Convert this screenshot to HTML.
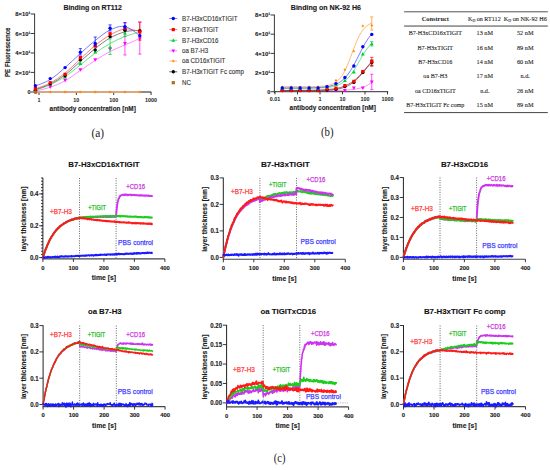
<!DOCTYPE html>
<html><head><meta charset="utf-8"><style>
html,body{margin:0;padding:0;background:#fff;}
body{width:550px;height:470px;overflow:hidden;}
svg{display:block;font-family:"Liberation Sans", sans-serif;}
</style></head><body>
<svg width="550" height="470" viewBox="0 0 550 470">
<rect width="550" height="470" fill="#fff"/>
<line x1="34.60" y1="13.60" x2="34.60" y2="92.60" stroke="#222" stroke-width="0.9"/>
<line x1="34.15" y1="92.00" x2="151.30" y2="92.00" stroke="#666" stroke-width="1.3"/>
<line x1="30.80" y1="14.00" x2="34.60" y2="14.00" stroke="#222" stroke-width="0.9"/>
<text x="30.50" y="16.10" font-size="5.5" fill="#222" stroke="#222" stroke-width="0.1" text-anchor="end" font-weight="bold" textLength="15.20" lengthAdjust="spacingAndGlyphs">8×10¹</text>
<line x1="30.80" y1="33.50" x2="34.60" y2="33.50" stroke="#222" stroke-width="0.9"/>
<text x="30.50" y="35.60" font-size="5.5" fill="#222" stroke="#222" stroke-width="0.1" text-anchor="end" font-weight="bold" textLength="15.20" lengthAdjust="spacingAndGlyphs">6×10¹</text>
<line x1="30.80" y1="53.00" x2="34.60" y2="53.00" stroke="#222" stroke-width="0.9"/>
<text x="30.50" y="55.10" font-size="5.5" fill="#222" stroke="#222" stroke-width="0.1" text-anchor="end" font-weight="bold" textLength="15.20" lengthAdjust="spacingAndGlyphs">4×10¹</text>
<line x1="30.80" y1="72.40" x2="34.60" y2="72.40" stroke="#222" stroke-width="0.9"/>
<text x="30.50" y="74.50" font-size="5.5" fill="#222" stroke="#222" stroke-width="0.1" text-anchor="end" font-weight="bold" textLength="15.20" lengthAdjust="spacingAndGlyphs">2×10¹</text>
<line x1="30.80" y1="92.00" x2="34.60" y2="92.00" stroke="#222" stroke-width="0.9"/>
<text x="30.50" y="94.10" font-size="5.5" fill="#222" stroke="#222" stroke-width="0.1" text-anchor="end" font-weight="bold">0</text>
<line x1="39.00" y1="92.00" x2="39.00" y2="95.00" stroke="#222" stroke-width="0.9"/>
<text x="39.00" y="101.60" font-size="5.4" fill="#222" text-anchor="middle" font-weight="bold">1</text>
<line x1="76.35" y1="92.00" x2="76.35" y2="95.00" stroke="#222" stroke-width="0.9"/>
<text x="76.35" y="101.60" font-size="5.4" fill="#222" text-anchor="middle" font-weight="bold">10</text>
<line x1="113.70" y1="92.00" x2="113.70" y2="95.00" stroke="#222" stroke-width="0.9"/>
<text x="113.70" y="101.60" font-size="5.4" fill="#222" text-anchor="middle" font-weight="bold">100</text>
<line x1="151.05" y1="92.00" x2="151.05" y2="95.00" stroke="#222" stroke-width="0.9"/>
<text x="151.05" y="101.60" font-size="5.4" fill="#222" text-anchor="middle" font-weight="bold">1000</text>
<text x="49.60" y="111.30" font-size="6.5" fill="#1a1a1a" stroke="#1a1a1a" stroke-width="0.12" font-weight="bold" textLength="86.20" lengthAdjust="spacingAndGlyphs">antibody concentration [nM]</text>
<text x="10.40" y="77.00" font-size="6.8" fill="#1a1a1a" stroke="#1a1a1a" stroke-width="0.15" font-weight="bold" textLength="49.50" lengthAdjust="spacingAndGlyphs" transform="rotate(-90 10.40 77.00)">PE Fluorescence</text>
<text x="63.40" y="10.00" font-size="7.4" fill="#1a1a1a" stroke="#1a1a1a" stroke-width="0.15" font-weight="bold" textLength="58.60" lengthAdjust="spacingAndGlyphs">Binding on RT112</text>
<line x1="35.40" y1="92.00" x2="139.80" y2="92.00" stroke="#f2b27a" stroke-width="1.3"/>
<path d="M35.38 91.00C37.86 90.37 45.29 88.90 50.24 87.20C55.20 85.50 60.09 83.58 65.11 80.80C70.12 78.02 75.34 73.88 80.35 70.50C85.37 67.12 90.26 63.67 95.22 60.50C100.17 57.33 105.13 54.08 110.08 51.50C115.03 48.92 119.99 47.17 124.94 45.00C129.90 42.83 137.33 39.58 139.81 38.50" fill="none" stroke="#ff66ff" stroke-width="0.75"/>
<path d="M35.38 90.20C37.86 89.30 45.29 87.08 50.24 84.80C55.20 82.52 60.09 79.80 65.11 76.50C70.12 73.20 75.34 68.92 80.35 65.00C85.37 61.08 90.26 56.58 95.22 53.00C100.17 49.42 105.13 46.25 110.08 43.50C115.03 40.75 119.99 38.42 124.94 36.50C129.90 34.58 137.33 32.75 139.81 32.00" fill="none" stroke="#33dd66" stroke-width="0.75"/>
<path d="M35.38 89.60C37.86 88.67 45.29 86.47 50.24 84.00C55.20 81.53 60.09 78.55 65.11 74.80C70.12 71.05 75.34 65.88 80.35 61.50C85.37 57.12 90.26 52.42 95.22 48.50C100.17 44.58 105.13 40.78 110.08 38.00C115.03 35.22 119.99 33.10 124.94 31.80C129.90 30.50 137.33 30.47 139.81 30.20" fill="none" stroke="#555555" stroke-width="0.75"/>
<path d="M35.38 88.80C37.86 87.83 45.29 85.63 50.24 83.00C55.20 80.37 60.09 77.00 65.11 73.00C70.12 69.00 75.34 63.58 80.35 59.00C85.37 54.42 90.26 49.50 95.22 45.50C100.17 41.50 105.13 37.75 110.08 35.00C115.03 32.25 119.99 29.58 124.94 29.00C129.90 28.42 137.33 31.08 139.81 31.50" fill="none" stroke="#ff5050" stroke-width="0.75"/>
<path d="M35.38 86.00C37.86 84.92 45.29 82.58 50.24 79.50C55.20 76.42 60.09 71.83 65.11 67.50C70.12 63.17 75.34 58.00 80.35 53.50C85.37 49.00 90.26 44.42 95.22 40.50C100.17 36.58 105.13 32.33 110.08 30.00C115.03 27.67 119.99 25.58 124.94 26.50C129.90 27.42 137.33 34.00 139.81 35.50" fill="none" stroke="#4d4dff" stroke-width="0.75"/>
<line x1="124.94" y1="22.70" x2="124.94" y2="55.00" stroke="#ff00ff" stroke-width="0.7"/>
<line x1="123.34" y1="22.70" x2="126.54" y2="22.70" stroke="#ff00ff" stroke-width="0.7"/>
<line x1="123.34" y1="55.00" x2="126.54" y2="55.00" stroke="#ff00ff" stroke-width="0.7"/>
<line x1="139.81" y1="22.10" x2="139.81" y2="54.10" stroke="#ff00ff" stroke-width="0.7"/>
<line x1="138.21" y1="22.10" x2="141.41" y2="22.10" stroke="#ff00ff" stroke-width="0.7"/>
<line x1="138.21" y1="54.10" x2="141.41" y2="54.10" stroke="#ff00ff" stroke-width="0.7"/>
<path d="M35.38 93.20L37.28 89.78L33.48 89.78Z" fill="#ff00ff"/>
<path d="M50.24 88.90L52.14 85.48L48.34 85.48Z" fill="#ff00ff"/>
<path d="M65.11 82.20L67.01 78.78L63.21 78.78Z" fill="#ff00ff"/>
<path d="M80.35 71.70L82.25 68.28L78.45 68.28Z" fill="#ff00ff"/>
<path d="M95.22 61.70L97.12 58.28L93.32 58.28Z" fill="#ff00ff"/>
<path d="M110.08 50.90L111.98 47.48L108.18 47.48Z" fill="#ff00ff"/>
<path d="M124.94 45.50L126.84 42.08L123.04 42.08Z" fill="#ff00ff"/>
<path d="M139.81 40.70L141.71 37.28L137.91 37.28Z" fill="#ff00ff"/>
<line x1="110.08" y1="38.80" x2="110.08" y2="54.50" stroke="#00cc33" stroke-width="0.7"/>
<line x1="108.48" y1="38.80" x2="111.68" y2="38.80" stroke="#00cc33" stroke-width="0.7"/>
<line x1="108.48" y1="54.50" x2="111.68" y2="54.50" stroke="#00cc33" stroke-width="0.7"/>
<line x1="124.94" y1="29.50" x2="124.94" y2="36.50" stroke="#00cc33" stroke-width="0.7"/>
<line x1="123.34" y1="29.50" x2="126.54" y2="29.50" stroke="#00cc33" stroke-width="0.7"/>
<line x1="123.34" y1="36.50" x2="126.54" y2="36.50" stroke="#00cc33" stroke-width="0.7"/>
<path d="M35.38 89.10L37.28 92.52L33.48 92.52Z" fill="#00cc33"/>
<path d="M50.24 82.70L52.14 86.12L48.34 86.12Z" fill="#00cc33"/>
<path d="M65.11 75.20L67.01 78.62L63.21 78.62Z" fill="#00cc33"/>
<path d="M80.35 61.50L82.25 64.92L78.45 64.92Z" fill="#00cc33"/>
<path d="M95.22 50.10L97.12 53.52L93.32 53.52Z" fill="#00cc33"/>
<path d="M110.08 45.40L111.98 48.82L108.18 48.82Z" fill="#00cc33"/>
<path d="M124.94 31.00L126.84 34.42L123.04 34.42Z" fill="#00cc33"/>
<path d="M139.81 28.60L141.71 32.02L137.91 32.02Z" fill="#00cc33"/>
<circle cx="35.38" cy="90.20" r="1.70" fill="#000000"/>
<circle cx="50.24" cy="83.80" r="1.70" fill="#000000"/>
<circle cx="65.11" cy="75.80" r="1.70" fill="#000000"/>
<circle cx="80.35" cy="59.90" r="1.70" fill="#000000"/>
<circle cx="95.22" cy="49.90" r="1.70" fill="#000000"/>
<circle cx="110.08" cy="36.60" r="1.70" fill="#000000"/>
<circle cx="124.94" cy="30.30" r="1.70" fill="#000000"/>
<circle cx="139.81" cy="30.70" r="1.70" fill="#000000"/>
<line x1="139.81" y1="22.10" x2="139.81" y2="40.20" stroke="#ff0000" stroke-width="0.7"/>
<line x1="138.21" y1="22.10" x2="141.41" y2="22.10" stroke="#ff0000" stroke-width="0.7"/>
<line x1="138.21" y1="40.20" x2="141.41" y2="40.20" stroke="#ff0000" stroke-width="0.7"/>
<rect x="33.78" y="87.00" width="3.20" height="3.20" fill="#ff0000"/>
<rect x="48.64" y="81.10" width="3.20" height="3.20" fill="#ff0000"/>
<rect x="63.51" y="72.70" width="3.20" height="3.20" fill="#ff0000"/>
<rect x="78.75" y="55.90" width="3.20" height="3.20" fill="#ff0000"/>
<rect x="93.62" y="44.50" width="3.20" height="3.20" fill="#ff0000"/>
<rect x="108.48" y="32.10" width="3.20" height="3.20" fill="#ff0000"/>
<rect x="123.34" y="27.00" width="3.20" height="3.20" fill="#ff0000"/>
<rect x="138.21" y="30.40" width="3.20" height="3.20" fill="#ff0000"/>
<line x1="80.35" y1="48.60" x2="80.35" y2="55.00" stroke="#0000ff" stroke-width="0.7"/>
<line x1="78.75" y1="48.60" x2="81.95" y2="48.60" stroke="#0000ff" stroke-width="0.7"/>
<line x1="78.75" y1="55.00" x2="81.95" y2="55.00" stroke="#0000ff" stroke-width="0.7"/>
<line x1="95.22" y1="37.00" x2="95.22" y2="46.00" stroke="#0000ff" stroke-width="0.7"/>
<line x1="93.62" y1="37.00" x2="96.82" y2="37.00" stroke="#0000ff" stroke-width="0.7"/>
<line x1="93.62" y1="46.00" x2="96.82" y2="46.00" stroke="#0000ff" stroke-width="0.7"/>
<line x1="110.08" y1="24.90" x2="110.08" y2="31.00" stroke="#0000ff" stroke-width="0.7"/>
<line x1="108.48" y1="24.90" x2="111.68" y2="24.90" stroke="#0000ff" stroke-width="0.7"/>
<line x1="108.48" y1="31.00" x2="111.68" y2="31.00" stroke="#0000ff" stroke-width="0.7"/>
<line x1="124.94" y1="22.70" x2="124.94" y2="29.00" stroke="#0000ff" stroke-width="0.7"/>
<line x1="123.34" y1="22.70" x2="126.54" y2="22.70" stroke="#0000ff" stroke-width="0.7"/>
<line x1="123.34" y1="29.00" x2="126.54" y2="29.00" stroke="#0000ff" stroke-width="0.7"/>
<circle cx="35.38" cy="85.70" r="1.70" fill="#0000ff"/>
<circle cx="50.24" cy="78.60" r="1.70" fill="#0000ff"/>
<circle cx="65.11" cy="67.60" r="1.70" fill="#0000ff"/>
<circle cx="80.35" cy="52.20" r="1.70" fill="#0000ff"/>
<circle cx="95.22" cy="43.50" r="1.70" fill="#0000ff"/>
<circle cx="110.08" cy="28.30" r="1.70" fill="#0000ff"/>
<circle cx="124.94" cy="26.60" r="1.70" fill="#0000ff"/>
<circle cx="139.81" cy="35.80" r="1.70" fill="#0000ff"/>
<circle cx="35.38" cy="92.00" r="1.36" fill="#ff8c1a"/>
<circle cx="50.24" cy="92.00" r="1.36" fill="#ff8c1a"/>
<circle cx="65.11" cy="92.00" r="1.36" fill="#ff8c1a"/>
<circle cx="80.35" cy="92.00" r="1.36" fill="#ff8c1a"/>
<circle cx="95.22" cy="92.00" r="1.36" fill="#ff8c1a"/>
<circle cx="110.08" cy="92.00" r="1.36" fill="#ff8c1a"/>
<circle cx="124.94" cy="92.00" r="1.36" fill="#ff8c1a"/>
<circle cx="139.81" cy="92.00" r="1.36" fill="#ff8c1a"/>
<rect x="34.0" y="90.6" width="3.2" height="3.2" fill="#b06a20"/>
<line x1="169.30" y1="18.50" x2="177.30" y2="18.50" stroke="#6060ff" stroke-width="0.8"/>
<circle cx="173.30" cy="18.50" r="1.70" fill="#0000ff"/>
<text x="182.00" y="20.80" font-size="6.6" fill="#333" stroke="#333" stroke-width="0.12" textLength="55.47" lengthAdjust="spacingAndGlyphs">B7-H3xCD16xTIGIT</text>
<line x1="169.30" y1="29.60" x2="177.30" y2="29.60" stroke="#ff5050" stroke-width="0.8"/>
<rect x="171.70" y="28.00" width="3.20" height="3.20" fill="#ff0000"/>
<text x="182.00" y="31.90" font-size="6.6" fill="#333" stroke="#333" stroke-width="0.12" textLength="36.52" lengthAdjust="spacingAndGlyphs">B7-H3xTIGIT</text>
<line x1="169.30" y1="40.30" x2="177.30" y2="40.30" stroke="#40dd70" stroke-width="0.8"/>
<path d="M173.30 38.40L175.20 41.82L171.40 41.82Z" fill="#00cc33"/>
<text x="182.00" y="42.60" font-size="6.6" fill="#333" stroke="#333" stroke-width="0.12" textLength="36.53" lengthAdjust="spacingAndGlyphs">B7-H3xCD16</text>
<line x1="169.30" y1="50.90" x2="177.30" y2="50.90" stroke="#ff70ff" stroke-width="0.8"/>
<path d="M173.30 52.80L175.20 49.38L171.40 49.38Z" fill="#ff00ff"/>
<text x="182.00" y="53.20" font-size="6.6" fill="#333" stroke="#333" stroke-width="0.12" textLength="26.19" lengthAdjust="spacingAndGlyphs">oa B7-H3</text>
<line x1="169.30" y1="61.10" x2="177.30" y2="61.10" stroke="#ffaa50" stroke-width="0.8"/>
<path d="M173.30 59.70L174.70 61.10L173.30 62.50L171.90 61.10Z" fill="#ff8c00"/>
<text x="182.00" y="63.40" font-size="6.6" fill="#333" stroke="#333" stroke-width="0.12" textLength="43.41" lengthAdjust="spacingAndGlyphs">oa CD16xTIGIT</text>
<line x1="169.30" y1="71.80" x2="177.30" y2="71.80" stroke="#444" stroke-width="0.8"/>
<circle cx="173.30" cy="71.80" r="1.70" fill="#000000"/>
<text x="182.00" y="74.10" font-size="6.6" fill="#333" stroke="#333" stroke-width="0.12" textLength="61.90" lengthAdjust="spacingAndGlyphs">B7-H3xTIGIT Fc comp</text>
<rect x="171.7" y="81.10" width="3.2" height="3.2" fill="#b06a20"/>
<text x="182.00" y="85.00" font-size="6.6" fill="#333" stroke="#333" stroke-width="0.12" textLength="8.96" lengthAdjust="spacingAndGlyphs">NC</text>
<line x1="274.40" y1="14.60" x2="274.40" y2="93.20" stroke="#222" stroke-width="0.9"/>
<line x1="273.95" y1="91.60" x2="388.20" y2="91.60" stroke="#555" stroke-width="1.2"/>
<line x1="270.60" y1="15.00" x2="274.40" y2="15.00" stroke="#222" stroke-width="0.9"/>
<text x="270.30" y="17.10" font-size="5.5" fill="#222" stroke="#222" stroke-width="0.1" text-anchor="end" font-weight="bold" textLength="15.20" lengthAdjust="spacingAndGlyphs">8×10¹</text>
<line x1="270.60" y1="34.20" x2="274.40" y2="34.20" stroke="#222" stroke-width="0.9"/>
<text x="270.30" y="36.30" font-size="5.5" fill="#222" stroke="#222" stroke-width="0.1" text-anchor="end" font-weight="bold" textLength="15.20" lengthAdjust="spacingAndGlyphs">6×10¹</text>
<line x1="270.60" y1="53.40" x2="274.40" y2="53.40" stroke="#222" stroke-width="0.9"/>
<text x="270.30" y="55.50" font-size="5.5" fill="#222" stroke="#222" stroke-width="0.1" text-anchor="end" font-weight="bold" textLength="15.20" lengthAdjust="spacingAndGlyphs">4×10¹</text>
<line x1="270.60" y1="72.50" x2="274.40" y2="72.50" stroke="#222" stroke-width="0.9"/>
<text x="270.30" y="74.60" font-size="5.5" fill="#222" stroke="#222" stroke-width="0.1" text-anchor="end" font-weight="bold" textLength="15.20" lengthAdjust="spacingAndGlyphs">2×10¹</text>
<line x1="270.60" y1="91.70" x2="274.40" y2="91.70" stroke="#222" stroke-width="0.9"/>
<text x="270.30" y="93.80" font-size="5.5" fill="#222" stroke="#222" stroke-width="0.1" text-anchor="end" font-weight="bold">0</text>
<line x1="275.00" y1="91.60" x2="275.00" y2="94.40" stroke="#222" stroke-width="0.9"/>
<text x="275.00" y="100.60" font-size="5.4" fill="#222" text-anchor="middle" font-weight="bold">0.01</text>
<line x1="297.50" y1="91.60" x2="297.50" y2="94.40" stroke="#222" stroke-width="0.9"/>
<text x="297.50" y="100.60" font-size="5.4" fill="#222" text-anchor="middle" font-weight="bold">0.1</text>
<line x1="320.00" y1="91.60" x2="320.00" y2="94.40" stroke="#222" stroke-width="0.9"/>
<text x="320.00" y="100.60" font-size="5.4" fill="#222" text-anchor="middle" font-weight="bold">1</text>
<line x1="342.50" y1="91.60" x2="342.50" y2="94.40" stroke="#222" stroke-width="0.9"/>
<text x="342.50" y="100.60" font-size="5.4" fill="#222" text-anchor="middle" font-weight="bold">10</text>
<line x1="365.00" y1="91.60" x2="365.00" y2="94.40" stroke="#222" stroke-width="0.9"/>
<text x="365.00" y="100.60" font-size="5.4" fill="#222" text-anchor="middle" font-weight="bold">100</text>
<line x1="387.50" y1="91.60" x2="387.50" y2="94.40" stroke="#222" stroke-width="0.9"/>
<text x="387.50" y="100.60" font-size="5.4" fill="#222" text-anchor="middle" font-weight="bold">1000</text>
<text x="289.60" y="110.20" font-size="6.5" fill="#1a1a1a" stroke="#1a1a1a" stroke-width="0.12" font-weight="bold" textLength="86.20" lengthAdjust="spacingAndGlyphs">antibody concentration [nM]</text>
<text x="290.80" y="10.00" font-size="7.4" fill="#1a1a1a" stroke="#1a1a1a" stroke-width="0.15" font-weight="bold" textLength="70.20" lengthAdjust="spacingAndGlyphs">Binding on NK-92 H6</text>
<polyline points="281.77,86.70 283.30,86.70 284.82,86.70 286.35,86.70 287.87,86.70 289.40,86.70 290.93,86.70 292.45,86.70 293.98,86.69 295.50,86.69 297.03,86.69 298.55,86.69 300.08,86.69 301.60,86.68 303.13,86.68 304.65,86.67 306.18,86.66 307.71,86.65 309.23,86.64 310.76,86.62 312.28,86.60 313.81,86.57 315.33,86.53 316.86,86.48 318.38,86.42 319.91,86.35 321.43,86.25 322.96,86.12 324.49,85.96 326.01,85.75 327.54,85.48 329.06,85.15 330.59,84.72 332.11,84.18 333.64,83.50 335.16,82.66 336.69,81.60 338.21,80.30 339.74,78.70 341.26,76.78 342.79,74.49 344.32,71.82 345.84,68.75 347.37,65.31 348.89,61.57 350.42,57.59 351.94,53.49 353.47,49.39 354.99,45.43 356.52,41.70 358.04,38.29 359.57,35.26 361.10,32.61 362.62,30.35 364.15,28.46 365.67,26.89 367.20,25.61 368.72,24.57 370.25,23.74 371.77,23.07" fill="none" stroke="#ffa040" stroke-width="0.75"/>
<polyline points="281.77,90.60 283.30,90.60 284.82,90.60 286.35,90.60 287.87,90.60 289.40,90.60 290.93,90.60 292.45,90.60 293.98,90.60 295.50,90.60 297.03,90.60 298.55,90.60 300.08,90.60 301.60,90.60 303.13,90.60 304.65,90.59 306.18,90.59 307.71,90.59 309.23,90.59 310.76,90.59 312.28,90.59 313.81,90.59 315.33,90.58 316.86,90.58 318.38,90.58 319.91,90.57 321.43,90.57 322.96,90.56 324.49,90.55 326.01,90.54 327.54,90.53 329.06,90.52 330.59,90.51 332.11,90.49 333.64,90.47 335.16,90.45 336.69,90.42 338.21,90.38 339.74,90.34 341.26,90.30 342.79,90.24 344.32,90.17 345.84,90.10 347.37,90.00 348.89,89.89 350.42,89.76 351.94,89.61 353.47,89.43 354.99,89.21 356.52,88.96 358.04,88.66 359.57,88.31 361.10,87.90 362.62,87.41 364.15,86.84 365.67,86.16 367.20,85.37 368.72,84.45 370.25,83.37 371.77,82.11" fill="none" stroke="#ff66ff" stroke-width="0.75"/>
<polyline points="281.77,90.60 283.30,90.60 284.82,90.60 286.35,90.60 287.87,90.60 289.40,90.59 290.93,90.59 292.45,90.59 293.98,90.59 295.50,90.59 297.03,90.59 298.55,90.58 300.08,90.58 301.60,90.58 303.13,90.57 304.65,90.57 306.18,90.56 307.71,90.55 309.23,90.54 310.76,90.53 312.28,90.52 313.81,90.50 315.33,90.48 316.86,90.46 318.38,90.43 319.91,90.40 321.43,90.36 322.96,90.31 324.49,90.25 326.01,90.18 327.54,90.10 329.06,90.01 330.59,89.89 332.11,89.76 333.64,89.60 335.16,89.40 336.69,89.18 338.21,88.91 339.74,88.59 341.26,88.22 342.79,87.79 344.32,87.28 345.84,86.70 347.37,86.02 348.89,85.24 350.42,84.34 351.94,83.34 353.47,82.20 354.99,80.95 356.52,79.56 358.04,78.06 359.57,76.46 361.10,74.76 362.62,72.99 364.15,71.17 365.67,69.34 367.20,67.53 368.72,65.75 370.25,64.04 371.77,62.42" fill="none" stroke="#444" stroke-width="0.75"/>
<polyline points="281.77,90.39 283.30,90.39 284.82,90.39 286.35,90.39 287.87,90.38 289.40,90.38 290.93,90.38 292.45,90.38 293.98,90.37 295.50,90.37 297.03,90.36 298.55,90.35 300.08,90.35 301.60,90.34 303.13,90.33 304.65,90.32 306.18,90.30 307.71,90.28 309.23,90.27 310.76,90.24 312.28,90.22 313.81,90.19 315.33,90.15 316.86,90.11 318.38,90.06 319.91,90.01 321.43,89.94 322.96,89.87 324.49,89.78 326.01,89.68 327.54,89.56 329.06,89.42 330.59,89.27 332.11,89.08 333.64,88.87 335.16,88.62 336.69,88.34 338.21,88.01 339.74,87.64 341.26,87.21 342.79,86.72 344.32,86.16 345.84,85.53 347.37,84.81 348.89,84.01 350.42,83.11 351.94,82.11 353.47,81.00 354.99,79.78 356.52,78.46 358.04,77.03 359.57,75.50 361.10,73.89 362.62,72.19 364.15,70.44 365.67,68.64 367.20,66.82 368.72,64.99 370.25,63.19 371.77,61.43" fill="none" stroke="#cc2020" stroke-width="0.75"/>
<polyline points="281.77,88.30 283.30,88.30 284.82,88.30 286.35,88.30 287.87,88.29 289.40,88.29 290.93,88.29 292.45,88.29 293.98,88.29 295.50,88.29 297.03,88.28 298.55,88.28 300.08,88.28 301.60,88.27 303.13,88.26 304.65,88.26 306.18,88.25 307.71,88.23 309.23,88.22 310.76,88.20 312.28,88.18 313.81,88.15 315.33,88.12 316.86,88.08 318.38,88.04 319.91,87.98 321.43,87.91 322.96,87.82 324.49,87.72 326.01,87.59 327.54,87.44 329.06,87.25 330.59,87.03 332.11,86.76 333.64,86.43 335.16,86.04 336.69,85.57 338.21,85.01 339.74,84.34 341.26,83.55 342.79,82.62 344.32,81.53 345.84,80.26 347.37,78.81 348.89,77.16 350.42,75.30 351.94,73.25 353.47,71.01 354.99,68.61 356.52,66.08 358.04,63.46 359.57,60.80 361.10,58.15 362.62,55.57 364.15,53.09 365.67,50.77 367.20,48.62 368.72,46.66 370.25,44.91 371.77,43.35" fill="none" stroke="#33dd66" stroke-width="0.75"/>
<polyline points="281.77,87.99 283.30,87.99 284.82,87.99 286.35,87.99 287.87,87.99 289.40,87.99 290.93,87.98 292.45,87.98 293.98,87.98 295.50,87.97 297.03,87.97 298.55,87.96 300.08,87.95 301.60,87.94 303.13,87.93 304.65,87.92 306.18,87.90 307.71,87.88 309.23,87.85 310.76,87.82 312.28,87.78 313.81,87.74 315.33,87.69 316.86,87.62 318.38,87.54 319.91,87.45 321.43,87.34 322.96,87.21 324.49,87.04 326.01,86.85 327.54,86.62 329.06,86.34 330.59,86.01 332.11,85.61 333.64,85.14 335.16,84.58 336.69,83.93 338.21,83.15 339.74,82.24 341.26,81.17 342.79,79.94 344.32,78.52 345.84,76.90 347.37,75.07 348.89,73.02 350.42,70.76 351.94,68.29 353.47,65.63 354.99,62.81 356.52,59.87 358.04,56.86 359.57,53.83 361.10,50.83 362.62,47.92 364.15,45.13 365.67,42.51 367.20,40.07 368.72,37.85 370.25,35.85 371.77,34.06" fill="none" stroke="#4d4dff" stroke-width="0.75"/>
<line x1="371.77" y1="16.90" x2="371.77" y2="30.00" stroke="#ff8c00" stroke-width="0.7"/>
<line x1="370.17" y1="16.90" x2="373.37" y2="16.90" stroke="#ff8c00" stroke-width="0.7"/>
<line x1="370.17" y1="30.00" x2="373.37" y2="30.00" stroke="#ff8c00" stroke-width="0.7"/>
<path d="M282.24 85.40L283.64 86.80L282.24 88.20L280.84 86.80Z" fill="#ff8c00"/>
<path d="M291.19 85.40L292.59 86.80L291.19 88.20L289.79 86.80Z" fill="#ff8c00"/>
<path d="M300.14 85.40L301.54 86.80L300.14 88.20L298.74 86.80Z" fill="#ff8c00"/>
<path d="M309.10 85.40L310.50 86.80L309.10 88.20L307.70 86.80Z" fill="#ff8c00"/>
<path d="M318.05 85.40L319.45 86.80L318.05 88.20L316.65 86.80Z" fill="#ff8c00"/>
<path d="M327.00 84.80L328.40 86.20L327.00 87.60L325.60 86.20Z" fill="#ff8c00"/>
<path d="M335.96 79.10L337.36 80.50L335.96 81.90L334.56 80.50Z" fill="#ff8c00"/>
<path d="M344.91 68.30L346.31 69.70L344.91 71.10L343.51 69.70Z" fill="#ff8c00"/>
<path d="M353.87 49.80L355.27 51.20L353.87 52.60L352.47 51.20Z" fill="#ff8c00"/>
<path d="M362.82 24.50L364.22 25.90L362.82 27.30L361.42 25.90Z" fill="#ff8c00"/>
<path d="M371.77 24.00L373.17 25.40L371.77 26.80L370.37 25.40Z" fill="#ff8c00"/>
<line x1="371.77" y1="74.20" x2="371.77" y2="89.60" stroke="#ff00ff" stroke-width="0.7"/>
<line x1="370.17" y1="74.20" x2="373.37" y2="74.20" stroke="#ff00ff" stroke-width="0.7"/>
<line x1="370.17" y1="89.60" x2="373.37" y2="89.60" stroke="#ff00ff" stroke-width="0.7"/>
<path d="M282.24 92.50L284.14 89.08L280.34 89.08Z" fill="#ff00ff"/>
<path d="M291.19 92.50L293.09 89.08L289.29 89.08Z" fill="#ff00ff"/>
<path d="M300.14 92.50L302.04 89.08L298.24 89.08Z" fill="#ff00ff"/>
<path d="M309.10 92.50L311.00 89.08L307.20 89.08Z" fill="#ff00ff"/>
<path d="M318.05 92.50L319.95 89.08L316.15 89.08Z" fill="#ff00ff"/>
<path d="M327.00 92.50L328.90 89.08L325.10 89.08Z" fill="#ff00ff"/>
<path d="M335.96 92.50L337.86 89.08L334.06 89.08Z" fill="#ff00ff"/>
<path d="M344.91 92.50L346.81 89.08L343.01 89.08Z" fill="#ff00ff"/>
<path d="M353.87 90.00L355.77 86.58L351.97 86.58Z" fill="#ff00ff"/>
<path d="M362.82 90.00L364.72 86.58L360.92 86.58Z" fill="#ff00ff"/>
<path d="M371.77 83.90L373.67 80.48L369.87 80.48Z" fill="#ff00ff"/>
<line x1="371.77" y1="60.00" x2="371.77" y2="66.00" stroke="#000000" stroke-width="0.7"/>
<line x1="370.17" y1="60.00" x2="373.37" y2="60.00" stroke="#000000" stroke-width="0.7"/>
<line x1="370.17" y1="66.00" x2="373.37" y2="66.00" stroke="#000000" stroke-width="0.7"/>
<circle cx="282.24" cy="90.60" r="1.70" fill="#000000"/>
<circle cx="291.19" cy="90.60" r="1.70" fill="#000000"/>
<circle cx="300.14" cy="90.60" r="1.70" fill="#000000"/>
<circle cx="309.10" cy="90.60" r="1.70" fill="#000000"/>
<circle cx="318.05" cy="90.60" r="1.70" fill="#000000"/>
<circle cx="327.00" cy="90.00" r="1.70" fill="#000000"/>
<circle cx="335.96" cy="89.30" r="1.70" fill="#000000"/>
<circle cx="344.91" cy="86.60" r="1.70" fill="#000000"/>
<circle cx="353.87" cy="82.40" r="1.70" fill="#000000"/>
<circle cx="362.82" cy="72.50" r="1.70" fill="#000000"/>
<circle cx="371.77" cy="62.50" r="1.70" fill="#000000"/>
<line x1="371.77" y1="57.40" x2="371.77" y2="65.70" stroke="#ff0000" stroke-width="0.7"/>
<line x1="370.17" y1="57.40" x2="373.37" y2="57.40" stroke="#ff0000" stroke-width="0.7"/>
<line x1="370.17" y1="65.70" x2="373.37" y2="65.70" stroke="#ff0000" stroke-width="0.7"/>
<rect x="280.64" y="88.80" width="3.20" height="3.20" fill="#ff0000"/>
<rect x="289.59" y="88.80" width="3.20" height="3.20" fill="#ff0000"/>
<rect x="298.54" y="88.80" width="3.20" height="3.20" fill="#ff0000"/>
<rect x="307.50" y="88.80" width="3.20" height="3.20" fill="#ff0000"/>
<rect x="316.45" y="88.80" width="3.20" height="3.20" fill="#ff0000"/>
<rect x="325.40" y="87.40" width="3.20" height="3.20" fill="#ff0000"/>
<rect x="334.36" y="86.70" width="3.20" height="3.20" fill="#ff0000"/>
<rect x="343.31" y="84.00" width="3.20" height="3.20" fill="#ff0000"/>
<rect x="352.27" y="79.80" width="3.20" height="3.20" fill="#ff0000"/>
<rect x="361.22" y="69.90" width="3.20" height="3.20" fill="#ff0000"/>
<rect x="370.17" y="59.90" width="3.20" height="3.20" fill="#ff0000"/>
<line x1="371.77" y1="41.60" x2="371.77" y2="46.00" stroke="#00cc33" stroke-width="0.7"/>
<line x1="370.17" y1="41.60" x2="373.37" y2="41.60" stroke="#00cc33" stroke-width="0.7"/>
<line x1="370.17" y1="46.00" x2="373.37" y2="46.00" stroke="#00cc33" stroke-width="0.7"/>
<path d="M282.24 86.60L284.14 90.02L280.34 90.02Z" fill="#00cc33"/>
<path d="M291.19 86.60L293.09 90.02L289.29 90.02Z" fill="#00cc33"/>
<path d="M300.14 86.60L302.04 90.02L298.24 90.02Z" fill="#00cc33"/>
<path d="M309.10 86.60L311.00 90.02L307.20 90.02Z" fill="#00cc33"/>
<path d="M318.05 86.60L319.95 90.02L316.15 90.02Z" fill="#00cc33"/>
<path d="M327.00 85.00L328.90 88.42L325.10 88.42Z" fill="#00cc33"/>
<path d="M335.96 82.80L337.86 86.22L334.06 86.22Z" fill="#00cc33"/>
<path d="M344.91 78.60L346.81 82.02L343.01 82.02Z" fill="#00cc33"/>
<path d="M353.87 70.10L355.77 73.52L351.97 73.52Z" fill="#00cc33"/>
<path d="M362.82 52.10L364.72 55.52L360.92 55.52Z" fill="#00cc33"/>
<path d="M371.77 41.90L373.67 45.32L369.87 45.32Z" fill="#00cc33"/>
<circle cx="282.24" cy="88.00" r="1.70" fill="#0000ff"/>
<circle cx="291.19" cy="88.00" r="1.70" fill="#0000ff"/>
<circle cx="300.14" cy="88.00" r="1.70" fill="#0000ff"/>
<circle cx="309.10" cy="88.00" r="1.70" fill="#0000ff"/>
<circle cx="318.05" cy="88.00" r="1.70" fill="#0000ff"/>
<circle cx="327.00" cy="86.60" r="1.70" fill="#0000ff"/>
<circle cx="335.96" cy="83.60" r="1.70" fill="#0000ff"/>
<circle cx="344.91" cy="77.50" r="1.70" fill="#0000ff"/>
<circle cx="353.87" cy="66.00" r="1.70" fill="#0000ff"/>
<circle cx="362.82" cy="46.70" r="1.70" fill="#0000ff"/>
<circle cx="371.77" cy="34.40" r="1.70" fill="#0000ff"/>
<rect x="404.1" y="11.3" width="143.7" height="1.0" fill="#555"/>
<rect x="404.1" y="25.5" width="143.7" height="1.1" fill="#555"/>
<rect x="404.1" y="112.0" width="143.7" height="1.1" fill="#555"/>
<text x="435.30" y="20.70" font-size="6.9" fill="#222" text-anchor="middle" font-weight="bold" font-family='"Liberation Serif", serif' textLength="27.20" lengthAdjust="spacingAndGlyphs">Construct</text>
<text x="468.0" y="20.9" font-size="6.7" fill="#222" stroke="#222" stroke-width="0.1" textLength="32.7" lengthAdjust="spacingAndGlyphs" font-family='"Liberation Serif", serif'>K<tspan font-size="4.3" dy="1.2">D</tspan><tspan dy="-1.2"> on RT112</tspan></text>
<text x="503.7" y="20.9" font-size="6.7" fill="#222" stroke="#222" stroke-width="0.1" textLength="43.1" lengthAdjust="spacingAndGlyphs" font-family='"Liberation Serif", serif'>K<tspan font-size="4.3" dy="1.2">D</tspan><tspan dy="-1.2"> on NK-92 H6</tspan></text>
<text x="435.30" y="35.40" font-size="7.0" fill="#222" stroke="#222" stroke-width="0.1" text-anchor="middle" font-family='"Liberation Serif", serif' textLength="53.20" lengthAdjust="spacingAndGlyphs">B7-H3xCD16xTIGIT</text>
<text x="484.80" y="35.40" font-size="7.0" fill="#222" stroke="#222" stroke-width="0.1" text-anchor="middle" font-family='"Liberation Serif", serif' textLength="16.36" lengthAdjust="spacingAndGlyphs">13 nM</text>
<text x="525.20" y="35.40" font-size="7.0" fill="#222" stroke="#222" stroke-width="0.1" text-anchor="middle" font-family='"Liberation Serif", serif' textLength="16.63" lengthAdjust="spacingAndGlyphs">52 nM</text>
<text x="435.30" y="49.70" font-size="7.0" fill="#222" stroke="#222" stroke-width="0.1" text-anchor="middle" font-family='"Liberation Serif", serif' textLength="35.58" lengthAdjust="spacingAndGlyphs">B7-H3xTIGIT</text>
<text x="484.80" y="49.70" font-size="7.0" fill="#222" stroke="#222" stroke-width="0.1" text-anchor="middle" font-family='"Liberation Serif", serif' textLength="16.36" lengthAdjust="spacingAndGlyphs">16 nM</text>
<text x="525.20" y="49.70" font-size="7.0" fill="#222" stroke="#222" stroke-width="0.1" text-anchor="middle" font-family='"Liberation Serif", serif' textLength="16.63" lengthAdjust="spacingAndGlyphs">89 nM</text>
<text x="435.30" y="64.00" font-size="7.0" fill="#222" stroke="#222" stroke-width="0.1" text-anchor="middle" font-family='"Liberation Serif", serif' textLength="34.23" lengthAdjust="spacingAndGlyphs">B7-H3xCD16</text>
<text x="484.80" y="64.00" font-size="7.0" fill="#222" stroke="#222" stroke-width="0.1" text-anchor="middle" font-family='"Liberation Serif", serif' textLength="16.36" lengthAdjust="spacingAndGlyphs">14 nM</text>
<text x="525.20" y="64.00" font-size="7.0" fill="#222" stroke="#222" stroke-width="0.1" text-anchor="middle" font-family='"Liberation Serif", serif' textLength="16.63" lengthAdjust="spacingAndGlyphs">60 nM</text>
<text x="435.30" y="78.30" font-size="7.0" fill="#222" stroke="#222" stroke-width="0.1" text-anchor="middle" font-family='"Liberation Serif", serif' textLength="23.89" lengthAdjust="spacingAndGlyphs">oa B7-H3</text>
<text x="484.80" y="78.30" font-size="7.0" fill="#222" stroke="#222" stroke-width="0.1" text-anchor="middle" font-family='"Liberation Serif", serif' textLength="16.36" lengthAdjust="spacingAndGlyphs">17 nM</text>
<text x="525.20" y="78.30" font-size="7.0" fill="#222" stroke="#222" stroke-width="0.1" text-anchor="middle" font-family='"Liberation Serif", serif' textLength="9.45" lengthAdjust="spacingAndGlyphs">n.d.</text>
<text x="435.30" y="92.60" font-size="7.0" fill="#222" stroke="#222" stroke-width="0.1" text-anchor="middle" font-family='"Liberation Serif", serif' textLength="40.83" lengthAdjust="spacingAndGlyphs">oa CD16xTIGIT</text>
<text x="484.80" y="92.60" font-size="7.0" fill="#222" stroke="#222" stroke-width="0.1" text-anchor="middle" font-family='"Liberation Serif", serif' textLength="9.30" lengthAdjust="spacingAndGlyphs">n.d.</text>
<text x="525.20" y="92.60" font-size="7.0" fill="#222" stroke="#222" stroke-width="0.1" text-anchor="middle" font-family='"Liberation Serif", serif' textLength="16.63" lengthAdjust="spacingAndGlyphs">26 nM</text>
<text x="435.30" y="106.90" font-size="7.0" fill="#222" stroke="#222" stroke-width="0.1" text-anchor="middle" font-family='"Liberation Serif", serif' textLength="58.17" lengthAdjust="spacingAndGlyphs">B7-H3xTIGIT Fc comp</text>
<text x="484.80" y="106.90" font-size="7.0" fill="#222" stroke="#222" stroke-width="0.1" text-anchor="middle" font-family='"Liberation Serif", serif' textLength="16.36" lengthAdjust="spacingAndGlyphs">15 nM</text>
<text x="525.20" y="106.90" font-size="7.0" fill="#222" stroke="#222" stroke-width="0.1" text-anchor="middle" font-family='"Liberation Serif", serif' textLength="16.63" lengthAdjust="spacingAndGlyphs">89 nM</text>
<path d="M41.00 257.60H42.90M41.00 254.42H42.90M41.00 251.23H42.90M41.00 248.05H42.90M41.00 244.86H42.90M41.00 241.68H42.90M41.00 238.50H42.90M41.00 235.31H42.90M41.00 232.13H42.90M41.00 228.94H42.90M41.00 225.76H42.90M41.00 222.58H42.90M41.00 219.39H42.90M41.00 216.21H42.90M41.00 213.02H42.90M41.00 209.84H42.90M41.00 206.66H42.90M41.00 203.47H42.90M41.00 200.29H42.90M41.00 197.10H42.90M41.00 193.92H42.90M41.00 190.74H42.90M41.00 187.55H42.90M41.00 184.37H42.90M41.00 181.18H42.90M41.00 178.00H42.90" stroke="#222" stroke-width="0.9"/>
<line x1="42.90" y1="177.70" x2="42.90" y2="258.90" stroke="#222" stroke-width="1.0"/>
<line x1="42.40" y1="258.90" x2="164.90" y2="258.90" stroke="#444" stroke-width="1.1"/>
<line x1="39.20" y1="257.60" x2="42.90" y2="257.60" stroke="#222" stroke-width="0.9"/>
<text x="38.40" y="259.90" font-size="6.4" fill="#222" stroke="#222" stroke-width="0.12" text-anchor="end" font-weight="bold" textLength="8.40" lengthAdjust="spacingAndGlyphs">0.0</text>
<line x1="39.20" y1="225.76" x2="42.90" y2="225.76" stroke="#222" stroke-width="0.9"/>
<text x="38.40" y="228.06" font-size="6.4" fill="#222" stroke="#222" stroke-width="0.12" text-anchor="end" font-weight="bold" textLength="8.40" lengthAdjust="spacingAndGlyphs">0.2</text>
<line x1="39.20" y1="193.92" x2="42.90" y2="193.92" stroke="#222" stroke-width="0.9"/>
<text x="38.40" y="196.22" font-size="6.4" fill="#222" stroke="#222" stroke-width="0.12" text-anchor="end" font-weight="bold" textLength="8.40" lengthAdjust="spacingAndGlyphs">0.4</text>
<line x1="42.90" y1="258.90" x2="42.90" y2="261.90" stroke="#222" stroke-width="0.9"/>
<text x="42.90" y="269.50" font-size="6.2" fill="#222" stroke="#222" stroke-width="0.12" text-anchor="middle" font-weight="bold" textLength="3.30" lengthAdjust="spacingAndGlyphs">0</text>
<line x1="73.40" y1="258.90" x2="73.40" y2="261.90" stroke="#222" stroke-width="0.9"/>
<text x="73.40" y="269.50" font-size="6.2" fill="#222" stroke="#222" stroke-width="0.12" text-anchor="middle" font-weight="bold" textLength="9.90" lengthAdjust="spacingAndGlyphs">100</text>
<line x1="103.90" y1="258.90" x2="103.90" y2="261.90" stroke="#222" stroke-width="0.9"/>
<text x="103.90" y="269.50" font-size="6.2" fill="#222" stroke="#222" stroke-width="0.12" text-anchor="middle" font-weight="bold" textLength="9.90" lengthAdjust="spacingAndGlyphs">200</text>
<line x1="134.40" y1="258.90" x2="134.40" y2="261.90" stroke="#222" stroke-width="0.9"/>
<text x="134.40" y="269.50" font-size="6.2" fill="#222" stroke="#222" stroke-width="0.12" text-anchor="middle" font-weight="bold" textLength="9.90" lengthAdjust="spacingAndGlyphs">300</text>
<line x1="164.90" y1="258.90" x2="164.90" y2="261.90" stroke="#222" stroke-width="0.9"/>
<text x="164.90" y="269.50" font-size="6.2" fill="#222" stroke="#222" stroke-width="0.12" text-anchor="middle" font-weight="bold" textLength="9.90" lengthAdjust="spacingAndGlyphs">400</text>
<line x1="79.50" y1="178.00" x2="79.50" y2="258.90" stroke="#555" stroke-width="0.9" stroke-dasharray="1 1.4"/>
<line x1="116.10" y1="178.00" x2="116.10" y2="258.90" stroke="#555" stroke-width="0.9" stroke-dasharray="1 1.4"/>
<text x="91.80" y="280.20" font-size="6.9" fill="#1a1a1a" stroke="#1a1a1a" stroke-width="0.12" font-weight="bold" textLength="24.30" lengthAdjust="spacingAndGlyphs">time [s]</text>
<text x="26.20" y="251.40" font-size="6.8" fill="#1a1a1a" stroke="#1a1a1a" stroke-width="0.12" font-weight="bold" textLength="65.00" lengthAdjust="spacingAndGlyphs" transform="rotate(-90 26.20 251.40)">layer thickness [nm]</text>
<text x="68.30" y="166.80" font-size="8.1" fill="#111" stroke="#111" stroke-width="0.1" font-weight="bold" textLength="71.30" lengthAdjust="spacingAndGlyphs">B7-H3xCD16xTIGIT</text>
<text x="49.90" y="213.60" font-size="7.3" fill="#ff3b3b" stroke="#ff3b3b" stroke-width="0.25" textLength="22.00" lengthAdjust="spacingAndGlyphs">+B7-H3</text>
<text x="88.30" y="210.00" font-size="7.3" fill="#22bb22" stroke="#22bb22" stroke-width="0.25" textLength="17.60" lengthAdjust="spacingAndGlyphs">+TIGIT</text>
<text x="126.30" y="188.60" font-size="7.3" fill="#cc33dd" stroke="#cc33dd" stroke-width="0.25" textLength="18.80" lengthAdjust="spacingAndGlyphs">+CD16</text>
<text x="118.00" y="244.90" font-size="7.3" fill="#3d3dff" stroke="#3d3dff" stroke-width="0.25" textLength="35.10" lengthAdjust="spacingAndGlyphs">PBS control</text>
<polyline points="42.9,257.6 43.2,256.5 43.5,255.7 43.8,254.8 44.1,253.8 44.4,253.0 44.7,251.9 45.0,250.8 45.3,250.3 45.6,249.5 45.9,248.5 46.3,247.7 46.6,247.0 46.9,246.5 47.2,245.6 47.5,244.7 47.8,244.4 48.1,243.6 48.4,243.2 48.7,242.4 49.0,241.9 49.3,240.9 49.6,240.5 49.9,239.7 50.2,239.1 50.5,238.6 50.8,238.5 51.1,237.6 51.4,237.0 51.7,236.4 52.0,236.2 52.4,235.6 52.7,235.2 53.0,234.7 53.3,233.9 53.6,233.8 53.9,233.2 54.2,232.6 54.5,232.5 54.8,232.0 55.1,231.5 55.4,231.2 55.7,231.0 56.0,230.4 56.3,229.8 56.6,230.0 56.9,229.2 57.2,229.0 57.5,228.9 57.8,228.0 58.1,228.0 58.5,228.0 58.8,227.5 59.1,227.1 59.4,227.0 59.7,226.6 60.0,226.4 60.3,226.0 60.6,225.6 60.9,225.8 61.2,225.4 61.5,225.3 61.8,224.9 62.1,224.9 62.4,224.6 62.7,224.3 63.0,223.9 63.3,223.6 63.6,223.9 63.9,223.6 64.2,223.2 64.6,223.5 64.9,223.0 65.2,222.7 65.5,222.3 65.8,222.3 66.1,222.3 66.4,222.1 66.7,221.9 67.0,221.5 67.3,221.7 67.6,221.5 67.9,221.2 68.2,221.2 68.5,221.1 68.8,221.1 69.1,220.8 69.4,220.7 69.7,220.3 70.0,220.3 70.3,220.3 70.7,220.0 71.0,220.1 71.3,219.7 71.6,219.8 71.9,219.6 72.2,219.9 72.5,219.5 72.8,219.7 73.1,219.7 73.4,219.3 73.7,219.3 74.0,219.0 74.3,218.5 74.6,219.0 74.9,218.9 75.2,218.7 75.5,218.6 75.8,218.6 76.1,218.5 76.4,218.3 76.8,218.3 77.1,218.5 77.4,218.2 77.7,218.1 78.0,218.3 78.3,218.0 78.6,218.1 78.9,217.7 79.2,217.8 79.5,217.8 79.8,217.9 80.1,217.8 80.4,218.1 80.7,217.9 81.0,217.6 81.3,218.0 81.6,217.5 81.9,217.9 82.2,217.4 82.5,217.7 82.9,217.4 83.2,217.5 83.5,217.8 83.8,217.2 84.1,217.2 84.4,217.4 84.7,217.5 85.0,217.4 85.3,217.6 85.6,217.2 85.9,217.5 86.2,217.3 86.5,217.5 86.8,217.4 87.1,217.5 87.4,217.0 87.7,217.3 88.0,217.1 88.3,217.2 88.7,217.3 89.0,217.3 89.3,217.3 89.6,217.2 89.9,217.2 90.2,217.2 90.5,217.4 90.8,217.3 91.1,216.8 91.4,217.2 91.7,217.3 92.0,217.0 92.3,216.8 92.6,217.3 92.9,217.1 93.2,217.2 93.5,217.4 93.8,216.9 94.1,217.0 94.4,217.0 94.8,217.1 95.1,216.9 95.4,217.1 95.7,217.0 96.0,217.2 96.3,217.2 96.6,216.7 96.9,217.0 97.2,216.9 97.5,216.9 97.8,217.0 98.1,217.0 98.4,216.8 98.7,216.9 99.0,216.9 99.3,216.9 99.6,216.6 99.9,216.7 100.2,216.8 100.5,216.9 100.8,217.1 101.2,216.6 101.5,216.6 101.8,216.8 102.1,216.7 102.4,216.7 102.7,216.6 103.0,216.6 103.3,216.9 103.6,216.5 103.9,217.0 104.2,216.6 104.5,216.7 104.8,216.6 105.1,216.4 105.4,216.5 105.7,217.0 106.0,217.1 106.3,216.6 106.6,216.9 106.9,216.7 107.3,216.6 107.6,217.0 107.9,217.1 108.2,216.7 108.5,216.7 108.8,216.8 109.1,216.7 109.4,216.9 109.7,217.0 110.0,216.7 110.3,216.9 110.6,217.0 110.9,216.6 111.2,216.7 111.5,216.6 111.8,216.9 112.1,216.8 112.4,216.9 112.7,216.8 113.0,216.6 113.4,216.8 113.7,216.6 114.0,216.6 114.3,216.3 114.6,216.9 114.9,216.5 115.2,216.7 115.5,216.6 115.8,216.9 116.1,216.6 116.4,212.4 116.7,209.2 117.0,206.5 117.3,204.4 117.6,202.3 117.9,201.0 118.2,200.3 118.5,199.0 118.8,198.4 119.2,198.0 119.5,197.0 119.8,196.2 120.1,196.1 120.4,196.0 120.7,195.7 121.0,195.2 121.3,195.2 121.6,195.1 121.9,195.0 122.2,194.9 122.5,194.7 122.8,194.7 123.1,194.8 123.4,195.0 123.7,194.7 124.0,194.9 124.3,194.5 124.6,195.0 124.9,194.8 125.2,194.7 125.6,195.0 125.9,194.4 126.2,194.5 126.5,194.8 126.8,194.6 127.1,194.7 127.4,195.3 127.7,194.8 128.0,194.8 128.3,194.8 128.6,195.0 128.9,194.9 129.2,194.9 129.5,194.7 129.8,194.8 130.1,194.9 130.4,194.6 130.7,195.0 131.0,195.0 131.3,195.3 131.7,194.7 132.0,194.8 132.3,194.8 132.6,194.9 132.9,195.0 133.2,195.0 133.5,195.1 133.8,195.1 134.1,195.1 134.4,194.8 134.7,195.0 135.0,195.2 135.3,195.3 135.6,195.3 135.9,194.9 136.2,195.1 136.5,195.2 136.8,195.3 137.1,195.5 137.4,195.3 137.8,195.1 138.1,195.4 138.4,195.3 138.7,195.4 139.0,195.3 139.3,195.7 139.6,195.4 139.9,195.5 140.2,195.2 140.5,195.6 140.8,195.3 141.1,195.1 141.4,195.5 141.7,195.6 142.0,195.4 142.3,195.5 142.6,195.7 142.9,195.4 143.2,195.2 143.5,195.6 143.9,195.6 144.2,195.8 144.5,195.5 144.8,195.8 145.1,195.8 145.4,195.4 145.7,195.8 146.0,195.5 146.3,195.4 146.6,195.6 146.9,195.6 147.2,195.4 147.5,195.8 147.8,195.9 148.1,196.0 148.4,195.8 148.7,195.5 149.0,195.6 149.3,196.0 149.7,196.0 150.0,196.0 150.3,195.8 150.6,195.9 150.9,195.9 151.2,195.9 151.5,196.0 151.8,196.0 152.1,195.9 152.4,196.0 152.7,195.9" fill="none" stroke="#cc33ee" stroke-width="1.9" stroke-linejoin="round"/>
<polyline points="42.9,257.2 43.2,256.5 43.5,255.6 43.8,255.0 44.1,253.7 44.4,253.2 44.7,252.2 45.0,250.9 45.3,250.1 45.6,249.4 45.9,248.9 46.3,247.9 46.6,247.2 46.9,246.2 47.2,245.1 47.5,244.8 47.8,244.3 48.1,243.7 48.4,242.8 48.7,242.2 49.0,241.7 49.3,240.9 49.6,240.5 49.9,239.5 50.2,238.9 50.5,238.4 50.8,238.1 51.1,237.4 51.4,237.0 51.7,236.5 52.0,236.0 52.4,235.7 52.7,235.3 53.0,234.4 53.3,234.1 53.6,233.6 53.9,233.0 54.2,233.1 54.5,232.5 54.8,231.9 55.1,231.5 55.4,231.3 55.7,230.6 56.0,230.4 56.3,230.3 56.6,229.9 56.9,229.2 57.2,229.0 57.5,229.1 57.8,228.2 58.1,228.0 58.5,227.6 58.8,227.6 59.1,227.3 59.4,227.2 59.7,226.2 60.0,226.4 60.3,225.9 60.6,226.0 60.9,225.6 61.2,225.7 61.5,225.2 61.8,224.8 62.1,225.0 62.4,224.3 62.7,224.2 63.0,224.3 63.3,224.0 63.6,223.7 63.9,223.5 64.2,223.4 64.6,223.2 64.9,223.0 65.2,222.9 65.5,222.8 65.8,222.4 66.1,222.1 66.4,222.4 66.7,221.9 67.0,221.9 67.3,221.8 67.6,221.3 67.9,221.4 68.2,220.9 68.5,221.2 68.8,220.8 69.1,220.8 69.4,220.8 69.7,220.4 70.0,220.4 70.3,220.2 70.7,220.2 71.0,220.3 71.3,220.0 71.6,219.8 71.9,219.5 72.2,219.8 72.5,219.5 72.8,219.8 73.1,219.2 73.4,219.4 73.7,219.5 74.0,219.1 74.3,218.8 74.6,219.2 74.9,219.0 75.2,218.9 75.5,218.9 75.8,218.5 76.1,218.6 76.4,218.6 76.8,218.2 77.1,218.4 77.4,218.1 77.7,218.3 78.0,218.3 78.3,218.4 78.6,217.6 78.9,218.0 79.2,217.8 79.5,217.8 79.8,217.7 80.1,217.7 80.4,217.3 80.7,217.8 81.0,217.9 81.3,217.8 81.6,217.8 81.9,217.4 82.2,217.3 82.5,217.6 82.9,217.7 83.2,217.4 83.5,217.1 83.8,217.9 84.1,217.2 84.4,217.5 84.7,217.0 85.0,217.4 85.3,217.2 85.6,217.4 85.9,217.3 86.2,216.8 86.5,216.9 86.8,217.1 87.1,217.2 87.4,217.4 87.7,217.1 88.0,217.0 88.3,217.0 88.7,216.9 89.0,217.1 89.3,216.9 89.6,216.9 89.9,216.6 90.2,216.5 90.5,216.8 90.8,216.9 91.1,216.8 91.4,216.9 91.7,216.9 92.0,216.7 92.3,216.9 92.6,216.6 92.9,216.7 93.2,216.6 93.5,216.7 93.8,216.8 94.1,216.8 94.4,216.6 94.8,216.7 95.1,216.5 95.4,216.6 95.7,216.8 96.0,216.5 96.3,216.8 96.6,216.6 96.9,216.6 97.2,216.9 97.5,216.5 97.8,216.4 98.1,216.5 98.4,216.5 98.7,216.5 99.0,216.6 99.3,216.5 99.6,216.5 99.9,216.4 100.2,216.6 100.5,216.3 100.8,216.3 101.2,216.4 101.5,216.4 101.8,216.2 102.1,216.6 102.4,216.2 102.7,216.3 103.0,216.2 103.3,216.2 103.6,216.4 103.9,216.3 104.2,216.1 104.5,216.2 104.8,216.2 105.1,216.5 105.4,216.1 105.7,216.0 106.0,216.0 106.3,216.2 106.6,216.5 106.9,216.0 107.3,216.2 107.6,216.7 107.9,216.1 108.2,216.5 108.5,216.4 108.8,216.3 109.1,215.9 109.4,216.2 109.7,216.1 110.0,215.8 110.3,215.8 110.6,216.2 110.9,216.2 111.2,216.4 111.5,216.3 111.8,216.0 112.1,216.0 112.4,216.1 112.7,215.9 113.0,216.2 113.4,216.1 113.7,216.0 114.0,216.0 114.3,215.9 114.6,216.0 114.9,216.1 115.2,216.0 115.5,216.3 115.8,216.4 116.1,215.8 116.4,215.9 116.7,215.9 117.0,216.3 117.3,216.0 117.6,216.1 117.9,216.2 118.2,216.4 118.5,216.1 118.8,215.9 119.2,216.0 119.5,216.2 119.8,216.1 120.1,216.0 120.4,216.7 120.7,216.2 121.0,216.1 121.3,216.0 121.6,215.9 121.9,216.0 122.2,216.2 122.5,216.2 122.8,216.1 123.1,216.4 123.4,216.3 123.7,216.1 124.0,215.9 124.3,216.4 124.6,216.4 124.9,216.3 125.2,216.1 125.6,216.4 125.9,216.1 126.2,216.6 126.5,216.5 126.8,216.5 127.1,216.3 127.4,216.3 127.7,216.8 128.0,216.7 128.3,216.5 128.6,216.7 128.9,216.8 129.2,216.4 129.5,216.5 129.8,216.5 130.1,216.7 130.4,216.4 130.7,216.7 131.0,216.4 131.3,216.8 131.7,216.8 132.0,216.7 132.3,216.8 132.6,216.6 132.9,216.7 133.2,216.9 133.5,216.8 133.8,216.8 134.1,216.6 134.4,216.9 134.7,216.9 135.0,216.6 135.3,216.4 135.6,216.5 135.9,216.9 136.2,216.8 136.5,216.6 136.8,216.9 137.1,217.1 137.4,216.9 137.8,216.9 138.1,217.1 138.4,217.3 138.7,217.3 139.0,216.9 139.3,217.2 139.6,217.1 139.9,217.0 140.2,216.9 140.5,217.1 140.8,217.0 141.1,217.3 141.4,217.2 141.7,217.3 142.0,216.9 142.3,217.1 142.6,217.3 142.9,217.2 143.2,217.2 143.5,217.1 143.9,217.5 144.2,217.4 144.5,217.3 144.8,216.8 145.1,217.1 145.4,217.3 145.7,217.1 146.0,216.9 146.3,217.3 146.6,217.4 146.9,217.1 147.2,217.2 147.5,217.2 147.8,217.4 148.1,217.0 148.4,217.0 148.7,217.3 149.0,217.3 149.3,217.8 149.7,217.3 150.0,217.5 150.3,217.4 150.6,217.3 150.9,217.5 151.2,217.8 151.5,217.4 151.8,217.6 152.1,217.6 152.4,217.6 152.7,217.6" fill="none" stroke="#1ccc1c" stroke-width="1.9" stroke-linejoin="round"/>
<polyline points="42.9,258.0 43.2,256.4 43.5,255.6 43.8,254.5 44.1,253.4 44.4,252.8 44.7,252.3 45.0,251.2 45.3,250.5 45.6,249.5 45.9,248.6 46.3,248.2 46.6,247.0 46.9,246.6 47.2,245.5 47.5,244.9 47.8,244.2 48.1,243.5 48.4,242.9 48.7,242.3 49.0,241.8 49.3,240.9 49.6,239.9 49.9,239.3 50.2,238.9 50.5,238.4 50.8,238.1 51.1,237.2 51.4,237.0 51.7,236.5 52.0,236.0 52.4,235.4 52.7,235.1 53.0,234.5 53.3,234.3 53.6,233.7 53.9,232.8 54.2,232.8 54.5,232.4 54.8,231.9 55.1,231.4 55.4,231.4 55.7,230.8 56.0,230.3 56.3,230.0 56.6,229.7 56.9,229.1 57.2,229.2 57.5,228.7 57.8,228.5 58.1,227.8 58.5,228.2 58.8,227.7 59.1,227.3 59.4,226.8 59.7,226.6 60.0,226.1 60.3,226.5 60.6,225.8 60.9,225.7 61.2,225.5 61.5,225.1 61.8,225.1 62.1,225.1 62.4,224.6 62.7,224.6 63.0,224.2 63.3,223.8 63.6,223.6 63.9,223.2 64.2,223.3 64.6,223.4 64.9,223.1 65.2,222.9 65.5,222.8 65.8,222.3 66.1,222.3 66.4,222.4 66.7,221.8 67.0,221.8 67.3,221.5 67.6,221.4 67.9,221.2 68.2,221.2 68.5,220.8 68.8,220.8 69.1,220.7 69.4,220.6 69.7,220.8 70.0,220.4 70.3,220.3 70.7,220.1 71.0,220.3 71.3,219.6 71.6,219.8 71.9,220.0 72.2,220.0 72.5,219.6 72.8,219.4 73.1,219.5 73.4,219.2 73.7,219.3 74.0,219.0 74.3,219.1 74.6,218.9 74.9,218.6 75.2,218.2 75.5,218.8 75.8,218.7 76.1,218.7 76.4,218.3 76.8,218.6 77.1,218.4 77.4,218.2 77.7,218.3 78.0,218.3 78.3,218.1 78.6,218.4 78.9,218.2 79.2,217.9 79.5,217.8 79.8,217.9 80.1,218.2 80.4,218.0 80.7,217.8 81.0,217.9 81.3,218.1 81.6,218.3 81.9,218.0 82.2,218.3 82.5,218.5 82.9,218.4 83.2,218.1 83.5,218.3 83.8,218.2 84.1,218.6 84.4,218.3 84.7,218.7 85.0,218.6 85.3,218.2 85.6,218.5 85.9,218.8 86.2,218.8 86.5,218.7 86.8,218.6 87.1,219.0 87.4,219.3 87.7,219.0 88.0,219.0 88.3,219.0 88.7,218.8 89.0,219.1 89.3,219.0 89.6,219.4 89.9,219.1 90.2,218.9 90.5,219.2 90.8,219.3 91.1,219.4 91.4,219.1 91.7,219.7 92.0,219.5 92.3,219.5 92.6,219.5 92.9,219.7 93.2,219.6 93.5,219.8 93.8,219.7 94.1,219.8 94.4,220.0 94.8,219.9 95.1,219.7 95.4,220.1 95.7,220.0 96.0,219.9 96.3,220.2 96.6,220.0 96.9,220.3 97.2,219.9 97.5,219.7 97.8,219.8 98.1,220.3 98.4,220.1 98.7,220.3 99.0,220.3 99.3,220.1 99.6,220.6 99.9,220.2 100.2,220.5 100.5,220.2 100.8,220.5 101.2,220.7 101.5,220.5 101.8,220.5 102.1,220.6 102.4,220.6 102.7,220.8 103.0,221.1 103.3,220.6 103.6,220.7 103.9,220.8 104.2,220.8 104.5,220.7 104.8,221.0 105.1,221.1 105.4,221.0 105.7,220.8 106.0,221.3 106.3,220.8 106.6,221.2 106.9,221.3 107.3,220.9 107.6,221.2 107.9,221.4 108.2,221.3 108.5,221.1 108.8,221.0 109.1,221.4 109.4,221.3 109.7,221.2 110.0,221.5 110.3,221.3 110.6,221.4 110.9,221.6 111.2,221.6 111.5,221.5 111.8,221.5 112.1,221.7 112.4,221.7 112.7,221.4 113.0,221.6 113.4,221.5 113.7,221.5 114.0,221.6 114.3,221.3 114.6,221.9 114.9,221.6 115.2,221.9 115.5,221.5 115.8,221.5 116.1,222.2 116.4,222.1 116.7,221.8 117.0,221.8 117.3,221.8 117.6,222.0 117.9,221.9 118.2,221.9 118.5,222.1 118.8,221.9 119.2,222.5 119.5,222.0 119.8,222.3 120.1,222.0 120.4,222.2 120.7,222.4 121.0,222.2 121.3,222.4 121.6,222.4 121.9,222.6 122.2,222.3 122.5,222.2 122.8,222.2 123.1,222.4 123.4,222.2 123.7,222.4 124.0,222.5 124.3,222.3 124.6,222.3 124.9,222.6 125.2,222.6 125.6,222.6 125.9,222.5 126.2,222.7 126.5,222.4 126.8,222.7 127.1,222.5 127.4,222.8 127.7,222.6 128.0,222.6 128.3,222.8 128.6,222.3 128.9,222.7 129.2,222.4 129.5,222.6 129.8,222.9 130.1,222.9 130.4,222.7 130.7,222.8 131.0,222.9 131.3,222.9 131.7,223.2 132.0,223.0 132.3,223.4 132.6,222.9 132.9,223.1 133.2,223.1 133.5,223.0 133.8,223.0 134.1,223.3 134.4,223.4 134.7,223.3 135.0,223.5 135.3,223.3 135.6,222.8 135.9,223.3 136.2,223.0 136.5,223.4 136.8,223.1 137.1,223.3 137.4,223.2 137.8,223.1 138.1,222.9 138.4,223.2 138.7,223.2 139.0,223.5 139.3,223.2 139.6,223.4 139.9,223.2 140.2,223.4 140.5,223.0 140.8,223.7 141.1,223.4 141.4,223.2 141.7,223.5 142.0,223.6 142.3,223.5 142.6,223.7 142.9,223.4 143.2,223.0 143.5,223.3 143.9,223.7 144.2,223.7 144.5,223.6 144.8,223.4 145.1,223.7 145.4,223.7 145.7,223.4 146.0,223.4 146.3,223.7 146.6,223.8 146.9,223.9 147.2,223.8 147.5,224.1 147.8,223.5 148.1,223.8 148.4,223.6 148.7,223.4 149.0,223.5 149.3,224.0 149.7,223.6 150.0,223.5 150.3,223.9 150.6,224.0 150.9,223.8 151.2,224.1 151.5,223.5 151.8,224.3 152.1,224.1 152.4,223.9 152.7,223.9" fill="none" stroke="#ff1a1a" stroke-width="1.9" stroke-linejoin="round"/>
<polyline points="42.9,257.4 43.2,257.4 43.5,257.5 43.8,257.2 44.1,257.8 44.4,257.4 44.7,257.5 45.0,257.3 45.3,257.3 45.6,257.5 45.9,257.4 46.3,257.1 46.6,257.2 46.9,257.4 47.2,256.9 47.5,256.8 47.8,257.5 48.1,257.2 48.4,256.7 48.7,257.0 49.0,257.1 49.3,257.2 49.6,257.3 49.9,257.2 50.2,257.2 50.5,257.0 50.8,257.2 51.1,257.2 51.4,257.3 51.7,257.1 52.0,257.2 52.4,257.1 52.7,256.8 53.0,256.9 53.3,256.9 53.6,256.9 53.9,257.0 54.2,257.0 54.5,257.0 54.8,256.8 55.1,257.1 55.4,256.6 55.7,256.9 56.0,257.0 56.3,257.0 56.6,257.0 56.9,256.8 57.2,257.0 57.5,256.6 57.8,256.9 58.1,257.2 58.5,256.9 58.8,257.1 59.1,256.7 59.4,256.5 59.7,256.6 60.0,257.0 60.3,256.8 60.6,256.3 60.9,256.6 61.2,256.6 61.5,256.4 61.8,256.1 62.1,256.4 62.4,256.6 62.7,256.5 63.0,256.4 63.3,256.7 63.6,256.7 63.9,256.5 64.2,256.7 64.6,256.5 64.9,256.5 65.2,256.0 65.5,256.6 65.8,256.5 66.1,256.5 66.4,256.3 66.7,256.2 67.0,256.5 67.3,256.5 67.6,256.7 67.9,256.5 68.2,256.2 68.5,256.3 68.8,256.5 69.1,256.4 69.4,256.3 69.7,256.2 70.0,256.4 70.3,256.3 70.7,256.6 71.0,256.4 71.3,255.9 71.6,256.6 71.9,256.2 72.2,256.1 72.5,256.2 72.8,256.3 73.1,256.1 73.4,256.1 73.7,256.1 74.0,256.4 74.3,256.1 74.6,256.2 74.9,256.2 75.2,256.0 75.5,255.9 75.8,255.8 76.1,256.1 76.4,255.8 76.8,255.7 77.1,255.7 77.4,255.7 77.7,256.0 78.0,255.9 78.3,255.7 78.6,256.1 78.9,255.8 79.2,256.0 79.5,255.9 79.8,256.2 80.1,256.0 80.4,255.8 80.7,255.6 81.0,255.6 81.3,255.8 81.6,255.8 81.9,255.9 82.2,255.7 82.5,255.8 82.9,255.6 83.2,255.4 83.5,255.7 83.8,255.9 84.1,255.8 84.4,255.9 84.7,255.9 85.0,255.4 85.3,255.6 85.6,255.9 85.9,255.4 86.2,255.3 86.5,255.6 86.8,255.7 87.1,255.6 87.4,255.4 87.7,255.4 88.0,255.3 88.3,255.2 88.7,255.2 89.0,255.2 89.3,255.3 89.6,255.7 89.9,255.4 90.2,255.3 90.5,255.4 90.8,255.2 91.1,255.4 91.4,255.5 91.7,255.0 92.0,255.2 92.3,255.2 92.6,255.1 92.9,255.1 93.2,255.2 93.5,255.7 93.8,255.4 94.1,255.3 94.4,255.4 94.8,255.1 95.1,254.9 95.4,255.3 95.7,255.4 96.0,254.7 96.3,255.2 96.6,255.3 96.9,255.0 97.2,255.0 97.5,255.2 97.8,254.9 98.1,255.1 98.4,255.2 98.7,255.0 99.0,254.9 99.3,255.1 99.6,254.9 99.9,255.0 100.2,254.4 100.5,255.1 100.8,254.7 101.2,254.9 101.5,254.9 101.8,254.7 102.1,254.7 102.4,254.6 102.7,254.8 103.0,254.9 103.3,254.9 103.6,254.7 103.9,254.7 104.2,254.5 104.5,254.7 104.8,254.5 105.1,254.4 105.4,254.7 105.7,255.0 106.0,254.9 106.3,255.0 106.6,254.4 106.9,254.8 107.3,254.4 107.6,254.5 107.9,254.3 108.2,254.4 108.5,254.6 108.8,254.6 109.1,254.5 109.4,254.5 109.7,254.6 110.0,254.5 110.3,254.2 110.6,254.8 110.9,254.4 111.2,254.6 111.5,254.4 111.8,254.3 112.1,254.4 112.4,254.3 112.7,254.7 113.0,254.2 113.4,254.5 113.7,254.2 114.0,254.3 114.3,254.8 114.6,254.5 114.9,254.3 115.2,254.0 115.5,254.2 115.8,254.2 116.1,254.5 116.4,254.0 116.7,253.9 117.0,254.2 117.3,254.2 117.6,254.5 117.9,254.0 118.2,253.6 118.5,254.0 118.8,253.9 119.2,254.0 119.5,254.3 119.8,253.8 120.1,254.3 120.4,254.1 120.7,254.0 121.0,253.9 121.3,254.0 121.6,253.9 121.9,254.2 122.2,254.2 122.5,254.0 122.8,254.1 123.1,254.2 123.4,254.2 123.7,254.0 124.0,254.3 124.3,254.2 124.6,254.2 124.9,253.8 125.2,253.8 125.6,253.5 125.9,254.1 126.2,253.9 126.5,253.6 126.8,253.8 127.1,253.8 127.4,253.4 127.7,253.8 128.0,254.0 128.3,254.0 128.6,253.6 128.9,253.6 129.2,253.9 129.5,253.9 129.8,253.6 130.1,253.5 130.4,253.8 130.7,253.5 131.0,253.5 131.3,253.9 131.7,253.6 132.0,253.5 132.3,253.7 132.6,253.9 132.9,253.6 133.2,253.4 133.5,253.2 133.8,253.9 134.1,253.0 134.4,253.7 134.7,253.3 135.0,253.2 135.3,253.2 135.6,253.4 135.9,253.6 136.2,253.3 136.5,253.5 136.8,253.8 137.1,252.8 137.4,253.2 137.8,253.0 138.1,253.5 138.4,253.0 138.7,253.0 139.0,253.0 139.3,253.3 139.6,253.5 139.9,253.3 140.2,253.6 140.5,253.5 140.8,253.2 141.1,253.4 141.4,253.2 141.7,253.2 142.0,252.8 142.3,252.9 142.6,253.1 142.9,252.9 143.2,253.2 143.5,253.1 143.9,252.9 144.2,253.3 144.5,253.1 144.8,253.3 145.1,253.0 145.4,252.7 145.7,253.1 146.0,252.9 146.3,253.1 146.6,253.1 146.9,253.2 147.2,252.6 147.5,252.4 147.8,252.8 148.1,253.0 148.4,252.7 148.7,252.9 149.0,252.7 149.3,252.8 149.7,252.7 150.0,252.7 150.3,252.9 150.6,252.8 150.9,253.1 151.2,252.8 151.5,253.0 151.8,252.7 152.1,252.9 152.4,252.7 152.7,252.6" fill="none" stroke="#1a1aff" stroke-width="1.9" stroke-linejoin="round"/>
<line x1="223.30" y1="177.60" x2="223.30" y2="259.30" stroke="#222" stroke-width="1.0"/>
<line x1="222.80" y1="259.30" x2="345.30" y2="259.30" stroke="#444" stroke-width="1.1"/>
<line x1="219.60" y1="257.40" x2="223.30" y2="257.40" stroke="#222" stroke-width="0.9"/>
<text x="218.80" y="259.70" font-size="6.4" fill="#222" stroke="#222" stroke-width="0.12" text-anchor="end" font-weight="bold" textLength="8.40" lengthAdjust="spacingAndGlyphs">0.0</text>
<line x1="219.60" y1="230.90" x2="223.30" y2="230.90" stroke="#222" stroke-width="0.9"/>
<text x="218.80" y="233.20" font-size="6.4" fill="#222" stroke="#222" stroke-width="0.12" text-anchor="end" font-weight="bold" textLength="8.40" lengthAdjust="spacingAndGlyphs">0.1</text>
<line x1="219.60" y1="204.40" x2="223.30" y2="204.40" stroke="#222" stroke-width="0.9"/>
<text x="218.80" y="206.70" font-size="6.4" fill="#222" stroke="#222" stroke-width="0.12" text-anchor="end" font-weight="bold" textLength="8.40" lengthAdjust="spacingAndGlyphs">0.2</text>
<line x1="219.60" y1="177.90" x2="223.30" y2="177.90" stroke="#222" stroke-width="0.9"/>
<text x="218.80" y="180.20" font-size="6.4" fill="#222" stroke="#222" stroke-width="0.12" text-anchor="end" font-weight="bold" textLength="8.40" lengthAdjust="spacingAndGlyphs">0.3</text>
<line x1="223.30" y1="259.30" x2="223.30" y2="262.30" stroke="#222" stroke-width="0.9"/>
<text x="223.30" y="269.90" font-size="6.2" fill="#222" stroke="#222" stroke-width="0.12" text-anchor="middle" font-weight="bold" textLength="3.30" lengthAdjust="spacingAndGlyphs">0</text>
<line x1="253.80" y1="259.30" x2="253.80" y2="262.30" stroke="#222" stroke-width="0.9"/>
<text x="253.80" y="269.90" font-size="6.2" fill="#222" stroke="#222" stroke-width="0.12" text-anchor="middle" font-weight="bold" textLength="9.90" lengthAdjust="spacingAndGlyphs">100</text>
<line x1="284.30" y1="259.30" x2="284.30" y2="262.30" stroke="#222" stroke-width="0.9"/>
<text x="284.30" y="269.90" font-size="6.2" fill="#222" stroke="#222" stroke-width="0.12" text-anchor="middle" font-weight="bold" textLength="9.90" lengthAdjust="spacingAndGlyphs">200</text>
<line x1="314.80" y1="259.30" x2="314.80" y2="262.30" stroke="#222" stroke-width="0.9"/>
<text x="314.80" y="269.90" font-size="6.2" fill="#222" stroke="#222" stroke-width="0.12" text-anchor="middle" font-weight="bold" textLength="9.90" lengthAdjust="spacingAndGlyphs">300</text>
<line x1="345.30" y1="259.30" x2="345.30" y2="262.30" stroke="#222" stroke-width="0.9"/>
<text x="345.30" y="269.90" font-size="6.2" fill="#222" stroke="#222" stroke-width="0.12" text-anchor="middle" font-weight="bold" textLength="9.90" lengthAdjust="spacingAndGlyphs">400</text>
<line x1="259.90" y1="177.90" x2="259.90" y2="259.30" stroke="#555" stroke-width="0.9" stroke-dasharray="1 1.4"/>
<line x1="296.50" y1="177.90" x2="296.50" y2="259.30" stroke="#555" stroke-width="0.9" stroke-dasharray="1 1.4"/>
<text x="272.20" y="280.60" font-size="6.9" fill="#1a1a1a" stroke="#1a1a1a" stroke-width="0.12" font-weight="bold" textLength="24.30" lengthAdjust="spacingAndGlyphs">time [s]</text>
<text x="206.60" y="251.80" font-size="6.8" fill="#1a1a1a" stroke="#1a1a1a" stroke-width="0.12" font-weight="bold" textLength="65.00" lengthAdjust="spacingAndGlyphs" transform="rotate(-90 206.60 251.80)">layer thickness [nm]</text>
<text x="260.90" y="166.80" font-size="8.1" fill="#111" stroke="#111" stroke-width="0.1" font-weight="bold" textLength="48.80" lengthAdjust="spacingAndGlyphs">B7-H3xTIGIT</text>
<text x="230.90" y="194.00" font-size="7.3" fill="#ff3b3b" stroke="#ff3b3b" stroke-width="0.25" textLength="22.00" lengthAdjust="spacingAndGlyphs">+B7-H3</text>
<text x="268.90" y="187.20" font-size="7.3" fill="#22bb22" stroke="#22bb22" stroke-width="0.25" textLength="17.60" lengthAdjust="spacingAndGlyphs">+TIGIT</text>
<text x="306.50" y="182.10" font-size="7.3" fill="#cc33dd" stroke="#cc33dd" stroke-width="0.25" textLength="18.80" lengthAdjust="spacingAndGlyphs">+CD16</text>
<text x="300.60" y="244.40" font-size="7.3" fill="#3d3dff" stroke="#3d3dff" stroke-width="0.25" textLength="35.10" lengthAdjust="spacingAndGlyphs">PBS control</text>
<polyline points="223.3,257.9 223.6,256.1 223.9,254.6 224.2,252.6 224.5,250.9 224.8,249.8 225.1,248.8 225.4,246.9 225.7,246.5 226.0,244.3 226.4,243.8 226.7,243.2 227.0,240.3 227.3,239.5 227.6,239.2 227.9,237.8 228.2,236.8 228.5,235.7 228.8,235.2 229.1,233.9 229.4,232.6 229.7,231.7 230.0,230.5 230.3,230.0 230.6,228.4 230.9,228.5 231.2,227.4 231.5,227.3 231.8,226.3 232.1,224.7 232.5,224.6 232.8,223.4 233.1,222.9 233.4,222.5 233.7,221.6 234.0,221.0 234.3,220.4 234.6,219.4 234.9,218.8 235.2,218.6 235.5,218.1 235.8,217.1 236.1,216.7 236.4,215.8 236.7,214.8 237.0,214.8 237.3,214.6 237.6,214.2 237.9,213.9 238.2,213.4 238.6,213.0 238.9,212.4 239.2,212.0 239.5,211.2 239.8,211.1 240.1,210.7 240.4,210.6 240.7,209.3 241.0,209.3 241.3,208.5 241.6,208.5 241.9,207.9 242.2,208.1 242.5,207.5 242.8,206.5 243.1,207.5 243.4,206.4 243.7,205.9 244.0,206.1 244.3,205.7 244.7,205.2 245.0,205.6 245.3,205.0 245.6,205.1 245.9,204.8 246.2,204.6 246.5,204.2 246.8,203.8 247.1,203.5 247.4,203.9 247.7,202.6 248.0,202.6 248.3,202.6 248.6,202.7 248.9,202.5 249.2,202.1 249.5,201.9 249.8,202.4 250.1,201.5 250.4,200.6 250.8,202.0 251.1,200.9 251.4,200.9 251.7,200.9 252.0,200.3 252.3,201.0 252.6,200.4 252.9,199.8 253.2,200.2 253.5,200.2 253.8,199.9 254.1,199.9 254.4,199.1 254.7,199.8 255.0,199.1 255.3,199.7 255.6,199.0 255.9,199.1 256.2,199.8 256.5,198.9 256.9,199.1 257.2,198.8 257.5,198.1 257.8,198.8 258.1,198.7 258.4,197.8 258.7,198.2 259.0,197.6 259.3,197.9 259.6,198.2 259.9,200.7 260.2,200.1 260.5,199.9 260.8,200.0 261.1,199.8 261.4,199.7 261.7,199.6 262.0,198.6 262.3,199.1 262.6,199.2 262.9,198.9 263.3,198.3 263.6,198.1 263.9,198.2 264.2,198.2 264.5,197.9 264.8,198.3 265.1,198.0 265.4,197.2 265.7,197.4 266.0,197.0 266.3,196.6 266.6,196.7 266.9,196.7 267.2,195.9 267.5,196.3 267.8,196.5 268.1,196.0 268.4,196.0 268.7,196.3 269.1,195.9 269.4,195.9 269.7,196.4 270.0,195.7 270.3,195.6 270.6,195.6 270.9,195.9 271.2,195.4 271.5,195.2 271.8,195.0 272.1,195.4 272.4,194.7 272.7,195.2 273.0,194.8 273.3,194.3 273.6,194.8 273.9,194.7 274.2,194.1 274.5,194.5 274.8,194.4 275.2,194.2 275.5,193.9 275.8,194.9 276.1,194.3 276.4,194.3 276.7,194.3 277.0,194.2 277.3,194.1 277.6,193.7 277.9,194.0 278.2,193.7 278.5,193.5 278.8,193.8 279.1,193.5 279.4,193.0 279.7,193.3 280.0,193.6 280.3,193.4 280.6,193.6 280.9,193.2 281.2,193.0 281.6,193.5 281.9,193.2 282.2,192.8 282.5,193.3 282.8,193.0 283.1,193.4 283.4,193.3 283.7,193.1 284.0,192.2 284.3,193.0 284.6,193.0 284.9,193.0 285.2,192.9 285.5,192.6 285.8,192.7 286.1,192.1 286.4,192.6 286.7,192.2 287.0,192.6 287.4,192.4 287.7,193.1 288.0,192.6 288.3,192.6 288.6,192.6 288.9,193.2 289.2,192.2 289.5,192.6 289.8,192.6 290.1,192.5 290.4,192.5 290.7,192.3 291.0,192.8 291.3,192.7 291.6,192.3 291.9,192.3 292.2,192.4 292.5,192.5 292.8,192.6 293.1,192.3 293.4,191.9 293.8,192.6 294.1,191.7 294.4,191.9 294.7,192.3 295.0,191.9 295.3,192.6 295.6,192.7 295.9,192.6 296.2,192.3 296.5,190.7 296.8,190.8 297.1,190.7 297.4,191.5 297.7,190.7 298.0,191.4 298.3,191.2 298.6,191.2 298.9,191.4 299.2,191.6 299.6,191.5 299.9,191.3 300.2,191.1 300.5,191.2 300.8,191.7 301.1,191.7 301.4,191.8 301.7,191.4 302.0,192.3 302.3,191.3 302.6,191.9 302.9,192.0 303.2,191.7 303.5,191.6 303.8,191.8 304.1,191.7 304.4,192.0 304.7,191.7 305.0,191.7 305.3,192.2 305.6,191.8 306.0,192.2 306.3,192.3 306.6,192.7 306.9,192.5 307.2,192.2 307.5,192.9 307.8,192.4 308.1,192.5 308.4,192.6 308.7,193.4 309.0,192.8 309.3,192.6 309.6,193.1 309.9,192.9 310.2,193.7 310.5,192.8 310.8,193.2 311.1,192.8 311.4,193.7 311.8,192.9 312.1,193.3 312.4,193.0 312.7,193.6 313.0,193.5 313.3,192.7 313.6,193.7 313.9,193.7 314.2,193.6 314.5,193.9 314.8,193.2 315.1,193.1 315.4,193.9 315.7,194.3 316.0,193.4 316.3,193.4 316.6,193.6 316.9,193.5 317.2,194.2 317.5,194.0 317.9,194.4 318.2,194.5 318.5,193.7 318.8,194.3 319.1,193.4 319.4,194.1 319.7,194.4 320.0,194.0 320.3,193.7 320.6,194.2 320.9,194.7 321.2,194.3 321.5,194.0 321.8,194.6 322.1,194.7 322.4,194.2 322.7,194.5 323.0,195.0 323.3,194.8 323.6,194.9 323.9,194.6 324.3,194.7 324.6,194.4 324.9,194.6 325.2,195.3 325.5,194.8 325.8,194.6 326.1,194.8 326.4,194.7 326.7,195.2 327.0,195.3 327.3,194.8 327.6,195.4 327.9,195.8 328.2,194.8 328.5,195.4 328.8,195.3 329.1,195.7 329.4,195.7 329.7,195.7 330.1,195.5 330.4,195.3 330.7,196.1 331.0,195.2 331.3,195.9 331.6,195.8 331.9,195.3 332.2,195.6 332.5,196.1 332.8,195.0 333.1,195.9" fill="none" stroke="#1ccc1c" stroke-width="1.9" stroke-linejoin="round"/>
<polyline points="223.3,257.3 223.6,255.8 223.9,253.9 224.2,253.1 224.5,251.2 224.8,250.4 225.1,248.4 225.4,247.7 225.7,246.3 226.0,244.4 226.4,243.7 226.7,242.5 227.0,240.7 227.3,240.2 227.6,239.4 227.9,237.9 228.2,237.4 228.5,235.7 228.8,234.7 229.1,234.3 229.4,233.3 229.7,232.1 230.0,231.3 230.3,230.7 230.6,229.4 230.9,229.4 231.2,228.1 231.5,227.2 231.8,226.4 232.1,225.5 232.5,225.2 232.8,223.9 233.1,223.5 233.4,223.0 233.7,222.5 234.0,221.8 234.3,220.7 234.6,220.5 234.9,219.5 235.2,218.6 235.5,218.1 235.8,217.3 236.1,217.4 236.4,217.1 236.7,215.9 237.0,215.6 237.3,214.9 237.6,214.8 237.9,213.9 238.2,213.6 238.6,213.2 238.9,212.8 239.2,212.4 239.5,212.0 239.8,211.6 240.1,211.0 240.4,211.1 240.7,210.0 241.0,210.2 241.3,209.5 241.6,209.5 241.9,209.2 242.2,208.2 242.5,208.6 242.8,208.6 243.1,208.1 243.4,207.7 243.7,206.6 244.0,206.9 244.3,206.4 244.7,206.7 245.0,206.1 245.3,205.7 245.6,205.1 245.9,205.6 246.2,205.0 246.5,204.8 246.8,205.0 247.1,204.5 247.4,204.4 247.7,204.8 248.0,203.7 248.3,203.5 248.6,203.6 248.9,203.7 249.2,202.6 249.5,202.8 249.8,202.4 250.1,202.1 250.4,202.5 250.8,202.0 251.1,202.1 251.4,201.9 251.7,201.8 252.0,201.6 252.3,201.1 252.6,201.3 252.9,201.2 253.2,201.1 253.5,200.8 253.8,201.1 254.1,200.8 254.4,200.5 254.7,200.6 255.0,200.3 255.3,200.4 255.6,199.4 255.9,199.5 256.2,199.7 256.5,199.8 256.9,199.0 257.2,199.5 257.5,199.5 257.8,199.3 258.1,199.2 258.4,198.7 258.7,199.1 259.0,198.4 259.3,199.2 259.6,198.6 259.9,202.1 260.2,201.0 260.5,201.5 260.8,201.3 261.1,200.8 261.4,200.5 261.7,201.1 262.0,200.8 262.3,200.9 262.6,200.3 262.9,200.2 263.3,200.2 263.6,200.2 263.9,199.9 264.2,199.9 264.5,199.4 264.8,198.9 265.1,199.9 265.4,199.2 265.7,199.2 266.0,198.8 266.3,199.1 266.6,198.8 266.9,199.0 267.2,198.3 267.5,198.4 267.8,198.4 268.1,198.1 268.4,198.2 268.7,198.5 269.1,197.7 269.4,197.7 269.7,197.8 270.0,197.3 270.3,197.2 270.6,197.8 270.9,197.6 271.2,196.8 271.5,196.8 271.8,197.4 272.1,197.5 272.4,197.2 272.7,197.1 273.0,197.4 273.3,196.8 273.6,197.1 273.9,197.0 274.2,196.3 274.5,196.7 274.8,196.5 275.2,196.2 275.5,196.1 275.8,196.4 276.1,196.2 276.4,196.4 276.7,195.5 277.0,195.8 277.3,196.3 277.6,195.9 277.9,195.6 278.2,195.7 278.5,195.2 278.8,195.3 279.1,195.8 279.4,195.7 279.7,196.0 280.0,195.5 280.3,195.4 280.6,194.6 280.9,195.4 281.2,196.0 281.6,195.5 281.9,195.2 282.2,195.6 282.5,195.5 282.8,195.3 283.1,195.0 283.4,195.1 283.7,195.3 284.0,194.8 284.3,195.2 284.6,195.1 284.9,195.4 285.2,195.1 285.5,194.6 285.8,195.3 286.1,194.8 286.4,194.5 286.7,194.8 287.0,194.6 287.4,195.0 287.7,194.2 288.0,194.3 288.3,194.5 288.6,195.1 288.9,194.9 289.2,194.2 289.5,193.9 289.8,194.4 290.1,194.0 290.4,194.6 290.7,194.5 291.0,194.4 291.3,194.2 291.6,194.8 291.9,194.0 292.2,193.9 292.5,194.6 292.8,194.7 293.1,194.1 293.4,194.4 293.8,194.9 294.1,193.9 294.4,194.1 294.7,194.3 295.0,193.4 295.3,194.1 295.6,194.3 295.9,194.0 296.2,194.4 296.5,188.2 296.8,187.9 297.1,188.3 297.4,188.3 297.7,187.7 298.0,188.1 298.3,188.2 298.6,188.3 298.9,188.4 299.2,188.2 299.6,188.7 299.9,188.2 300.2,189.1 300.5,189.0 300.8,189.4 301.1,189.2 301.4,188.9 301.7,188.7 302.0,189.5 302.3,189.3 302.6,189.5 302.9,189.7 303.2,189.9 303.5,189.6 303.8,190.2 304.1,189.7 304.4,189.8 304.7,190.0 305.0,190.2 305.3,190.4 305.6,189.4 306.0,190.5 306.3,189.7 306.6,190.0 306.9,190.4 307.2,190.7 307.5,190.1 307.8,189.9 308.1,190.8 308.4,190.7 308.7,190.3 309.0,190.6 309.3,190.1 309.6,191.0 309.9,190.7 310.2,191.3 310.5,190.3 310.8,191.3 311.1,191.8 311.4,191.2 311.8,191.2 312.1,190.6 312.4,191.4 312.7,191.4 313.0,191.2 313.3,191.0 313.6,191.5 313.9,191.2 314.2,191.5 314.5,191.8 314.8,191.7 315.1,191.8 315.4,192.1 315.7,191.5 316.0,192.4 316.3,191.6 316.6,191.7 316.9,192.1 317.2,192.4 317.5,192.3 317.9,192.1 318.2,192.1 318.5,192.2 318.8,192.1 319.1,192.6 319.4,192.4 319.7,193.0 320.0,192.3 320.3,192.6 320.6,192.8 320.9,192.3 321.2,192.5 321.5,193.7 321.8,192.8 322.1,193.4 322.4,192.6 322.7,192.2 323.0,193.2 323.3,193.1 323.6,193.2 323.9,193.1 324.3,193.0 324.6,192.8 324.9,193.6 325.2,192.8 325.5,193.7 325.8,193.3 326.1,193.1 326.4,193.3 326.7,193.8 327.0,193.8 327.3,193.8 327.6,193.7 327.9,193.3 328.2,194.2 328.5,193.6 328.8,193.6 329.1,193.7 329.4,193.8 329.7,193.5 330.1,193.8 330.4,193.8 330.7,193.9 331.0,193.5 331.3,194.7 331.6,193.8 331.9,194.3 332.2,194.3 332.5,194.6 332.8,194.9 333.1,194.5" fill="none" stroke="#cc33ee" stroke-width="1.9" stroke-linejoin="round"/>
<polyline points="223.3,257.6 223.6,255.7 223.9,254.8 224.2,252.3 224.5,251.3 224.8,250.0 225.1,248.8 225.4,247.4 225.7,246.2 226.0,244.8 226.4,243.3 226.7,242.2 227.0,241.4 227.3,239.8 227.6,238.9 227.9,237.5 228.2,235.8 228.5,235.2 228.8,234.5 229.1,233.9 229.4,232.8 229.7,232.0 230.0,230.3 230.3,229.8 230.6,228.7 230.9,228.0 231.2,227.0 231.5,225.7 231.8,225.6 232.1,224.7 232.5,224.1 232.8,222.8 233.1,222.7 233.4,222.0 233.7,221.4 234.0,220.8 234.3,219.5 234.6,218.2 234.9,218.7 235.2,217.5 235.5,217.1 235.8,217.0 236.1,216.1 236.4,215.6 236.7,215.2 237.0,213.8 237.3,214.5 237.6,213.3 237.9,212.9 238.2,212.7 238.6,212.0 238.9,211.3 239.2,211.1 239.5,210.6 239.8,210.1 240.1,210.5 240.4,209.0 240.7,208.4 241.0,208.4 241.3,208.0 241.6,208.4 241.9,207.7 242.2,207.6 242.5,207.2 242.8,206.3 243.1,206.6 243.4,206.1 243.7,206.3 244.0,205.5 244.3,205.1 244.7,205.1 245.0,204.8 245.3,203.7 245.6,204.4 245.9,204.1 246.2,203.8 246.5,202.9 246.8,202.4 247.1,202.7 247.4,202.9 247.7,202.5 248.0,201.9 248.3,202.3 248.6,201.3 248.9,201.1 249.2,201.4 249.5,201.0 249.8,200.8 250.1,200.4 250.4,201.0 250.8,200.1 251.1,200.5 251.4,200.4 251.7,200.0 252.0,199.9 252.3,200.0 252.6,200.1 252.9,199.7 253.2,198.8 253.5,198.5 253.8,198.8 254.1,198.5 254.4,198.9 254.7,198.7 255.0,198.4 255.3,198.8 255.6,198.6 255.9,198.2 256.2,198.2 256.5,198.3 256.9,197.7 257.2,197.8 257.5,197.3 257.8,197.6 258.1,197.6 258.4,197.3 258.7,197.4 259.0,197.4 259.3,197.3 259.6,196.8 259.9,196.8 260.2,196.6 260.5,197.7 260.8,197.3 261.1,197.4 261.4,197.3 261.7,197.6 262.0,197.7 262.3,197.3 262.6,197.6 262.9,198.1 263.3,197.4 263.6,197.6 263.9,198.1 264.2,197.8 264.5,198.3 264.8,197.8 265.1,198.3 265.4,198.6 265.7,198.5 266.0,198.7 266.3,198.5 266.6,198.5 266.9,198.6 267.2,198.9 267.5,200.0 267.8,198.8 268.1,199.5 268.4,198.9 268.7,198.7 269.1,199.0 269.4,199.3 269.7,199.3 270.0,199.3 270.3,199.5 270.6,199.6 270.9,199.8 271.2,199.2 271.5,199.6 271.8,199.4 272.1,199.8 272.4,199.8 272.7,199.9 273.0,199.8 273.3,199.7 273.6,199.9 273.9,200.3 274.2,200.4 274.5,199.7 274.8,200.3 275.2,200.4 275.5,199.9 275.8,200.1 276.1,200.3 276.4,200.6 276.7,199.8 277.0,200.5 277.3,200.5 277.6,200.8 277.9,201.2 278.2,201.2 278.5,200.7 278.8,200.8 279.1,201.0 279.4,201.4 279.7,201.5 280.0,201.2 280.3,201.6 280.6,200.9 280.9,200.9 281.2,200.4 281.6,201.1 281.9,201.6 282.2,201.7 282.5,202.6 282.8,201.7 283.1,201.6 283.4,201.3 283.7,201.5 284.0,201.5 284.3,201.7 284.6,201.6 284.9,201.4 285.2,202.2 285.5,202.0 285.8,202.4 286.1,201.5 286.4,201.6 286.7,201.8 287.0,202.5 287.4,202.1 287.7,202.3 288.0,202.2 288.3,202.3 288.6,202.1 288.9,202.5 289.2,202.1 289.5,202.3 289.8,202.5 290.1,202.5 290.4,202.7 290.7,202.3 291.0,202.7 291.3,202.5 291.6,202.8 291.9,203.2 292.2,202.4 292.5,203.1 292.8,202.6 293.1,202.7 293.4,203.4 293.8,203.2 294.1,203.1 294.4,203.2 294.7,203.4 295.0,202.8 295.3,203.1 295.6,203.0 295.9,203.3 296.2,203.1 296.5,203.4 296.8,203.2 297.1,203.1 297.4,203.3 297.7,203.5 298.0,203.7 298.3,203.3 298.6,203.3 298.9,203.5 299.2,203.7 299.6,203.3 299.9,202.7 300.2,203.6 300.5,203.5 300.8,203.5 301.1,204.4 301.4,203.6 301.7,203.9 302.0,203.3 302.3,203.8 302.6,204.0 302.9,203.9 303.2,203.8 303.5,204.0 303.8,203.9 304.1,204.3 304.4,204.0 304.7,203.7 305.0,203.3 305.3,203.8 305.6,203.9 306.0,203.7 306.3,203.7 306.6,203.6 306.9,203.8 307.2,204.2 307.5,204.1 307.8,204.1 308.1,204.1 308.4,204.2 308.7,204.5 309.0,204.9 309.3,204.5 309.6,205.0 309.9,204.3 310.2,204.4 310.5,204.9 310.8,204.2 311.1,204.1 311.4,204.4 311.8,203.9 312.1,203.9 312.4,204.9 312.7,204.2 313.0,204.4 313.3,204.4 313.6,204.3 313.9,204.8 314.2,204.8 314.5,204.9 314.8,204.9 315.1,204.7 315.4,205.2 315.7,205.1 316.0,204.6 316.3,204.8 316.6,204.7 316.9,205.4 317.2,205.1 317.5,205.0 317.9,204.8 318.2,205.0 318.5,204.6 318.8,204.9 319.1,204.9 319.4,204.9 319.7,204.7 320.0,205.1 320.3,204.6 320.6,204.9 320.9,205.0 321.2,205.0 321.5,204.9 321.8,204.7 322.1,204.8 322.4,205.0 322.7,204.8 323.0,205.1 323.3,204.7 323.6,205.2 323.9,205.8 324.3,204.8 324.6,205.2 324.9,205.6 325.2,205.3 325.5,205.5 325.8,204.6 326.1,205.1 326.4,205.8 326.7,205.1 327.0,205.4 327.3,204.7 327.6,205.7 327.9,206.1 328.2,205.3 328.5,205.5 328.8,205.5 329.1,206.1 329.4,205.3 329.7,204.9 330.1,206.1 330.4,205.1 330.7,205.7 331.0,204.7 331.3,205.4 331.6,205.6 331.9,205.2 332.2,205.4 332.5,205.7 332.8,205.3 333.1,205.7" fill="none" stroke="#ff1a1a" stroke-width="1.9" stroke-linejoin="round"/>
<polyline points="223.3,255.6 223.6,254.4 223.9,255.1 224.2,255.2 224.5,254.9 224.8,255.5 225.1,255.4 225.4,255.1 225.7,255.1 226.0,254.9 226.4,254.6 226.7,255.1 227.0,254.8 227.3,254.7 227.6,255.3 227.9,254.9 228.2,255.2 228.5,254.6 228.8,254.8 229.1,254.9 229.4,255.3 229.7,254.9 230.0,255.1 230.3,254.7 230.6,254.9 230.9,255.1 231.2,254.6 231.5,254.6 231.8,255.0 232.1,254.5 232.5,254.9 232.8,254.9 233.1,254.8 233.4,255.1 233.7,255.0 234.0,254.9 234.3,254.3 234.6,254.3 234.9,254.9 235.2,254.3 235.5,254.8 235.8,254.7 236.1,254.5 236.4,254.7 236.7,254.0 237.0,254.7 237.3,255.1 237.6,254.3 237.9,254.9 238.2,254.8 238.6,255.7 238.9,254.4 239.2,254.4 239.5,254.4 239.8,254.4 240.1,254.2 240.4,254.7 240.7,254.4 241.0,254.9 241.3,254.8 241.6,254.3 241.9,254.5 242.2,255.1 242.5,254.5 242.8,254.7 243.1,254.9 243.4,254.5 243.7,254.7 244.0,255.1 244.3,255.0 244.7,254.0 245.0,255.1 245.3,254.5 245.6,254.4 245.9,254.4 246.2,255.0 246.5,254.7 246.8,254.5 247.1,254.3 247.4,254.8 247.7,254.9 248.0,254.2 248.3,254.2 248.6,254.4 248.9,254.7 249.2,254.4 249.5,254.5 249.8,254.2 250.1,254.9 250.4,254.5 250.8,254.5 251.1,254.8 251.4,254.4 251.7,254.5 252.0,254.6 252.3,254.3 252.6,254.9 252.9,254.5 253.2,254.3 253.5,254.3 253.8,254.1 254.1,254.8 254.4,254.9 254.7,254.3 255.0,254.3 255.3,253.7 255.6,254.2 255.9,254.7 256.2,254.1 256.5,254.6 256.9,254.8 257.2,253.5 257.5,254.3 257.8,254.1 258.1,254.2 258.4,253.8 258.7,254.2 259.0,253.9 259.3,254.6 259.6,254.8 259.9,253.9 260.2,253.8 260.5,254.1 260.8,254.2 261.1,254.2 261.4,254.5 261.7,253.8 262.0,254.1 262.3,254.1 262.6,254.1 262.9,253.9 263.3,254.1 263.6,254.0 263.9,254.6 264.2,254.1 264.5,253.5 264.8,254.4 265.1,254.2 265.4,253.9 265.7,253.9 266.0,254.0 266.3,254.7 266.6,254.0 266.9,254.5 267.2,254.4 267.5,254.0 267.8,254.2 268.1,253.9 268.4,253.1 268.7,253.9 269.1,253.9 269.4,254.4 269.7,254.3 270.0,254.5 270.3,254.3 270.6,254.4 270.9,254.3 271.2,254.2 271.5,254.4 271.8,254.5 272.1,254.5 272.4,253.9 272.7,254.0 273.0,253.7 273.3,253.7 273.6,254.2 273.9,253.8 274.2,254.5 274.5,253.3 274.8,253.6 275.2,254.1 275.5,254.4 275.8,253.9 276.1,254.6 276.4,254.2 276.7,253.7 277.0,254.0 277.3,254.1 277.6,253.7 277.9,254.3 278.2,253.9 278.5,254.1 278.8,254.2 279.1,253.8 279.4,254.2 279.7,253.3 280.0,254.1 280.3,253.3 280.6,254.3 280.9,253.7 281.2,254.3 281.6,254.3 281.9,253.8 282.2,253.7 282.5,254.3 282.8,253.5 283.1,254.1 283.4,253.8 283.7,253.7 284.0,253.7 284.3,254.4 284.6,253.3 284.9,253.6 285.2,254.0 285.5,254.1 285.8,254.3 286.1,254.2 286.4,253.6 286.7,253.9 287.0,254.1 287.4,253.9 287.7,253.3 288.0,253.9 288.3,253.9 288.6,253.3 288.9,253.6 289.2,253.7 289.5,253.9 289.8,254.2 290.1,254.1 290.4,253.9 290.7,253.8 291.0,253.6 291.3,253.5 291.6,253.6 291.9,253.6 292.2,254.0 292.5,254.4 292.8,253.8 293.1,254.0 293.4,253.9 293.8,253.7 294.1,254.0 294.4,254.0 294.7,253.7 295.0,253.6 295.3,253.8 295.6,253.5 295.9,253.7 296.2,253.9 296.5,253.6 296.8,253.0 297.1,253.8 297.4,253.2 297.7,253.1 298.0,253.1 298.3,253.8 298.6,252.9 298.9,253.5 299.2,253.6 299.6,253.6 299.9,253.3 300.2,253.5 300.5,253.6 300.8,253.1 301.1,253.7 301.4,253.8 301.7,253.2 302.0,253.3 302.3,253.1 302.6,253.8 302.9,253.1 303.2,253.3 303.5,252.9 303.8,253.9 304.1,253.4 304.4,253.5 304.7,253.9 305.0,253.7 305.3,253.1 305.6,253.6 306.0,253.6 306.3,253.1 306.6,253.1 306.9,253.1 307.2,253.6 307.5,253.4 307.8,253.1 308.1,253.6 308.4,253.6 308.7,253.1 309.0,252.9 309.3,253.7 309.6,254.2 309.9,253.8 310.2,253.7 310.5,253.4 310.8,253.1 311.1,253.4 311.4,253.5 311.8,253.3 312.1,253.6 312.4,253.3 312.7,253.5 313.0,252.4 313.3,253.0 313.6,253.5 313.9,253.6 314.2,253.4 314.5,253.8 314.8,253.5 315.1,253.5 315.4,253.0 315.7,253.4 316.0,253.5 316.3,253.6 316.6,253.6 316.9,253.2 317.2,253.3 317.5,252.8 317.9,253.4 318.2,252.8 318.5,253.1 318.8,253.2 319.1,253.8 319.4,253.6 319.7,252.9 320.0,252.7 320.3,253.1 320.6,252.9 320.9,253.3 321.2,253.2 321.5,253.3 321.8,252.8 322.1,253.0 322.4,253.2 322.7,253.2 323.0,252.9 323.3,253.0 323.6,253.3 323.9,252.5 324.3,253.0 324.6,253.1 324.9,252.6 325.2,252.7 325.5,253.1 325.8,252.9 326.1,253.4 326.4,253.2 326.7,253.7 327.0,252.6 327.3,253.6 327.6,252.8 327.9,253.3 328.2,253.3 328.5,253.0 328.8,252.9 329.1,252.8 329.4,252.4 329.7,252.8 330.1,252.7 330.4,253.1 330.7,252.7 331.0,252.9 331.3,253.1 331.6,253.0 331.9,252.9 332.2,252.9 332.5,252.8 332.8,253.1 333.1,253.1" fill="none" stroke="#1a1aff" stroke-width="1.9" stroke-linejoin="round"/>
<line x1="403.40" y1="177.22" x2="403.40" y2="259.20" stroke="#222" stroke-width="1.0"/>
<line x1="402.90" y1="259.20" x2="525.40" y2="259.20" stroke="#444" stroke-width="1.1"/>
<line x1="399.70" y1="257.40" x2="403.40" y2="257.40" stroke="#222" stroke-width="0.9"/>
<text x="398.90" y="259.70" font-size="6.4" fill="#222" stroke="#222" stroke-width="0.12" text-anchor="end" font-weight="bold" textLength="8.40" lengthAdjust="spacingAndGlyphs">0.0</text>
<line x1="399.70" y1="237.43" x2="403.40" y2="237.43" stroke="#222" stroke-width="0.9"/>
<text x="398.90" y="239.73" font-size="6.4" fill="#222" stroke="#222" stroke-width="0.12" text-anchor="end" font-weight="bold" textLength="8.40" lengthAdjust="spacingAndGlyphs">0.1</text>
<line x1="399.70" y1="217.46" x2="403.40" y2="217.46" stroke="#222" stroke-width="0.9"/>
<text x="398.90" y="219.76" font-size="6.4" fill="#222" stroke="#222" stroke-width="0.12" text-anchor="end" font-weight="bold" textLength="8.40" lengthAdjust="spacingAndGlyphs">0.2</text>
<line x1="399.70" y1="197.49" x2="403.40" y2="197.49" stroke="#222" stroke-width="0.9"/>
<text x="398.90" y="199.79" font-size="6.4" fill="#222" stroke="#222" stroke-width="0.12" text-anchor="end" font-weight="bold" textLength="8.40" lengthAdjust="spacingAndGlyphs">0.3</text>
<line x1="399.70" y1="177.52" x2="403.40" y2="177.52" stroke="#222" stroke-width="0.9"/>
<text x="398.90" y="179.82" font-size="6.4" fill="#222" stroke="#222" stroke-width="0.12" text-anchor="end" font-weight="bold" textLength="8.40" lengthAdjust="spacingAndGlyphs">0.4</text>
<line x1="403.40" y1="259.20" x2="403.40" y2="262.20" stroke="#222" stroke-width="0.9"/>
<text x="403.40" y="269.80" font-size="6.2" fill="#222" stroke="#222" stroke-width="0.12" text-anchor="middle" font-weight="bold" textLength="3.30" lengthAdjust="spacingAndGlyphs">0</text>
<line x1="433.90" y1="259.20" x2="433.90" y2="262.20" stroke="#222" stroke-width="0.9"/>
<text x="433.90" y="269.80" font-size="6.2" fill="#222" stroke="#222" stroke-width="0.12" text-anchor="middle" font-weight="bold" textLength="9.90" lengthAdjust="spacingAndGlyphs">100</text>
<line x1="464.40" y1="259.20" x2="464.40" y2="262.20" stroke="#222" stroke-width="0.9"/>
<text x="464.40" y="269.80" font-size="6.2" fill="#222" stroke="#222" stroke-width="0.12" text-anchor="middle" font-weight="bold" textLength="9.90" lengthAdjust="spacingAndGlyphs">200</text>
<line x1="494.90" y1="259.20" x2="494.90" y2="262.20" stroke="#222" stroke-width="0.9"/>
<text x="494.90" y="269.80" font-size="6.2" fill="#222" stroke="#222" stroke-width="0.12" text-anchor="middle" font-weight="bold" textLength="9.90" lengthAdjust="spacingAndGlyphs">300</text>
<line x1="525.40" y1="259.20" x2="525.40" y2="262.20" stroke="#222" stroke-width="0.9"/>
<text x="525.40" y="269.80" font-size="6.2" fill="#222" stroke="#222" stroke-width="0.12" text-anchor="middle" font-weight="bold" textLength="9.90" lengthAdjust="spacingAndGlyphs">400</text>
<line x1="440.00" y1="177.52" x2="440.00" y2="259.20" stroke="#555" stroke-width="0.9" stroke-dasharray="1 1.4"/>
<line x1="476.60" y1="177.52" x2="476.60" y2="259.20" stroke="#555" stroke-width="0.9" stroke-dasharray="1 1.4"/>
<text x="452.30" y="280.50" font-size="6.9" fill="#1a1a1a" stroke="#1a1a1a" stroke-width="0.12" font-weight="bold" textLength="24.30" lengthAdjust="spacingAndGlyphs">time [s]</text>
<text x="386.60" y="251.70" font-size="6.8" fill="#1a1a1a" stroke="#1a1a1a" stroke-width="0.12" font-weight="bold" textLength="65.00" lengthAdjust="spacingAndGlyphs" transform="rotate(-90 386.60 251.70)">layer thickness [nm]</text>
<text x="440.90" y="166.80" font-size="8.1" fill="#111" stroke="#111" stroke-width="0.1" font-weight="bold" textLength="47.30" lengthAdjust="spacingAndGlyphs">B7-H3xCD16</text>
<text x="410.90" y="210.60" font-size="7.3" fill="#ff3b3b" stroke="#ff3b3b" stroke-width="0.25" textLength="22.00" lengthAdjust="spacingAndGlyphs">+B7-H3</text>
<text x="448.90" y="210.60" font-size="7.3" fill="#22bb22" stroke="#22bb22" stroke-width="0.25" textLength="17.60" lengthAdjust="spacingAndGlyphs">+TIGIT</text>
<text x="486.70" y="180.60" font-size="7.3" fill="#cc33dd" stroke="#cc33dd" stroke-width="0.25" textLength="18.80" lengthAdjust="spacingAndGlyphs">+CD16</text>
<text x="482.30" y="247.60" font-size="7.3" fill="#3d3dff" stroke="#3d3dff" stroke-width="0.25" textLength="35.10" lengthAdjust="spacingAndGlyphs">PBS control</text>
<polyline points="403.4,257.2 403.7,256.8 404.0,255.5 404.3,253.9 404.6,254.1 404.9,252.5 405.2,251.2 405.5,251.0 405.8,248.9 406.1,249.5 406.4,247.5 406.8,246.6 407.1,246.0 407.4,245.5 407.7,244.6 408.0,244.2 408.3,243.0 408.6,242.8 408.9,241.9 409.2,240.9 409.5,240.8 409.8,240.0 410.1,239.2 410.4,239.0 410.7,237.7 411.0,237.4 411.3,237.3 411.6,236.3 411.9,236.0 412.2,235.4 412.5,234.7 412.9,234.4 413.2,233.5 413.5,233.5 413.8,232.5 414.1,232.4 414.4,231.7 414.7,231.6 415.0,231.2 415.3,231.0 415.6,230.1 415.9,229.6 416.2,228.9 416.5,228.8 416.8,228.7 417.1,228.5 417.4,228.0 417.7,227.7 418.0,227.0 418.3,226.8 418.6,227.0 419.0,226.7 419.3,225.8 419.6,225.8 419.9,225.7 420.2,225.0 420.5,225.2 420.8,224.9 421.1,224.7 421.4,224.8 421.7,223.8 422.0,224.1 422.3,223.7 422.6,223.6 422.9,222.9 423.2,222.9 423.5,222.7 423.8,223.0 424.1,222.3 424.4,222.5 424.8,221.8 425.1,221.6 425.4,221.6 425.7,220.8 426.0,221.1 426.3,220.9 426.6,220.8 426.9,220.8 427.2,220.3 427.5,220.1 427.8,220.6 428.1,219.8 428.4,219.8 428.7,219.6 429.0,219.6 429.3,219.9 429.6,219.8 429.9,218.8 430.2,219.2 430.5,219.5 430.8,218.9 431.2,219.0 431.5,219.3 431.8,219.3 432.1,219.0 432.4,218.4 432.7,218.4 433.0,218.3 433.3,218.1 433.6,217.9 433.9,218.6 434.2,218.0 434.5,218.0 434.8,218.1 435.1,217.8 435.4,217.6 435.7,217.6 436.0,217.8 436.3,217.5 436.6,216.7 436.9,217.5 437.3,217.6 437.6,217.0 437.9,216.8 438.2,216.8 438.5,217.2 438.8,216.5 439.1,217.0 439.4,217.0 439.7,216.8 440.0,218.7 440.3,218.5 440.6,218.5 440.9,218.7 441.2,218.5 441.5,218.8 441.8,218.6 442.1,219.2 442.4,219.3 442.7,218.7 443.0,219.3 443.4,219.0 443.7,219.0 444.0,219.2 444.3,219.2 444.6,218.7 444.9,219.8 445.2,218.9 445.5,218.5 445.8,219.2 446.1,219.2 446.4,219.0 446.7,218.7 447.0,219.6 447.3,219.3 447.6,219.4 447.9,219.2 448.2,219.3 448.5,219.2 448.8,219.5 449.1,219.4 449.5,219.7 449.8,219.7 450.1,219.6 450.4,219.6 450.7,219.9 451.0,219.2 451.3,219.7 451.6,220.0 451.9,219.4 452.2,219.9 452.5,219.6 452.8,219.7 453.1,219.7 453.4,219.7 453.7,220.0 454.0,219.8 454.3,219.3 454.6,220.5 454.9,219.9 455.2,219.8 455.6,220.2 455.9,220.3 456.2,219.4 456.5,220.1 456.8,219.4 457.1,219.9 457.4,220.0 457.7,219.9 458.0,219.9 458.3,219.8 458.6,220.0 458.9,220.1 459.2,220.1 459.5,219.8 459.8,220.0 460.1,220.5 460.4,220.4 460.7,220.2 461.0,220.5 461.3,220.4 461.7,220.6 462.0,220.4 462.3,220.2 462.6,220.1 462.9,220.4 463.2,219.8 463.5,220.5 463.8,219.6 464.1,220.2 464.4,220.3 464.7,220.6 465.0,221.3 465.3,220.6 465.6,220.5 465.9,220.0 466.2,221.0 466.5,220.1 466.8,220.7 467.1,220.4 467.4,221.4 467.8,220.6 468.1,220.8 468.4,220.5 468.7,220.7 469.0,221.1 469.3,220.5 469.6,220.6 469.9,220.6 470.2,220.5 470.5,220.5 470.8,220.8 471.1,221.2 471.4,221.3 471.7,220.5 472.0,220.7 472.3,220.9 472.6,221.1 472.9,220.9 473.2,221.0 473.5,221.1 473.9,221.2 474.2,220.4 474.5,221.0 474.8,221.2 475.1,221.4 475.4,221.3 475.7,220.9 476.0,220.9 476.3,221.2 476.6,220.2 476.9,215.1 477.2,210.9 477.5,206.4 477.8,203.4 478.1,200.0 478.4,198.6 478.7,196.4 479.0,194.4 479.3,193.3 479.6,192.4 480.0,191.2 480.3,190.0 480.6,189.2 480.9,188.7 481.2,187.8 481.5,187.4 481.8,187.2 482.1,186.9 482.4,186.7 482.7,186.2 483.0,185.9 483.3,186.0 483.6,185.7 483.9,185.8 484.2,186.0 484.5,185.8 484.8,185.3 485.1,185.3 485.4,184.9 485.8,185.3 486.1,185.1 486.4,184.9 486.7,185.0 487.0,185.4 487.3,185.3 487.6,185.2 487.9,185.5 488.2,185.1 488.5,184.9 488.8,185.4 489.1,184.7 489.4,185.3 489.7,185.3 490.0,185.3 490.3,185.5 490.6,185.2 490.9,185.3 491.2,184.8 491.5,185.1 491.8,185.2 492.2,185.4 492.5,185.7 492.8,185.4 493.1,185.6 493.4,185.1 493.7,185.4 494.0,184.9 494.3,185.2 494.6,185.2 494.9,185.3 495.2,185.4 495.5,185.3 495.8,185.2 496.1,185.7 496.4,185.3 496.7,184.7 497.0,185.5 497.3,185.6 497.6,185.7 497.9,185.9 498.3,185.2 498.6,185.5 498.9,185.5 499.2,185.1 499.5,184.9 499.8,185.8 500.1,185.3 500.4,185.4 500.7,185.5 501.0,185.5 501.3,185.7 501.6,185.2 501.9,185.5 502.2,185.6 502.5,185.4 502.8,185.5 503.1,185.6 503.4,185.6 503.7,185.3 504.0,185.6 504.4,185.8 504.7,186.0 505.0,185.9 505.3,186.1 505.6,185.8 505.9,185.8 506.2,186.4 506.5,185.8 506.8,185.7 507.1,185.8 507.4,186.2 507.7,185.5 508.0,186.1 508.3,186.3 508.6,186.2 508.9,185.9 509.2,185.7 509.5,185.6 509.8,185.9 510.1,186.3 510.5,186.2 510.8,186.3 511.1,186.1 511.4,186.5 511.7,186.0 512.0,185.9 512.3,186.1 512.6,186.0 512.9,186.4 513.2,186.5" fill="none" stroke="#cc33ee" stroke-width="1.9" stroke-linejoin="round"/>
<polyline points="403.4,257.6 403.7,256.0 404.0,255.0 404.3,254.4 404.6,253.0 404.9,252.4 405.2,251.0 405.5,250.4 405.8,249.7 406.1,248.5 406.4,248.1 406.8,247.3 407.1,246.7 407.4,245.4 407.7,244.7 408.0,244.0 408.3,243.4 408.6,242.1 408.9,242.0 409.2,241.4 409.5,240.2 409.8,239.5 410.1,239.1 410.4,239.1 410.7,238.2 411.0,237.3 411.3,236.9 411.6,235.9 411.9,236.2 412.2,235.1 412.5,234.9 412.9,233.9 413.2,233.8 413.5,233.0 413.8,233.0 414.1,232.8 414.4,232.2 414.7,231.7 415.0,231.4 415.3,230.3 415.6,229.9 415.9,229.8 416.2,229.8 416.5,229.2 416.8,228.9 417.1,228.0 417.4,228.0 417.7,227.6 418.0,227.5 418.3,227.6 418.6,227.0 419.0,226.8 419.3,226.1 419.6,225.8 419.9,225.8 420.2,225.4 420.5,224.6 420.8,225.1 421.1,224.8 421.4,224.4 421.7,224.2 422.0,223.9 422.3,223.4 422.6,222.9 422.9,223.6 423.2,222.9 423.5,222.7 423.8,222.5 424.1,222.4 424.4,222.2 424.8,221.6 425.1,221.9 425.4,221.6 425.7,221.4 426.0,221.2 426.3,221.1 426.6,220.6 426.9,220.7 427.2,220.5 427.5,220.4 427.8,220.6 428.1,220.4 428.4,220.3 428.7,219.8 429.0,219.9 429.3,219.9 429.6,219.4 429.9,219.2 430.2,219.7 430.5,218.6 430.8,219.0 431.2,218.9 431.5,218.5 431.8,218.6 432.1,218.7 432.4,217.8 432.7,218.7 433.0,218.3 433.3,217.9 433.6,218.4 433.9,218.0 434.2,217.8 434.5,217.1 434.8,218.0 435.1,217.7 435.4,217.4 435.7,217.5 436.0,217.8 436.3,217.2 436.6,217.2 436.9,217.1 437.3,216.8 437.6,216.8 437.9,216.9 438.2,216.9 438.5,217.2 438.8,216.9 439.1,216.7 439.4,216.8 439.7,216.6 440.0,218.9 440.3,218.3 440.6,218.1 440.9,218.9 441.2,218.7 441.5,218.9 441.8,218.5 442.1,218.7 442.4,218.9 442.7,219.0 443.0,218.9 443.4,219.2 443.7,218.8 444.0,219.2 444.3,218.9 444.6,219.0 444.9,218.8 445.2,219.1 445.5,218.9 445.8,219.4 446.1,219.0 446.4,219.3 446.7,219.2 447.0,219.3 447.3,219.0 447.6,219.9 447.9,219.3 448.2,219.8 448.5,219.1 448.8,220.0 449.1,219.7 449.5,219.9 449.8,219.0 450.1,219.9 450.4,219.5 450.7,219.7 451.0,220.1 451.3,219.7 451.6,219.5 451.9,219.7 452.2,219.4 452.5,219.8 452.8,219.7 453.1,219.9 453.4,219.7 453.7,219.3 454.0,219.7 454.3,219.8 454.6,220.0 454.9,220.1 455.2,219.5 455.6,220.2 455.9,220.2 456.2,220.0 456.5,220.1 456.8,219.5 457.1,220.7 457.4,219.9 457.7,219.9 458.0,220.4 458.3,220.3 458.6,220.0 458.9,219.7 459.2,220.4 459.5,220.6 459.8,219.9 460.1,219.8 460.4,220.3 460.7,220.9 461.0,219.9 461.3,220.4 461.7,220.0 462.0,220.4 462.3,220.5 462.6,220.5 462.9,220.0 463.2,220.0 463.5,221.0 463.8,220.7 464.1,220.0 464.4,220.6 464.7,220.9 465.0,220.5 465.3,220.6 465.6,220.6 465.9,220.7 466.2,220.7 466.5,220.7 466.8,220.5 467.1,220.9 467.4,220.7 467.8,220.7 468.1,220.3 468.4,220.6 468.7,220.8 469.0,220.6 469.3,220.6 469.6,220.5 469.9,220.6 470.2,220.3 470.5,220.4 470.8,220.8 471.1,221.0 471.4,220.6 471.7,220.7 472.0,220.9 472.3,221.3 472.6,221.4 472.9,220.8 473.2,220.7 473.5,220.7 473.9,221.3 474.2,220.7 474.5,221.2 474.8,220.9 475.1,220.9 475.4,221.3 475.7,221.2 476.0,221.7 476.3,221.4 476.6,219.6 476.9,219.0 477.2,219.1 477.5,218.9 477.8,219.0 478.1,219.3 478.4,219.1 478.7,219.3 479.0,219.0 479.3,219.1 479.6,219.5 480.0,219.3 480.3,219.3 480.6,219.4 480.9,219.1 481.2,218.9 481.5,219.5 481.8,219.5 482.1,220.0 482.4,219.5 482.7,219.6 483.0,220.1 483.3,219.4 483.6,219.3 483.9,219.7 484.2,219.6 484.5,219.8 484.8,219.4 485.1,220.0 485.4,219.7 485.8,219.1 486.1,219.6 486.4,219.5 486.7,219.7 487.0,220.0 487.3,219.7 487.6,219.6 487.9,220.0 488.2,219.7 488.5,219.4 488.8,219.5 489.1,220.2 489.4,220.1 489.7,220.3 490.0,219.5 490.3,219.7 490.6,219.7 490.9,220.1 491.2,220.2 491.5,219.9 491.8,219.9 492.2,220.2 492.5,219.9 492.8,219.8 493.1,219.9 493.4,220.3 493.7,220.6 494.0,220.1 494.3,220.0 494.6,220.1 494.9,220.2 495.2,220.3 495.5,219.9 495.8,220.1 496.1,220.1 496.4,220.4 496.7,220.3 497.0,220.1 497.3,220.5 497.6,220.6 497.9,220.3 498.3,219.9 498.6,220.2 498.9,219.9 499.2,220.3 499.5,220.4 499.8,220.7 500.1,220.5 500.4,219.9 500.7,220.2 501.0,220.1 501.3,220.2 501.6,220.4 501.9,220.4 502.2,220.4 502.5,220.2 502.8,220.3 503.1,220.3 503.4,220.4 503.7,220.7 504.0,220.5 504.4,220.7 504.7,220.2 505.0,221.1 505.3,220.6 505.6,219.9 505.9,220.6 506.2,220.9 506.5,220.6 506.8,220.2 507.1,220.6 507.4,220.4 507.7,220.6 508.0,220.7 508.3,219.8 508.6,220.6 508.9,220.8 509.2,220.8 509.5,220.6 509.8,220.6 510.1,220.5 510.5,220.7 510.8,221.1 511.1,220.6 511.4,220.8 511.7,220.8 512.0,221.2 512.3,220.9 512.6,221.0 512.9,220.8 513.2,221.2" fill="none" stroke="#1ccc1c" stroke-width="1.9" stroke-linejoin="round"/>
<polyline points="403.4,257.4 403.7,256.3 404.0,255.6 404.3,254.5 404.6,253.6 404.9,252.1 405.2,252.1 405.5,250.6 405.8,250.1 406.1,248.9 406.4,247.7 406.8,247.3 407.1,246.2 407.4,245.7 407.7,244.2 408.0,243.7 408.3,242.9 408.6,242.9 408.9,242.1 409.2,240.9 409.5,240.6 409.8,239.9 410.1,239.1 410.4,239.0 410.7,237.8 411.0,237.4 411.3,236.7 411.6,236.5 411.9,235.6 412.2,235.5 412.5,234.5 412.9,233.9 413.2,233.5 413.5,233.1 413.8,232.6 414.1,233.1 414.4,231.7 414.7,231.6 415.0,231.0 415.3,230.7 415.6,230.6 415.9,230.0 416.2,229.3 416.5,228.7 416.8,228.9 417.1,228.7 417.4,227.7 417.7,228.0 418.0,226.8 418.3,227.1 418.6,227.0 419.0,226.2 419.3,225.7 419.6,226.3 419.9,225.2 420.2,225.4 420.5,224.6 420.8,224.9 421.1,225.0 421.4,224.1 421.7,223.8 422.0,223.2 422.3,223.1 422.6,223.2 422.9,223.2 423.2,223.1 423.5,222.8 423.8,222.7 424.1,222.4 424.4,222.8 424.8,221.9 425.1,221.7 425.4,220.8 425.7,221.2 426.0,221.3 426.3,220.9 426.6,221.2 426.9,220.9 427.2,221.1 427.5,220.0 427.8,220.1 428.1,220.5 428.4,220.0 428.7,219.6 429.0,219.6 429.3,219.5 429.6,219.7 429.9,219.5 430.2,219.2 430.5,218.8 430.8,219.2 431.2,219.2 431.5,218.4 431.8,218.9 432.1,218.3 432.4,218.4 432.7,218.1 433.0,217.8 433.3,218.0 433.6,217.9 433.9,218.2 434.2,218.1 434.5,217.6 434.8,217.3 435.1,217.3 435.4,216.9 435.7,217.4 436.0,217.4 436.3,217.1 436.6,217.3 436.9,217.2 437.3,217.4 437.6,216.8 437.9,217.3 438.2,216.8 438.5,217.3 438.8,216.5 439.1,217.1 439.4,216.5 439.7,217.1 440.0,216.7 440.3,216.3 440.6,216.9 440.9,216.7 441.2,216.9 441.5,217.4 441.8,216.7 442.1,216.7 442.4,217.2 442.7,216.8 443.0,217.2 443.4,217.3 443.7,217.0 444.0,217.3 444.3,216.5 444.6,217.6 444.9,217.0 445.2,217.0 445.5,217.8 445.8,217.8 446.1,217.2 446.4,217.5 446.7,217.3 447.0,217.1 447.3,217.6 447.6,217.8 447.9,218.3 448.2,217.5 448.5,217.9 448.8,217.6 449.1,217.6 449.5,218.1 449.8,217.3 450.1,217.5 450.4,217.6 450.7,218.2 451.0,218.0 451.3,218.1 451.6,218.1 451.9,218.3 452.2,217.9 452.5,218.0 452.8,218.0 453.1,218.3 453.4,217.8 453.7,218.1 454.0,219.0 454.3,218.4 454.6,218.3 454.9,218.0 455.2,218.4 455.6,218.4 455.9,218.6 456.2,218.3 456.5,218.6 456.8,218.7 457.1,218.7 457.4,218.4 457.7,218.7 458.0,219.1 458.3,218.5 458.6,218.9 458.9,218.6 459.2,218.6 459.5,218.4 459.8,218.5 460.1,219.0 460.4,218.9 460.7,219.3 461.0,218.5 461.3,218.8 461.7,218.6 462.0,219.1 462.3,219.6 462.6,218.6 462.9,219.1 463.2,219.1 463.5,219.1 463.8,219.0 464.1,219.1 464.4,219.7 464.7,219.0 465.0,219.5 465.3,219.5 465.6,218.9 465.9,219.1 466.2,219.5 466.5,220.0 466.8,219.4 467.1,219.4 467.4,219.6 467.8,219.9 468.1,219.8 468.4,220.0 468.7,219.6 469.0,219.4 469.3,219.4 469.6,219.9 469.9,219.7 470.2,219.6 470.5,219.9 470.8,219.9 471.1,219.3 471.4,219.8 471.7,219.7 472.0,220.1 472.3,220.0 472.6,220.5 472.9,220.0 473.2,219.7 473.5,219.5 473.9,219.8 474.2,219.9 474.5,220.1 474.8,220.3 475.1,220.2 475.4,220.0 475.7,220.5 476.0,220.0 476.3,220.6 476.6,220.8 476.9,220.6 477.2,220.8 477.5,220.8 477.8,220.1 478.1,220.5 478.4,220.4 478.7,220.2 479.0,220.2 479.3,220.7 479.6,220.2 480.0,220.5 480.3,220.6 480.6,220.5 480.9,221.1 481.2,220.9 481.5,220.7 481.8,220.6 482.1,220.9 482.4,220.8 482.7,220.5 483.0,220.4 483.3,220.6 483.6,220.5 483.9,221.0 484.2,221.0 484.5,220.9 484.8,221.0 485.1,221.1 485.4,220.5 485.8,221.1 486.1,221.3 486.4,220.9 486.7,220.6 487.0,221.1 487.3,220.8 487.6,221.3 487.9,221.3 488.2,221.4 488.5,221.3 488.8,220.7 489.1,221.6 489.4,220.8 489.7,221.6 490.0,221.4 490.3,221.1 490.6,221.2 490.9,221.3 491.2,221.9 491.5,221.3 491.8,221.8 492.2,220.8 492.5,221.6 492.8,221.5 493.1,221.9 493.4,221.7 493.7,221.9 494.0,221.3 494.3,221.7 494.6,221.5 494.9,221.9 495.2,221.8 495.5,221.4 495.8,222.0 496.1,222.3 496.4,221.7 496.7,222.1 497.0,221.9 497.3,221.6 497.6,222.1 497.9,221.6 498.3,222.1 498.6,221.5 498.9,221.6 499.2,222.1 499.5,222.0 499.8,222.2 500.1,221.9 500.4,221.7 500.7,222.4 501.0,221.8 501.3,222.4 501.6,222.3 501.9,222.6 502.2,221.5 502.5,222.1 502.8,222.1 503.1,222.4 503.4,221.9 503.7,222.8 504.0,222.2 504.4,221.6 504.7,222.4 505.0,222.3 505.3,222.1 505.6,222.6 505.9,222.3 506.2,222.1 506.5,222.3 506.8,222.3 507.1,222.5 507.4,222.4 507.7,222.4 508.0,222.1 508.3,222.3 508.6,222.6 508.9,223.2 509.2,222.3 509.5,222.4 509.8,222.8 510.1,223.2 510.5,222.9 510.8,222.4 511.1,222.9 511.4,222.8 511.7,222.6 512.0,222.4 512.3,222.7 512.6,222.8 512.9,222.9 513.2,222.3" fill="none" stroke="#ff1a1a" stroke-width="1.9" stroke-linejoin="round"/>
<polyline points="403.4,257.1 403.7,257.4 404.0,257.8 404.3,257.6 404.6,257.2 404.9,257.6 405.2,257.1 405.5,257.3 405.8,257.3 406.1,257.2 406.4,257.2 406.8,257.6 407.1,257.5 407.4,256.7 407.7,257.7 408.0,257.5 408.3,257.0 408.6,257.4 408.9,257.6 409.2,257.7 409.5,257.2 409.8,257.0 410.1,256.9 410.4,257.3 410.7,257.0 411.0,257.6 411.3,257.3 411.6,257.5 411.9,257.3 412.2,257.1 412.5,257.0 412.9,257.6 413.2,256.9 413.5,257.4 413.8,257.6 414.1,257.3 414.4,257.7 414.7,257.3 415.0,257.2 415.3,257.3 415.6,257.1 415.9,257.4 416.2,257.3 416.5,257.7 416.8,257.2 417.1,257.5 417.4,257.4 417.7,257.3 418.0,257.2 418.3,257.7 418.6,257.7 419.0,257.3 419.3,257.1 419.6,257.1 419.9,257.0 420.2,256.9 420.5,257.1 420.8,257.2 421.1,257.5 421.4,257.5 421.7,257.3 422.0,257.1 422.3,257.1 422.6,257.2 422.9,257.2 423.2,257.0 423.5,257.1 423.8,257.1 424.1,257.1 424.4,257.3 424.8,257.5 425.1,257.0 425.4,257.0 425.7,257.2 426.0,257.3 426.3,256.5 426.6,257.4 426.9,257.2 427.2,257.1 427.5,257.5 427.8,257.1 428.1,256.6 428.4,256.9 428.7,256.9 429.0,257.0 429.3,257.1 429.6,256.8 429.9,257.2 430.2,257.2 430.5,257.1 430.8,256.8 431.2,257.0 431.5,256.9 431.8,257.7 432.1,256.8 432.4,256.4 432.7,256.7 433.0,257.2 433.3,257.3 433.6,257.0 433.9,257.3 434.2,256.9 434.5,257.2 434.8,256.8 435.1,256.7 435.4,257.6 435.7,257.0 436.0,257.2 436.3,257.4 436.6,257.2 436.9,257.1 437.3,256.7 437.6,257.5 437.9,256.7 438.2,256.5 438.5,256.9 438.8,256.9 439.1,257.0 439.4,257.3 439.7,256.9 440.0,256.9 440.3,256.8 440.6,256.3 440.9,256.8 441.2,256.9 441.5,256.5 441.8,257.4 442.1,257.3 442.4,257.1 442.7,257.2 443.0,256.8 443.4,257.1 443.7,256.5 444.0,256.5 444.3,256.7 444.6,257.1 444.9,256.8 445.2,256.7 445.5,257.2 445.8,256.8 446.1,256.7 446.4,256.9 446.7,256.5 447.0,256.6 447.3,257.2 447.6,256.9 447.9,257.1 448.2,256.7 448.5,257.1 448.8,256.6 449.1,256.8 449.5,256.6 449.8,256.9 450.1,257.3 450.4,256.4 450.7,256.9 451.0,256.5 451.3,256.8 451.6,256.7 451.9,256.4 452.2,256.8 452.5,256.5 452.8,257.3 453.1,256.6 453.4,256.9 453.7,256.9 454.0,256.8 454.3,256.7 454.6,256.4 454.9,257.4 455.2,256.8 455.6,257.0 455.9,256.5 456.2,256.9 456.5,256.7 456.8,256.9 457.1,256.6 457.4,256.5 457.7,256.9 458.0,256.8 458.3,257.2 458.6,256.7 458.9,256.6 459.2,256.9 459.5,256.5 459.8,257.4 460.1,257.3 460.4,257.2 460.7,256.9 461.0,256.8 461.3,256.8 461.7,256.8 462.0,256.6 462.3,256.9 462.6,257.1 462.9,257.1 463.2,256.2 463.5,257.4 463.8,256.8 464.1,256.3 464.4,256.6 464.7,257.0 465.0,256.7 465.3,256.5 465.6,256.4 465.9,257.0 466.2,256.5 466.5,256.6 466.8,256.4 467.1,256.3 467.4,256.8 467.8,257.1 468.1,256.6 468.4,256.2 468.7,256.5 469.0,256.6 469.3,256.0 469.6,257.0 469.9,256.4 470.2,256.8 470.5,256.7 470.8,256.6 471.1,256.2 471.4,256.9 471.7,256.8 472.0,257.1 472.3,256.5 472.6,256.8 472.9,256.5 473.2,256.9 473.5,256.7 473.9,256.3 474.2,256.7 474.5,256.4 474.8,256.5 475.1,256.7 475.4,257.1 475.7,256.3 476.0,256.6 476.3,256.3 476.6,257.2 476.9,257.1 477.2,257.2 477.5,256.8 477.8,256.3 478.1,256.4 478.4,256.6 478.7,256.5 479.0,256.4 479.3,256.7 479.6,256.5 480.0,256.5 480.3,257.2 480.6,256.7 480.9,256.2 481.2,256.7 481.5,256.6 481.8,256.7 482.1,256.7 482.4,256.2 482.7,256.6 483.0,256.8 483.3,257.4 483.6,256.7 483.9,257.1 484.2,257.0 484.5,256.3 484.8,256.3 485.1,257.0 485.4,256.3 485.8,256.4 486.1,256.7 486.4,256.3 486.7,256.9 487.0,256.8 487.3,256.9 487.6,256.8 487.9,256.2 488.2,256.8 488.5,256.8 488.8,256.7 489.1,256.4 489.4,256.6 489.7,256.2 490.0,256.7 490.3,256.8 490.6,256.6 490.9,256.4 491.2,256.7 491.5,256.4 491.8,255.9 492.2,256.6 492.5,256.4 492.8,256.0 493.1,256.6 493.4,256.7 493.7,256.7 494.0,256.3 494.3,256.3 494.6,256.5 494.9,256.4 495.2,256.0 495.5,256.2 495.8,256.8 496.1,256.4 496.4,256.4 496.7,256.2 497.0,256.4 497.3,256.6 497.6,256.5 497.9,256.9 498.3,256.4 498.6,256.5 498.9,256.2 499.2,256.6 499.5,256.5 499.8,256.6 500.1,256.7 500.4,256.2 500.7,256.5 501.0,256.2 501.3,256.7 501.6,256.3 501.9,256.8 502.2,256.5 502.5,256.5 502.8,256.2 503.1,256.3 503.4,256.4 503.7,256.1 504.0,256.3 504.4,256.2 504.7,256.1 505.0,256.3 505.3,256.4 505.6,256.2 505.9,256.4 506.2,256.2 506.5,256.0 506.8,256.0 507.1,256.4 507.4,256.6 507.7,256.3 508.0,256.3 508.3,256.0 508.6,256.4 508.9,256.3 509.2,256.1 509.5,256.4 509.8,256.3 510.1,255.8 510.5,255.8 510.8,256.1 511.1,256.2 511.4,256.5 511.7,256.1 512.0,256.2 512.3,256.2 512.6,256.4 512.9,256.2 513.2,256.3" fill="none" stroke="#1a1aff" stroke-width="1.9" stroke-linejoin="round"/>
<line x1="43.10" y1="325.30" x2="43.10" y2="406.60" stroke="#222" stroke-width="1.0"/>
<line x1="42.60" y1="406.60" x2="165.10" y2="406.60" stroke="#444" stroke-width="1.1"/>
<line x1="39.40" y1="404.50" x2="43.10" y2="404.50" stroke="#222" stroke-width="0.9"/>
<text x="38.60" y="406.80" font-size="6.4" fill="#222" stroke="#222" stroke-width="0.12" text-anchor="end" font-weight="bold" textLength="8.40" lengthAdjust="spacingAndGlyphs">0.0</text>
<line x1="39.40" y1="378.20" x2="43.10" y2="378.20" stroke="#222" stroke-width="0.9"/>
<text x="38.60" y="380.50" font-size="6.4" fill="#222" stroke="#222" stroke-width="0.12" text-anchor="end" font-weight="bold" textLength="8.40" lengthAdjust="spacingAndGlyphs">0.1</text>
<line x1="39.40" y1="351.90" x2="43.10" y2="351.90" stroke="#222" stroke-width="0.9"/>
<text x="38.60" y="354.20" font-size="6.4" fill="#222" stroke="#222" stroke-width="0.12" text-anchor="end" font-weight="bold" textLength="8.40" lengthAdjust="spacingAndGlyphs">0.2</text>
<line x1="39.40" y1="325.60" x2="43.10" y2="325.60" stroke="#222" stroke-width="0.9"/>
<text x="38.60" y="327.90" font-size="6.4" fill="#222" stroke="#222" stroke-width="0.12" text-anchor="end" font-weight="bold" textLength="8.40" lengthAdjust="spacingAndGlyphs">0.3</text>
<line x1="43.10" y1="406.60" x2="43.10" y2="409.60" stroke="#222" stroke-width="0.9"/>
<text x="43.10" y="417.20" font-size="6.2" fill="#222" stroke="#222" stroke-width="0.12" text-anchor="middle" font-weight="bold" textLength="3.30" lengthAdjust="spacingAndGlyphs">0</text>
<line x1="73.60" y1="406.60" x2="73.60" y2="409.60" stroke="#222" stroke-width="0.9"/>
<text x="73.60" y="417.20" font-size="6.2" fill="#222" stroke="#222" stroke-width="0.12" text-anchor="middle" font-weight="bold" textLength="9.90" lengthAdjust="spacingAndGlyphs">100</text>
<line x1="104.10" y1="406.60" x2="104.10" y2="409.60" stroke="#222" stroke-width="0.9"/>
<text x="104.10" y="417.20" font-size="6.2" fill="#222" stroke="#222" stroke-width="0.12" text-anchor="middle" font-weight="bold" textLength="9.90" lengthAdjust="spacingAndGlyphs">200</text>
<line x1="134.60" y1="406.60" x2="134.60" y2="409.60" stroke="#222" stroke-width="0.9"/>
<text x="134.60" y="417.20" font-size="6.2" fill="#222" stroke="#222" stroke-width="0.12" text-anchor="middle" font-weight="bold" textLength="9.90" lengthAdjust="spacingAndGlyphs">300</text>
<line x1="165.10" y1="406.60" x2="165.10" y2="409.60" stroke="#222" stroke-width="0.9"/>
<text x="165.10" y="417.20" font-size="6.2" fill="#222" stroke="#222" stroke-width="0.12" text-anchor="middle" font-weight="bold" textLength="9.90" lengthAdjust="spacingAndGlyphs">400</text>
<line x1="79.70" y1="325.60" x2="79.70" y2="406.60" stroke="#555" stroke-width="0.9" stroke-dasharray="1 1.4"/>
<line x1="116.30" y1="325.60" x2="116.30" y2="406.60" stroke="#555" stroke-width="0.9" stroke-dasharray="1 1.4"/>
<text x="92.00" y="427.90" font-size="6.9" fill="#1a1a1a" stroke="#1a1a1a" stroke-width="0.12" font-weight="bold" textLength="24.30" lengthAdjust="spacingAndGlyphs">time [s]</text>
<text x="26.40" y="399.10" font-size="6.8" fill="#1a1a1a" stroke="#1a1a1a" stroke-width="0.12" font-weight="bold" textLength="65.00" lengthAdjust="spacingAndGlyphs" transform="rotate(-90 26.40 399.10)">layer thickness [nm]</text>
<text x="87.90" y="314.00" font-size="8.1" fill="#111" stroke="#111" stroke-width="0.1" font-weight="bold" textLength="33.70" lengthAdjust="spacingAndGlyphs">oa B7-H3</text>
<text x="49.90" y="336.60" font-size="7.3" fill="#ff3b3b" stroke="#ff3b3b" stroke-width="0.25" textLength="22.00" lengthAdjust="spacingAndGlyphs">+B7-H3</text>
<text x="87.70" y="336.60" font-size="7.3" fill="#22bb22" stroke="#22bb22" stroke-width="0.25" textLength="17.60" lengthAdjust="spacingAndGlyphs">+TIGIT</text>
<text x="126.30" y="336.60" font-size="7.3" fill="#cc33dd" stroke="#cc33dd" stroke-width="0.25" textLength="18.80" lengthAdjust="spacingAndGlyphs">+CD16</text>
<text x="117.70" y="393.60" font-size="7.3" fill="#3d3dff" stroke="#3d3dff" stroke-width="0.25" textLength="35.10" lengthAdjust="spacingAndGlyphs">PBS control</text>
<polyline points="43.1,404.4 43.4,402.2 43.7,400.9 44.0,399.9 44.3,398.0 44.6,396.6 44.9,394.8 45.2,392.9 45.5,391.4 45.8,390.4 46.1,388.7 46.5,387.7 46.8,386.6 47.1,385.3 47.4,383.9 47.7,381.9 48.0,381.7 48.3,379.7 48.6,378.6 48.9,378.0 49.2,376.9 49.5,376.1 49.8,374.9 50.1,373.7 50.4,373.0 50.7,371.7 51.0,370.8 51.3,370.2 51.6,369.4 51.9,368.7 52.2,367.8 52.6,367.5 52.9,366.2 53.2,365.6 53.5,365.2 53.8,363.5 54.1,363.9 54.4,363.2 54.7,362.2 55.0,362.4 55.3,361.4 55.6,361.0 55.9,360.3 56.2,359.5 56.5,358.8 56.8,358.0 57.1,357.6 57.4,357.0 57.7,356.7 58.0,356.6 58.4,355.6 58.7,355.7 59.0,355.3 59.3,354.2 59.6,354.0 59.9,353.8 60.2,353.3 60.5,352.8 60.8,353.2 61.1,352.5 61.4,352.5 61.7,351.7 62.0,351.7 62.3,350.7 62.6,350.6 62.9,350.8 63.2,350.2 63.5,350.4 63.8,349.7 64.1,349.2 64.5,349.1 64.8,349.6 65.1,348.8 65.4,348.3 65.7,348.1 66.0,347.6 66.3,348.2 66.6,347.4 66.9,347.6 67.2,347.1 67.5,346.8 67.8,346.5 68.1,346.8 68.4,346.3 68.7,346.6 69.0,346.5 69.3,345.7 69.6,345.7 69.9,346.1 70.2,345.7 70.5,345.3 70.9,344.6 71.2,344.6 71.5,344.6 71.8,345.3 72.1,344.6 72.4,344.3 72.7,344.2 73.0,344.1 73.3,344.2 73.6,343.4 73.9,343.4 74.2,343.8 74.5,344.0 74.8,342.9 75.1,343.7 75.4,343.0 75.7,342.7 76.0,343.5 76.3,343.0 76.7,343.2 77.0,342.8 77.3,342.8 77.6,342.1 77.9,342.5 78.2,342.7 78.5,342.2 78.8,342.6 79.1,342.6 79.4,341.6 79.7,346.4 80.0,346.4 80.3,346.2 80.6,346.7 80.9,347.1 81.2,346.0 81.5,346.7 81.8,346.7 82.1,346.7 82.4,347.0 82.8,347.0 83.1,346.7 83.4,346.0 83.7,346.6 84.0,346.6 84.3,347.4 84.6,347.0 84.9,347.4 85.2,346.8 85.5,347.2 85.8,347.2 86.1,347.3 86.4,347.5 86.7,347.9 87.0,347.2 87.3,347.9 87.6,347.9 87.9,347.6 88.2,347.8 88.5,347.5 88.8,347.3 89.2,347.6 89.5,347.7 89.8,347.8 90.1,347.6 90.4,348.6 90.7,347.8 91.0,348.3 91.3,348.5 91.6,348.1 91.9,348.3 92.2,348.0 92.5,347.9 92.8,349.1 93.1,348.4 93.4,347.7 93.7,348.1 94.0,348.0 94.3,348.5 94.6,349.1 95.0,349.0 95.3,348.4 95.6,348.4 95.9,349.0 96.2,348.9 96.5,348.7 96.8,349.5 97.1,349.0 97.4,348.4 97.7,348.3 98.0,349.1 98.3,348.5 98.6,349.3 98.9,349.5 99.2,350.0 99.5,348.9 99.8,349.4 100.1,348.5 100.4,349.3 100.7,349.4 101.0,350.1 101.4,349.0 101.7,349.7 102.0,349.7 102.3,350.4 102.6,349.4 102.9,349.4 103.2,350.0 103.5,349.8 103.8,349.7 104.1,349.5 104.4,349.9 104.7,349.4 105.0,350.1 105.3,350.2 105.6,350.2 105.9,351.0 106.2,350.4 106.5,349.8 106.8,350.1 107.2,350.5 107.5,350.2 107.8,351.0 108.1,350.5 108.4,350.2 108.7,350.2 109.0,350.8 109.3,350.2 109.6,349.9 109.9,350.8 110.2,350.4 110.5,351.2 110.8,351.4 111.1,350.5 111.4,350.8 111.7,350.8 112.0,351.1 112.3,351.0 112.6,350.7 112.9,350.4 113.2,351.1 113.6,351.6 113.9,350.6 114.2,350.9 114.5,350.9 114.8,351.1 115.1,350.4 115.4,351.2 115.7,351.1 116.0,351.9 116.3,350.8 116.6,349.2 116.9,347.6 117.2,346.5 117.5,346.1 117.8,344.6 118.1,345.1 118.4,344.6 118.7,344.0 119.0,344.3 119.3,343.6 119.7,343.4 120.0,343.6 120.3,342.8 120.6,343.4 120.9,343.3 121.2,343.7 121.5,343.9 121.8,343.6 122.1,343.4 122.4,343.5 122.7,343.1 123.0,344.2 123.3,343.7 123.6,344.0 123.9,342.9 124.2,343.6 124.5,343.6 124.8,343.8 125.1,343.1 125.4,343.6 125.8,343.4 126.1,344.2 126.4,343.1 126.7,343.4 127.0,343.3 127.3,343.1 127.6,343.6 127.9,343.6 128.2,343.3 128.5,343.4 128.8,343.7 129.1,343.6 129.4,343.8 129.7,343.4 130.0,343.3 130.3,343.7 130.6,343.1 130.9,344.2 131.2,343.8 131.6,343.2 131.9,343.9 132.2,344.3 132.5,343.3 132.8,343.6 133.1,344.2 133.4,343.6 133.7,344.2 134.0,344.3 134.3,343.9 134.6,344.1 134.9,344.3 135.2,344.1 135.5,344.3 135.8,343.9 136.1,344.0 136.4,343.7 136.7,344.2 137.0,344.5 137.3,344.5 137.7,344.1 138.0,343.5 138.3,343.8 138.6,344.3 138.9,343.8 139.2,344.5 139.5,343.8 139.8,344.3 140.1,343.9 140.4,344.0 140.7,344.3 141.0,344.1 141.3,344.6 141.6,344.3 141.9,343.9 142.2,342.9 142.5,344.1 142.8,344.3 143.1,344.7 143.4,344.0 143.8,344.9 144.1,344.6 144.4,344.3 144.7,344.8 145.0,343.9 145.3,344.1 145.6,344.6 145.9,344.7 146.2,344.9 146.5,345.0 146.8,344.4 147.1,344.3 147.4,344.4 147.7,344.5 148.0,344.8 148.3,344.5 148.6,345.1 148.9,344.6 149.2,344.1 149.5,344.2 149.8,344.8 150.2,344.8 150.5,344.2 150.8,344.1 151.1,345.2 151.4,344.9 151.7,344.7 152.0,344.4 152.3,345.1 152.6,344.6 152.9,344.9" fill="none" stroke="#cc33ee" stroke-width="1.45" stroke-linejoin="round"/>
<polyline points="43.1,403.7 43.4,402.6 43.7,401.1 44.0,399.4 44.3,397.3 44.6,395.9 44.9,394.9 45.2,393.0 45.5,392.0 45.8,390.4 46.1,389.2 46.5,387.9 46.8,386.4 47.1,385.2 47.4,383.4 47.7,382.1 48.0,381.3 48.3,380.5 48.6,378.7 48.9,378.6 49.2,377.5 49.5,375.6 49.8,374.7 50.1,373.6 50.4,373.1 50.7,372.5 51.0,371.4 51.3,370.1 51.6,369.8 51.9,368.9 52.2,368.4 52.6,367.5 52.9,366.1 53.2,365.5 53.5,365.3 53.8,364.6 54.1,363.8 54.4,362.8 54.7,362.7 55.0,361.8 55.3,361.8 55.6,361.0 55.9,359.8 56.2,359.1 56.5,359.3 56.8,358.6 57.1,357.6 57.4,357.5 57.7,357.1 58.0,356.2 58.4,355.9 58.7,355.1 59.0,354.8 59.3,354.9 59.6,354.3 59.9,353.9 60.2,354.0 60.5,353.5 60.8,352.4 61.1,353.0 61.4,351.7 61.7,351.7 62.0,351.5 62.3,350.9 62.6,350.7 62.9,350.1 63.2,350.4 63.5,350.0 63.8,349.8 64.1,348.8 64.5,348.8 64.8,349.2 65.1,348.8 65.4,348.7 65.7,348.2 66.0,347.9 66.3,347.0 66.6,348.2 66.9,347.0 67.2,347.0 67.5,347.2 67.8,346.8 68.1,346.7 68.4,346.4 68.7,345.9 69.0,346.6 69.3,345.4 69.6,345.8 69.9,345.0 70.2,345.3 70.5,344.8 70.9,344.9 71.2,344.6 71.5,344.8 71.8,345.0 72.1,344.4 72.4,344.2 72.7,343.6 73.0,344.9 73.3,344.2 73.6,343.6 73.9,344.3 74.2,343.9 74.5,343.0 74.8,343.1 75.1,343.8 75.4,342.9 75.7,342.9 76.0,342.9 76.3,343.0 76.7,343.0 77.0,343.3 77.3,343.1 77.6,342.5 77.9,342.7 78.2,342.0 78.5,342.7 78.8,343.3 79.1,342.6 79.4,342.3 79.7,343.9 80.0,344.1 80.3,344.4 80.6,343.7 80.9,344.5 81.2,344.1 81.5,344.5 81.8,344.9 82.1,344.0 82.4,345.4 82.8,344.9 83.1,344.6 83.4,344.9 83.7,344.6 84.0,344.9 84.3,345.1 84.6,344.3 84.9,345.1 85.2,345.2 85.5,345.5 85.8,345.5 86.1,345.1 86.4,345.2 86.7,345.4 87.0,345.7 87.3,345.3 87.6,346.2 87.9,345.7 88.2,345.8 88.5,346.0 88.8,345.7 89.2,346.1 89.5,346.2 89.8,345.4 90.1,345.8 90.4,345.7 90.7,346.1 91.0,345.9 91.3,346.0 91.6,345.9 91.9,345.5 92.2,346.5 92.5,346.4 92.8,346.5 93.1,347.8 93.4,347.1 93.7,346.7 94.0,346.5 94.3,347.0 94.6,346.4 95.0,346.4 95.3,347.1 95.6,346.5 95.9,346.4 96.2,346.9 96.5,347.5 96.8,346.7 97.1,347.3 97.4,347.4 97.7,347.3 98.0,347.6 98.3,347.1 98.6,347.2 98.9,347.1 99.2,347.4 99.5,347.9 99.8,347.7 100.1,347.4 100.4,347.9 100.7,346.8 101.0,347.9 101.4,348.1 101.7,347.6 102.0,347.8 102.3,348.1 102.6,348.2 102.9,348.0 103.2,347.9 103.5,348.0 103.8,348.4 104.1,348.2 104.4,348.1 104.7,348.2 105.0,349.5 105.3,348.8 105.6,348.8 105.9,348.7 106.2,348.6 106.5,348.4 106.8,348.5 107.2,348.8 107.5,348.8 107.8,348.3 108.1,349.1 108.4,348.9 108.7,348.5 109.0,348.9 109.3,349.8 109.6,349.0 109.9,349.3 110.2,349.3 110.5,348.9 110.8,349.1 111.1,349.4 111.4,349.1 111.7,349.3 112.0,349.4 112.3,349.4 112.6,349.5 112.9,349.7 113.2,349.8 113.6,349.7 113.9,350.0 114.2,350.2 114.5,349.3 114.8,349.9 115.1,349.9 115.4,350.0 115.7,349.9 116.0,350.0 116.3,347.4 116.6,347.7 116.9,347.2 117.2,347.8 117.5,347.2 117.8,348.3 118.1,348.0 118.4,347.4 118.7,347.8 119.0,348.0 119.3,347.7 119.7,348.2 120.0,347.9 120.3,348.7 120.6,348.1 120.9,348.2 121.2,347.8 121.5,347.8 121.8,348.4 122.1,347.6 122.4,348.4 122.7,348.9 123.0,349.1 123.3,347.8 123.6,348.3 123.9,348.6 124.2,348.6 124.5,348.8 124.8,348.0 125.1,348.5 125.4,347.9 125.8,348.6 126.1,349.4 126.4,348.3 126.7,348.8 127.0,348.8 127.3,348.2 127.6,348.9 127.9,348.4 128.2,348.8 128.5,349.1 128.8,348.7 129.1,349.1 129.4,348.5 129.7,348.7 130.0,349.0 130.3,348.9 130.6,348.9 130.9,349.2 131.2,348.9 131.6,349.3 131.9,349.0 132.2,349.6 132.5,349.3 132.8,349.2 133.1,349.6 133.4,349.5 133.7,349.6 134.0,349.2 134.3,349.7 134.6,349.4 134.9,349.0 135.2,349.4 135.5,350.1 135.8,349.6 136.1,349.3 136.4,349.8 136.7,349.3 137.0,349.5 137.3,349.6 137.7,349.9 138.0,350.0 138.3,349.9 138.6,349.9 138.9,349.7 139.2,349.8 139.5,350.1 139.8,350.0 140.1,349.9 140.4,350.6 140.7,350.4 141.0,350.4 141.3,350.2 141.6,350.3 141.9,350.3 142.2,350.5 142.5,350.0 142.8,350.2 143.1,350.9 143.4,350.3 143.8,350.8 144.1,349.8 144.4,350.6 144.7,350.6 145.0,350.4 145.3,350.6 145.6,350.5 145.9,350.0 146.2,350.5 146.5,350.3 146.8,350.2 147.1,351.0 147.4,350.1 147.7,350.5 148.0,350.4 148.3,351.1 148.6,350.5 148.9,350.7 149.2,351.0 149.5,350.1 149.8,350.7 150.2,351.0 150.5,350.9 150.8,350.7 151.1,350.6 151.4,350.8 151.7,350.6 152.0,350.6 152.3,351.5 152.6,351.3 152.9,351.5" fill="none" stroke="#1ccc1c" stroke-width="1.45" stroke-linejoin="round"/>
<polyline points="43.1,404.5 43.4,402.2 43.7,400.8 44.0,399.7 44.3,397.8 44.6,395.7 44.9,394.7 45.2,393.1 45.5,391.5 45.8,390.8 46.1,388.5 46.5,387.3 46.8,385.9 47.1,385.2 47.4,383.9 47.7,382.6 48.0,381.1 48.3,380.1 48.6,378.9 48.9,377.3 49.2,376.4 49.5,376.1 49.8,375.1 50.1,373.3 50.4,373.1 50.7,371.6 51.0,370.6 51.3,370.5 51.6,369.6 51.9,368.6 52.2,368.2 52.6,367.4 52.9,366.5 53.2,365.3 53.5,365.1 53.8,364.3 54.1,363.7 54.4,363.4 54.7,361.8 55.0,362.5 55.3,361.3 55.6,360.3 55.9,360.4 56.2,359.2 56.5,358.4 56.8,358.6 57.1,357.8 57.4,357.7 57.7,356.7 58.0,356.4 58.4,355.9 58.7,355.0 59.0,354.9 59.3,354.2 59.6,354.0 59.9,354.3 60.2,353.4 60.5,353.0 60.8,353.3 61.1,352.0 61.4,352.0 61.7,351.6 62.0,351.7 62.3,351.1 62.6,350.7 62.9,350.6 63.2,350.2 63.5,350.7 63.8,349.2 64.1,349.8 64.5,349.9 64.8,349.2 65.1,348.9 65.4,348.2 65.7,348.5 66.0,347.9 66.3,348.1 66.6,346.8 66.9,347.1 67.2,346.4 67.5,347.3 67.8,346.5 68.1,346.9 68.4,346.2 68.7,346.0 69.0,346.6 69.3,346.2 69.6,346.1 69.9,346.1 70.2,345.6 70.5,345.6 70.9,345.6 71.2,344.9 71.5,344.6 71.8,345.1 72.1,344.8 72.4,344.4 72.7,344.4 73.0,344.4 73.3,343.8 73.6,343.7 73.9,343.6 74.2,343.8 74.5,343.0 74.8,343.0 75.1,343.6 75.4,343.4 75.7,342.9 76.0,343.5 76.3,343.0 76.7,343.0 77.0,343.2 77.3,342.9 77.6,343.3 77.9,342.9 78.2,343.3 78.5,341.8 78.8,342.0 79.1,342.0 79.4,342.3 79.7,342.0 80.0,341.9 80.3,342.1 80.6,342.2 80.9,342.9 81.2,342.6 81.5,343.0 81.8,343.3 82.1,343.3 82.4,342.9 82.8,342.7 83.1,343.6 83.4,342.6 83.7,342.8 84.0,343.5 84.3,343.6 84.6,343.6 84.9,343.3 85.2,343.8 85.5,344.2 85.8,343.7 86.1,344.6 86.4,343.9 86.7,343.7 87.0,344.0 87.3,344.0 87.6,344.1 87.9,344.1 88.2,344.4 88.5,344.8 88.8,344.7 89.2,344.7 89.5,344.3 89.8,344.2 90.1,344.7 90.4,345.2 90.7,345.3 91.0,345.1 91.3,344.7 91.6,345.1 91.9,345.3 92.2,345.6 92.5,345.1 92.8,345.4 93.1,345.6 93.4,345.6 93.7,345.1 94.0,345.8 94.3,345.2 94.6,345.5 95.0,345.9 95.3,345.7 95.6,346.1 95.9,346.4 96.2,346.3 96.5,346.6 96.8,346.2 97.1,346.4 97.4,346.3 97.7,346.2 98.0,347.7 98.3,346.6 98.6,347.3 98.9,346.7 99.2,347.1 99.5,346.9 99.8,346.5 100.1,347.6 100.4,347.0 100.7,347.2 101.0,347.9 101.4,347.1 101.7,347.3 102.0,347.6 102.3,347.7 102.6,346.4 102.9,347.7 103.2,348.3 103.5,348.0 103.8,347.9 104.1,347.9 104.4,347.9 104.7,348.3 105.0,347.8 105.3,348.2 105.6,348.6 105.9,348.4 106.2,348.3 106.5,348.0 106.8,348.2 107.2,348.5 107.5,348.4 107.8,348.4 108.1,347.9 108.4,348.8 108.7,348.5 109.0,348.5 109.3,349.1 109.6,348.8 109.9,348.8 110.2,349.1 110.5,348.8 110.8,348.7 111.1,348.7 111.4,349.2 111.7,349.1 112.0,348.5 112.3,349.7 112.6,349.3 112.9,349.1 113.2,349.4 113.6,349.3 113.9,349.5 114.2,349.4 114.5,349.2 114.8,349.8 115.1,349.7 115.4,349.8 115.7,350.0 116.0,349.9 116.3,350.4 116.6,349.8 116.9,349.5 117.2,349.5 117.5,349.7 117.8,350.5 118.1,349.7 118.4,350.6 118.7,350.4 119.0,349.8 119.3,350.8 119.7,350.2 120.0,350.5 120.3,350.7 120.6,350.9 120.9,350.6 121.2,350.9 121.5,350.4 121.8,350.4 122.1,351.4 122.4,351.1 122.7,351.1 123.0,351.4 123.3,351.4 123.6,351.1 123.9,351.2 124.2,351.8 124.5,351.4 124.8,351.1 125.1,351.7 125.4,351.7 125.8,350.9 126.1,351.0 126.4,352.1 126.7,352.0 127.0,351.5 127.3,352.0 127.6,351.8 127.9,351.9 128.2,351.6 128.5,352.7 128.8,352.6 129.1,352.3 129.4,351.6 129.7,352.0 130.0,352.6 130.3,351.9 130.6,351.9 130.9,352.2 131.2,352.3 131.6,352.1 131.9,351.9 132.2,352.3 132.5,352.2 132.8,352.4 133.1,352.6 133.4,352.8 133.7,352.4 134.0,352.7 134.3,352.7 134.6,352.3 134.9,352.5 135.2,352.4 135.5,353.3 135.8,352.6 136.1,353.0 136.4,353.1 136.7,353.2 137.0,352.5 137.3,352.7 137.7,353.3 138.0,353.4 138.3,353.1 138.6,353.3 138.9,352.6 139.2,353.7 139.5,353.9 139.8,353.4 140.1,353.3 140.4,353.3 140.7,353.1 141.0,352.7 141.3,353.6 141.6,353.7 141.9,354.1 142.2,353.5 142.5,353.3 142.8,353.7 143.1,353.3 143.4,353.7 143.8,353.2 144.1,353.7 144.4,354.2 144.7,354.1 145.0,354.4 145.3,354.5 145.6,353.9 145.9,353.7 146.2,353.3 146.5,354.1 146.8,354.2 147.1,354.5 147.4,353.8 147.7,354.0 148.0,354.4 148.3,354.0 148.6,354.1 148.9,354.9 149.2,354.1 149.5,354.3 149.8,354.5 150.2,354.6 150.5,353.9 150.8,354.0 151.1,353.9 151.4,355.0 151.7,354.8 152.0,354.3 152.3,355.1 152.6,354.9 152.9,355.3" fill="none" stroke="#ff1a1a" stroke-width="1.45" stroke-linejoin="round"/>
<polyline points="43.1,403.1 43.4,403.7 43.7,404.2 44.0,404.4 44.3,405.0 44.6,405.0 44.9,404.1 45.2,405.2 45.5,403.6 45.8,405.0 46.1,405.4 46.5,403.5 46.8,404.8 47.1,404.2 47.4,405.0 47.7,406.5 48.0,404.2 48.3,405.8 48.6,403.7 48.9,405.9 49.2,406.2 49.5,404.4 49.8,404.3 50.1,404.5 50.4,405.7 50.7,403.9 51.0,405.9 51.3,405.0 51.6,405.3 51.9,404.9 52.2,403.9 52.6,405.2 52.9,404.2 53.2,404.0 53.5,406.1 53.8,405.6 54.1,405.0 54.4,405.1 54.7,404.4 55.0,406.3 55.3,404.0 55.6,404.0 55.9,404.8 56.2,405.8 56.5,404.6 56.8,405.1 57.1,404.2 57.4,404.7 57.7,404.0 58.0,405.0 58.4,403.4 58.7,406.6 59.0,405.5 59.3,404.2 59.6,405.9 59.9,404.0 60.2,405.7 60.5,404.6 60.8,405.4 61.1,405.0 61.4,404.5 61.7,404.7 62.0,405.0 62.3,402.8 62.6,404.6 62.9,405.4 63.2,403.9 63.5,403.9 63.8,403.6 64.1,403.1 64.5,405.4 64.8,403.7 65.1,403.7 65.4,404.6 65.7,404.4 66.0,407.2 66.3,405.1 66.6,403.1 66.9,406.1 67.2,405.1 67.5,404.4 67.8,404.1 68.1,403.3 68.4,406.1 68.7,404.6 69.0,403.9 69.3,405.7 69.6,404.7 69.9,403.0 70.2,403.5 70.5,404.2 70.9,406.8 71.2,404.7 71.5,404.3 71.8,404.9 72.1,404.7 72.4,402.0 72.7,404.8 73.0,405.4 73.3,404.4 73.6,404.9 73.9,404.9 74.2,404.7 74.5,404.0 74.8,404.4 75.1,405.6 75.4,404.7 75.7,404.2 76.0,405.0 76.3,403.7 76.7,404.0 77.0,405.5 77.3,404.4 77.6,403.0 77.9,403.3 78.2,404.7 78.5,403.9 78.8,405.2 79.1,405.9 79.4,404.2 79.7,404.4 80.0,404.2 80.3,404.7 80.6,404.4 80.9,405.1 81.2,404.2 81.5,403.9 81.8,404.7 82.1,403.9 82.4,406.1 82.8,405.3 83.1,403.4 83.4,403.1 83.7,404.4 84.0,404.7 84.3,405.7 84.6,404.3 84.9,404.0 85.2,405.9 85.5,404.2 85.8,404.2 86.1,404.3 86.4,405.6 86.7,404.2 87.0,405.9 87.3,403.4 87.6,404.5 87.9,405.6 88.2,403.5 88.5,403.7 88.8,405.2 89.2,402.8 89.5,405.5 89.8,404.4 90.1,403.6 90.4,406.5 90.7,403.8 91.0,404.7 91.3,404.6 91.6,405.5 91.9,404.4 92.2,405.6 92.5,405.4 92.8,405.0 93.1,405.7 93.4,403.3 93.7,405.7 94.0,405.3 94.3,404.9 94.6,404.6 95.0,404.0 95.3,403.9 95.6,404.9 95.9,405.0 96.2,404.6 96.5,403.9 96.8,404.0 97.1,405.1 97.4,406.4 97.7,402.8 98.0,403.8 98.3,404.4 98.6,404.3 98.9,405.1 99.2,405.5 99.5,404.9 99.8,404.8 100.1,405.2 100.4,405.9 100.7,404.9 101.0,404.1 101.4,405.0 101.7,404.6 102.0,406.4 102.3,404.8 102.6,404.7 102.9,405.7 103.2,406.1 103.5,404.3 103.8,405.3 104.1,404.2 104.4,405.0 104.7,404.1 105.0,404.9 105.3,405.9 105.6,404.7 105.9,404.9 106.2,404.1 106.5,405.0 106.8,405.0 107.2,403.9 107.5,403.6 107.8,404.0 108.1,403.8 108.4,404.2 108.7,404.0 109.0,403.9 109.3,404.3 109.6,404.6 109.9,404.5 110.2,402.6 110.5,404.6 110.8,404.8 111.1,404.9 111.4,404.7 111.7,404.4 112.0,405.6 112.3,406.3 112.6,404.4 112.9,406.0 113.2,404.4 113.6,404.5 113.9,403.7 114.2,403.2 114.5,404.3 114.8,405.1 115.1,405.6 115.4,405.3 115.7,404.6 116.0,406.4 116.3,404.6 116.6,404.6 116.9,404.1 117.2,404.9 117.5,404.5 117.8,405.3 118.1,405.0 118.4,406.1 118.7,404.5 119.0,403.3 119.3,404.5 119.7,404.3 120.0,405.5 120.3,403.4 120.6,405.3 120.9,404.0 121.2,404.5 121.5,405.4 121.8,403.8 122.1,404.6 122.4,404.5 122.7,404.3 123.0,404.6 123.3,405.0 123.6,404.2 123.9,405.0 124.2,404.6 124.5,405.2 124.8,405.9 125.1,405.2 125.4,405.0 125.8,404.6 126.1,403.6 126.4,406.1 126.7,404.5 127.0,406.5 127.3,405.5 127.6,405.1 127.9,406.5 128.2,406.2 128.5,404.5 128.8,404.6 129.1,404.7 129.4,405.3 129.7,402.8 130.0,404.8 130.3,405.4 130.6,403.2 130.9,404.1 131.2,404.9 131.6,403.6 131.9,404.5 132.2,404.1 132.5,404.4 132.8,405.5 133.1,403.8 133.4,404.5 133.7,405.5 134.0,405.3 134.3,403.8 134.6,404.9 134.9,404.6 135.2,404.1 135.5,404.5 135.8,405.9 136.1,404.1 136.4,403.8 136.7,403.9 137.0,403.3 137.3,404.3 137.7,404.0 138.0,403.3 138.3,404.9 138.6,403.2 138.9,403.2 139.2,404.0 139.5,403.1 139.8,403.9 140.1,405.4 140.4,403.7 140.7,404.4 141.0,404.3 141.3,404.5 141.6,403.5 141.9,404.2 142.2,405.2 142.5,404.2 142.8,404.0 143.1,405.2 143.4,405.0 143.8,405.0 144.1,405.1 144.4,404.3 144.7,403.8 145.0,403.0 145.3,403.6 145.6,403.8 145.9,403.7 146.2,403.5 146.5,404.9 146.8,404.0 147.1,404.4 147.4,404.7 147.7,405.0 148.0,405.1 148.3,404.9 148.6,405.7 148.9,404.2 149.2,404.6 149.5,404.5 149.8,404.3 150.2,404.0 150.5,405.1 150.8,404.7 151.1,406.0 151.4,406.5 151.7,406.3 152.0,403.3 152.3,406.2 152.6,404.2 152.9,403.4" fill="none" stroke="#1a1aff" stroke-width="1.45" stroke-linejoin="round"/>
<line x1="226.60" y1="324.90" x2="226.60" y2="406.90" stroke="#222" stroke-width="1.0"/>
<line x1="226.10" y1="406.90" x2="348.60" y2="406.90" stroke="#444" stroke-width="1.1"/>
<line x1="222.90" y1="402.90" x2="226.60" y2="402.90" stroke="#222" stroke-width="0.9"/>
<text x="222.10" y="405.20" font-size="6.4" fill="#222" stroke="#222" stroke-width="0.12" text-anchor="end" font-weight="bold" textLength="11.75" lengthAdjust="spacingAndGlyphs">0.00</text>
<line x1="222.90" y1="383.47" x2="226.60" y2="383.47" stroke="#222" stroke-width="0.9"/>
<text x="222.10" y="385.77" font-size="6.4" fill="#222" stroke="#222" stroke-width="0.12" text-anchor="end" font-weight="bold" textLength="11.75" lengthAdjust="spacingAndGlyphs">0.05</text>
<line x1="222.90" y1="364.05" x2="226.60" y2="364.05" stroke="#222" stroke-width="0.9"/>
<text x="222.10" y="366.35" font-size="6.4" fill="#222" stroke="#222" stroke-width="0.12" text-anchor="end" font-weight="bold" textLength="11.75" lengthAdjust="spacingAndGlyphs">0.10</text>
<line x1="222.90" y1="344.62" x2="226.60" y2="344.62" stroke="#222" stroke-width="0.9"/>
<text x="222.10" y="346.93" font-size="6.4" fill="#222" stroke="#222" stroke-width="0.12" text-anchor="end" font-weight="bold" textLength="11.75" lengthAdjust="spacingAndGlyphs">0.15</text>
<line x1="222.90" y1="325.20" x2="226.60" y2="325.20" stroke="#222" stroke-width="0.9"/>
<text x="222.10" y="327.50" font-size="6.4" fill="#222" stroke="#222" stroke-width="0.12" text-anchor="end" font-weight="bold" textLength="11.75" lengthAdjust="spacingAndGlyphs">0.20</text>
<line x1="226.60" y1="406.90" x2="226.60" y2="409.90" stroke="#222" stroke-width="0.9"/>
<text x="226.60" y="417.50" font-size="6.2" fill="#222" stroke="#222" stroke-width="0.12" text-anchor="middle" font-weight="bold" textLength="3.30" lengthAdjust="spacingAndGlyphs">0</text>
<line x1="257.10" y1="406.90" x2="257.10" y2="409.90" stroke="#222" stroke-width="0.9"/>
<text x="257.10" y="417.50" font-size="6.2" fill="#222" stroke="#222" stroke-width="0.12" text-anchor="middle" font-weight="bold" textLength="9.90" lengthAdjust="spacingAndGlyphs">100</text>
<line x1="287.60" y1="406.90" x2="287.60" y2="409.90" stroke="#222" stroke-width="0.9"/>
<text x="287.60" y="417.50" font-size="6.2" fill="#222" stroke="#222" stroke-width="0.12" text-anchor="middle" font-weight="bold" textLength="9.90" lengthAdjust="spacingAndGlyphs">200</text>
<line x1="318.10" y1="406.90" x2="318.10" y2="409.90" stroke="#222" stroke-width="0.9"/>
<text x="318.10" y="417.50" font-size="6.2" fill="#222" stroke="#222" stroke-width="0.12" text-anchor="middle" font-weight="bold" textLength="9.90" lengthAdjust="spacingAndGlyphs">300</text>
<line x1="348.60" y1="406.90" x2="348.60" y2="409.90" stroke="#222" stroke-width="0.9"/>
<text x="348.60" y="417.50" font-size="6.2" fill="#222" stroke="#222" stroke-width="0.12" text-anchor="middle" font-weight="bold" textLength="9.90" lengthAdjust="spacingAndGlyphs">400</text>
<line x1="263.20" y1="325.20" x2="263.20" y2="406.90" stroke="#555" stroke-width="0.9" stroke-dasharray="1 1.4"/>
<line x1="299.80" y1="325.20" x2="299.80" y2="406.90" stroke="#555" stroke-width="0.9" stroke-dasharray="1 1.4"/>
<line x1="226.60" y1="402.90" x2="348.60" y2="402.90" stroke="#777" stroke-width="0.6" stroke-dasharray="0.8 1"/>
<text x="275.50" y="428.20" font-size="6.9" fill="#1a1a1a" stroke="#1a1a1a" stroke-width="0.12" font-weight="bold" textLength="24.30" lengthAdjust="spacingAndGlyphs">time [s]</text>
<text x="206.60" y="399.40" font-size="6.8" fill="#1a1a1a" stroke="#1a1a1a" stroke-width="0.12" font-weight="bold" textLength="65.00" lengthAdjust="spacingAndGlyphs" transform="rotate(-90 206.60 399.40)">layer thickness [nm]</text>
<text x="260.50" y="314.00" font-size="8.1" fill="#111" stroke="#111" stroke-width="0.1" font-weight="bold" textLength="55.70" lengthAdjust="spacingAndGlyphs">oa TIGITxCD16</text>
<text x="232.90" y="372.20" font-size="7.3" fill="#ff3b3b" stroke="#ff3b3b" stroke-width="0.25" textLength="22.00" lengthAdjust="spacingAndGlyphs">+B7-H3</text>
<text x="272.70" y="372.20" font-size="7.3" fill="#22bb22" stroke="#22bb22" stroke-width="0.25" textLength="17.60" lengthAdjust="spacingAndGlyphs">+TIGIT</text>
<text x="310.90" y="336.20" font-size="7.3" fill="#cc33dd" stroke="#cc33dd" stroke-width="0.25" textLength="18.80" lengthAdjust="spacingAndGlyphs">+CD16</text>
<text x="305.90" y="399.10" font-size="7.3" fill="#3d3dff" stroke="#3d3dff" stroke-width="0.25" textLength="35.10" lengthAdjust="spacingAndGlyphs">PBS control</text>
<polyline points="226.6,403.3 226.9,401.0 227.2,400.4 227.5,400.7 227.8,399.1 228.1,400.2 228.4,401.0 228.7,399.6 229.0,400.1 229.3,400.5 229.7,400.1 230.0,396.8 230.3,398.9 230.6,398.2 230.9,398.5 231.2,397.6 231.5,397.6 231.8,397.5 232.1,398.0 232.4,398.0 232.7,397.2 233.0,396.1 233.3,394.4 233.6,395.1 233.9,394.3 234.2,395.2 234.5,395.6 234.8,396.5 235.1,395.2 235.4,396.9 235.8,395.1 236.1,393.3 236.4,394.3 236.7,393.5 237.0,394.7 237.3,395.4 237.6,394.5 237.9,394.3 238.2,392.9 238.5,392.1 238.8,394.3 239.1,393.9 239.4,393.6 239.7,393.7 240.0,394.3 240.3,393.1 240.6,392.8 240.9,392.7 241.2,394.0 241.5,392.9 241.8,394.3 242.2,391.9 242.5,393.5 242.8,392.8 243.1,392.8 243.4,392.9 243.7,393.2 244.0,393.8 244.3,390.7 244.6,391.9 244.9,391.8 245.2,390.2 245.5,392.0 245.8,391.4 246.1,391.8 246.4,390.7 246.7,391.2 247.0,391.3 247.3,391.8 247.6,391.3 247.9,390.5 248.3,393.2 248.6,391.5 248.9,391.7 249.2,391.5 249.5,392.9 249.8,390.5 250.1,391.8 250.4,391.2 250.7,391.4 251.0,392.4 251.3,391.3 251.6,392.4 251.9,391.6 252.2,391.0 252.5,390.7 252.8,390.6 253.1,390.8 253.4,388.8 253.7,390.2 254.0,391.6 254.4,391.0 254.7,391.0 255.0,390.6 255.3,390.9 255.6,391.1 255.9,388.9 256.2,390.2 256.5,390.5 256.8,390.4 257.1,390.3 257.4,388.9 257.7,389.7 258.0,389.1 258.3,392.7 258.6,389.7 258.9,389.0 259.2,388.2 259.5,389.9 259.8,391.3 260.1,389.3 260.5,390.3 260.8,391.3 261.1,390.3 261.4,388.8 261.7,388.7 262.0,389.0 262.3,390.5 262.6,387.4 262.9,390.6 263.2,395.2 263.5,396.2 263.8,393.7 264.1,394.3 264.4,393.8 264.7,394.4 265.0,394.4 265.3,394.1 265.6,395.7 265.9,393.1 266.2,393.1 266.6,394.1 266.9,393.6 267.2,393.3 267.5,392.1 267.8,392.9 268.1,393.2 268.4,393.5 268.7,394.3 269.0,393.4 269.3,392.7 269.6,392.9 269.9,392.5 270.2,391.8 270.5,392.0 270.8,392.1 271.1,391.6 271.4,392.0 271.7,392.1 272.0,391.5 272.4,393.3 272.7,390.7 273.0,392.8 273.3,390.9 273.6,391.5 273.9,390.5 274.2,391.3 274.5,392.1 274.8,390.3 275.1,391.0 275.4,391.0 275.7,390.9 276.0,390.1 276.3,390.1 276.6,390.6 276.9,392.0 277.2,391.0 277.5,390.5 277.8,389.0 278.1,390.1 278.4,390.4 278.8,389.3 279.1,390.3 279.4,390.2 279.7,390.0 280.0,391.3 280.3,389.2 280.6,389.6 280.9,390.1 281.2,390.8 281.5,389.6 281.8,388.5 282.1,390.2 282.4,390.5 282.7,389.2 283.0,390.9 283.3,391.4 283.6,389.8 283.9,390.0 284.2,389.6 284.6,389.7 284.9,388.9 285.2,389.4 285.5,389.6 285.8,389.5 286.1,388.5 286.4,388.2 286.7,388.2 287.0,388.3 287.3,391.7 287.6,389.7 287.9,389.1 288.2,388.6 288.5,390.1 288.8,387.5 289.1,388.4 289.4,389.1 289.7,388.4 290.0,388.8 290.3,389.1 290.6,388.0 291.0,388.8 291.3,389.6 291.6,388.9 291.9,388.4 292.2,389.2 292.5,387.2 292.8,389.2 293.1,386.7 293.4,387.4 293.7,388.9 294.0,388.0 294.3,387.1 294.6,388.2 294.9,389.0 295.2,387.9 295.5,386.3 295.8,389.2 296.1,387.4 296.4,387.9 296.8,388.0 297.1,388.2 297.4,388.1 297.7,386.9 298.0,387.2 298.3,388.6 298.6,386.4 298.9,388.8 299.2,387.1 299.5,387.5 299.8,386.3 300.1,380.7 300.4,374.7 300.7,370.9 301.0,366.1 301.3,363.1 301.6,358.6 301.9,358.5 302.2,354.7 302.5,353.4 302.9,352.1 303.2,351.3 303.5,349.2 303.8,349.9 304.1,348.9 304.4,346.4 304.7,347.7 305.0,344.5 305.3,345.5 305.6,344.7 305.9,344.5 306.2,343.9 306.5,344.3 306.8,344.1 307.1,343.7 307.4,342.6 307.7,342.4 308.0,342.2 308.3,342.8 308.6,343.3 308.9,344.5 309.3,342.4 309.6,342.2 309.9,343.3 310.2,342.2 310.5,341.8 310.8,342.8 311.1,342.0 311.4,342.6 311.7,344.3 312.0,343.3 312.3,343.2 312.6,342.4 312.9,343.6 313.2,343.3 313.5,343.7 313.8,343.0 314.1,342.9 314.4,342.1 314.7,342.3 315.1,342.9 315.4,342.8 315.7,342.9 316.0,343.0 316.3,341.8 316.6,345.2 316.9,343.3 317.2,342.9 317.5,342.2 317.8,344.1 318.1,342.9 318.4,342.5 318.7,343.6 319.0,344.9 319.3,343.6 319.6,344.3 319.9,342.8 320.2,344.1 320.5,341.9 320.8,343.3 321.1,344.1 321.5,343.9 321.8,344.4 322.1,343.2 322.4,342.2 322.7,343.7 323.0,342.8 323.3,344.4 323.6,343.3 323.9,341.7 324.2,344.9 324.5,342.6 324.8,342.7 325.1,345.3 325.4,345.0 325.7,344.6 326.0,343.0 326.3,344.2 326.6,344.0 326.9,343.3 327.2,343.8 327.6,343.7 327.9,344.2 328.2,343.0 328.5,344.6 328.8,342.6 329.1,344.3 329.4,344.7 329.7,343.5 330.0,343.7 330.3,345.8 330.6,343.9 330.9,345.3 331.2,344.9 331.5,343.5 331.8,345.0 332.1,343.9 332.4,344.6 332.7,342.6 333.0,344.4 333.4,345.3 333.7,345.3 334.0,345.2 334.3,344.3 334.6,344.4 334.9,343.6 335.2,344.3 335.5,344.4 335.8,344.2 336.1,344.7 336.4,344.3" fill="none" stroke="#cc33ee" stroke-width="1.6" stroke-linejoin="round"/>
<polyline points="226.6,402.2 226.9,401.5 227.2,401.9 227.5,402.3 227.8,400.9 228.1,399.4 228.4,401.2 228.7,399.0 229.0,397.7 229.3,398.1 229.7,398.1 230.0,395.3 230.3,395.2 230.6,396.2 230.9,394.5 231.2,394.2 231.5,396.0 231.8,392.4 232.1,395.2 232.4,394.4 232.7,394.8 233.0,393.6 233.3,394.5 233.6,393.2 233.9,392.0 234.2,392.6 234.5,392.8 234.8,391.0 235.1,392.9 235.4,391.2 235.8,392.1 236.1,391.5 236.4,391.5 236.7,391.3 237.0,391.3 237.3,391.7 237.6,391.4 237.9,390.4 238.2,390.8 238.5,391.6 238.8,391.1 239.1,390.9 239.4,390.3 239.7,390.0 240.0,389.9 240.3,390.5 240.6,389.8 240.9,390.9 241.2,392.1 241.5,389.6 241.8,390.9 242.2,390.2 242.5,390.3 242.8,388.7 243.1,390.2 243.4,388.8 243.7,389.4 244.0,390.0 244.3,390.2 244.6,388.4 244.9,388.4 245.2,388.0 245.5,387.0 245.8,388.3 246.1,388.2 246.4,388.5 246.7,388.2 247.0,388.6 247.3,389.0 247.6,386.4 247.9,389.7 248.3,387.8 248.6,387.6 248.9,387.8 249.2,388.7 249.5,388.0 249.8,388.2 250.1,388.6 250.4,387.7 250.7,388.0 251.0,388.1 251.3,387.0 251.6,388.4 251.9,387.1 252.2,387.9 252.5,387.0 252.8,387.3 253.1,387.1 253.4,388.1 253.7,387.9 254.0,387.9 254.4,387.0 254.7,386.5 255.0,386.1 255.3,387.5 255.6,386.9 255.9,388.3 256.2,388.8 256.5,387.6 256.8,387.4 257.1,388.1 257.4,388.3 257.7,386.3 258.0,387.4 258.3,388.1 258.6,384.7 258.9,386.5 259.2,386.9 259.5,386.0 259.8,387.2 260.1,385.2 260.5,387.8 260.8,387.6 261.1,386.6 261.4,387.1 261.7,385.2 262.0,387.7 262.3,387.0 262.6,386.1 262.9,385.8 263.2,390.4 263.5,390.9 263.8,389.2 264.1,391.3 264.4,390.7 264.7,390.0 265.0,390.9 265.3,390.7 265.6,390.8 265.9,390.8 266.2,391.1 266.6,390.5 266.9,391.3 267.2,389.5 267.5,391.1 267.8,387.9 268.1,388.1 268.4,388.5 268.7,389.6 269.0,389.8 269.3,388.2 269.6,389.0 269.9,388.6 270.2,389.6 270.5,387.9 270.8,389.4 271.1,388.6 271.4,390.1 271.7,389.1 272.0,388.0 272.4,388.7 272.7,388.6 273.0,387.5 273.3,388.2 273.6,387.0 273.9,390.0 274.2,387.4 274.5,387.4 274.8,389.0 275.1,388.8 275.4,386.8 275.7,388.4 276.0,388.0 276.3,386.9 276.6,387.6 276.9,386.8 277.2,387.9 277.5,386.9 277.8,386.1 278.1,386.7 278.4,388.8 278.8,386.3 279.1,386.7 279.4,387.5 279.7,385.5 280.0,388.1 280.3,384.9 280.6,387.0 280.9,385.1 281.2,386.4 281.5,387.4 281.8,386.2 282.1,385.9 282.4,385.7 282.7,385.2 283.0,386.8 283.3,385.6 283.6,385.3 283.9,386.1 284.2,386.6 284.6,386.6 284.9,385.1 285.2,385.0 285.5,386.3 285.8,386.7 286.1,384.5 286.4,386.8 286.7,385.3 287.0,386.1 287.3,386.8 287.6,385.2 287.9,385.4 288.2,384.0 288.5,383.2 288.8,385.3 289.1,384.2 289.4,384.2 289.7,385.4 290.0,385.7 290.3,383.5 290.6,385.2 291.0,384.9 291.3,385.0 291.6,384.9 291.9,385.2 292.2,384.0 292.5,383.6 292.8,384.9 293.1,385.8 293.4,384.5 293.7,385.8 294.0,385.0 294.3,383.4 294.6,382.4 294.9,384.0 295.2,385.2 295.5,383.6 295.8,386.2 296.1,384.8 296.4,382.9 296.8,383.5 297.1,385.3 297.4,385.5 297.7,383.4 298.0,384.1 298.3,384.5 298.6,383.6 298.9,384.5 299.2,385.6 299.5,383.2 299.8,384.5 300.1,383.6 300.4,383.0 300.7,381.0 301.0,381.5 301.3,379.9 301.6,380.5 301.9,379.2 302.2,380.3 302.5,380.4 302.9,381.5 303.2,380.7 303.5,379.2 303.8,377.2 304.1,380.9 304.4,380.7 304.7,379.6 305.0,379.5 305.3,380.5 305.6,379.9 305.9,381.3 306.2,380.3 306.5,379.3 306.8,378.7 307.1,380.2 307.4,380.4 307.7,379.8 308.0,379.3 308.3,379.8 308.6,380.9 308.9,380.0 309.3,379.5 309.6,381.0 309.9,381.6 310.2,380.0 310.5,380.2 310.8,379.7 311.1,380.5 311.4,381.1 311.7,381.0 312.0,381.5 312.3,381.5 312.6,381.2 312.9,381.2 313.2,379.9 313.5,381.9 313.8,380.9 314.1,381.4 314.4,379.7 314.7,380.8 315.1,381.3 315.4,380.4 315.7,381.0 316.0,381.5 316.3,379.9 316.6,380.6 316.9,379.8 317.2,380.3 317.5,380.6 317.8,381.2 318.1,382.3 318.4,380.8 318.7,381.4 319.0,380.9 319.3,381.5 319.6,382.1 319.9,382.4 320.2,381.0 320.5,380.6 320.8,381.9 321.1,381.3 321.5,380.6 321.8,382.5 322.1,382.1 322.4,382.8 322.7,380.9 323.0,381.7 323.3,382.4 323.6,383.4 323.9,382.2 324.2,381.2 324.5,382.4 324.8,382.5 325.1,381.6 325.4,383.3 325.7,382.2 326.0,381.8 326.3,383.0 326.6,383.1 326.9,382.2 327.2,382.5 327.6,382.7 327.9,382.3 328.2,382.4 328.5,383.4 328.8,383.2 329.1,382.3 329.4,381.7 329.7,381.6 330.0,383.5 330.3,381.9 330.6,382.2 330.9,382.9 331.2,382.5 331.5,382.2 331.8,381.5 332.1,383.9 332.4,382.5 332.7,383.2 333.0,383.3 333.4,382.2 333.7,382.5 334.0,384.1 334.3,383.5 334.6,383.1 334.9,384.5 335.2,382.6 335.5,383.5 335.8,383.3 336.1,383.2 336.4,382.0" fill="none" stroke="#1ccc1c" stroke-width="1.6" stroke-linejoin="round"/>
<polyline points="226.6,402.9 226.9,402.2 227.2,399.4 227.5,400.4 227.8,399.5 228.1,399.4 228.4,396.6 228.7,396.6 229.0,395.7 229.3,395.4 229.7,395.1 230.0,395.1 230.3,394.6 230.6,393.1 230.9,392.9 231.2,391.2 231.5,392.8 231.8,392.2 232.1,392.3 232.4,389.9 232.7,391.8 233.0,389.8 233.3,389.0 233.6,390.1 233.9,389.1 234.2,391.3 234.5,389.6 234.8,390.4 235.1,388.7 235.4,388.6 235.8,389.1 236.1,387.5 236.4,387.8 236.7,388.4 237.0,388.2 237.3,388.9 237.6,387.7 237.9,385.6 238.2,387.8 238.5,386.8 238.8,387.5 239.1,386.2 239.4,386.4 239.7,386.8 240.0,388.0 240.3,386.9 240.6,385.3 240.9,386.5 241.2,385.6 241.5,386.5 241.8,387.6 242.2,385.5 242.5,385.5 242.8,386.2 243.1,386.0 243.4,385.3 243.7,386.0 244.0,385.1 244.3,385.5 244.6,387.3 244.9,385.3 245.2,385.7 245.5,385.8 245.8,384.7 246.1,385.4 246.4,384.4 246.7,383.9 247.0,384.7 247.3,386.0 247.6,385.3 247.9,383.8 248.3,384.8 248.6,385.2 248.9,384.5 249.2,384.0 249.5,384.1 249.8,383.8 250.1,384.9 250.4,384.4 250.7,384.4 251.0,384.1 251.3,385.8 251.6,384.2 251.9,385.1 252.2,382.8 252.5,382.6 252.8,382.4 253.1,383.1 253.4,384.2 253.7,382.9 254.0,383.9 254.4,383.1 254.7,384.4 255.0,384.1 255.3,383.1 255.6,382.0 255.9,383.5 256.2,381.5 256.5,381.1 256.8,384.4 257.1,383.4 257.4,384.1 257.7,383.4 258.0,383.7 258.3,383.3 258.6,382.4 258.9,382.3 259.2,382.9 259.5,383.1 259.8,383.0 260.1,382.9 260.5,382.5 260.8,383.0 261.1,382.5 261.4,384.0 261.7,382.2 262.0,381.4 262.3,382.7 262.6,384.0 262.9,381.6 263.2,383.8 263.5,386.9 263.8,385.3 264.1,385.1 264.4,385.7 264.7,385.3 265.0,386.1 265.3,386.6 265.6,388.6 265.9,387.9 266.2,386.9 266.6,386.6 266.9,388.1 267.2,387.8 267.5,386.9 267.8,389.0 268.1,389.0 268.4,387.6 268.7,387.3 269.0,387.9 269.3,389.5 269.6,387.5 269.9,388.7 270.2,387.1 270.5,387.7 270.8,387.4 271.1,387.1 271.4,388.2 271.7,387.0 272.0,386.7 272.4,387.5 272.7,386.7 273.0,388.4 273.3,387.1 273.6,387.7 273.9,388.8 274.2,388.0 274.5,388.4 274.8,388.5 275.1,387.9 275.4,387.1 275.7,388.3 276.0,388.0 276.3,389.4 276.6,388.1 276.9,387.2 277.2,387.5 277.5,387.8 277.8,388.7 278.1,389.1 278.4,388.4 278.8,389.4 279.1,389.4 279.4,387.6 279.7,389.2 280.0,386.9 280.3,389.6 280.6,388.1 280.9,389.5 281.2,388.4 281.5,389.4 281.8,388.5 282.1,388.7 282.4,389.0 282.7,388.2 283.0,387.4 283.3,389.2 283.6,387.9 283.9,388.6 284.2,388.8 284.6,386.9 284.9,390.6 285.2,389.4 285.5,390.4 285.8,389.1 286.1,389.1 286.4,385.7 286.7,388.6 287.0,387.4 287.3,387.9 287.6,389.3 287.9,388.6 288.2,387.6 288.5,388.9 288.8,388.9 289.1,388.7 289.4,390.4 289.7,389.8 290.0,388.9 290.3,388.7 290.6,390.0 291.0,389.5 291.3,389.3 291.6,389.4 291.9,388.7 292.2,389.2 292.5,389.2 292.8,390.5 293.1,390.2 293.4,389.1 293.7,390.7 294.0,389.2 294.3,390.0 294.6,390.1 294.9,388.9 295.2,390.1 295.5,390.2 295.8,390.1 296.1,389.5 296.4,387.2 296.8,391.4 297.1,389.6 297.4,389.8 297.7,388.8 298.0,390.0 298.3,391.8 298.6,388.6 298.9,390.7 299.2,389.8 299.5,390.9 299.8,390.7 300.1,390.2 300.4,389.1 300.7,389.1 301.0,390.4 301.3,389.5 301.6,390.2 301.9,389.8 302.2,389.8 302.5,389.4 302.9,390.5 303.2,390.1 303.5,389.8 303.8,390.0 304.1,390.7 304.4,388.6 304.7,390.5 305.0,389.5 305.3,389.9 305.6,389.1 305.9,392.0 306.2,388.4 306.5,390.4 306.8,391.3 307.1,390.1 307.4,388.3 307.7,389.8 308.0,391.3 308.3,390.7 308.6,389.2 308.9,391.5 309.3,390.5 309.6,390.6 309.9,388.5 310.2,390.6 310.5,389.3 310.8,391.0 311.1,391.1 311.4,389.6 311.7,390.0 312.0,392.0 312.3,390.0 312.6,390.0 312.9,391.1 313.2,390.4 313.5,390.3 313.8,391.0 314.1,391.1 314.4,391.2 314.7,390.9 315.1,391.8 315.4,390.7 315.7,392.0 316.0,390.6 316.3,390.8 316.6,391.6 316.9,390.0 317.2,389.1 317.5,389.7 317.8,392.0 318.1,389.7 318.4,390.6 318.7,390.9 319.0,391.4 319.3,390.9 319.6,389.7 319.9,390.4 320.2,391.3 320.5,391.5 320.8,391.3 321.1,390.5 321.5,389.4 321.8,391.9 322.1,391.0 322.4,391.3 322.7,391.7 323.0,390.7 323.3,390.6 323.6,392.3 323.9,392.0 324.2,390.1 324.5,390.9 324.8,390.7 325.1,391.6 325.4,391.5 325.7,390.8 326.0,391.6 326.3,392.1 326.6,391.2 326.9,390.5 327.2,392.1 327.6,390.4 327.9,390.7 328.2,392.0 328.5,391.3 328.8,391.4 329.1,390.8 329.4,390.8 329.7,392.5 330.0,392.5 330.3,390.5 330.6,391.3 330.9,391.1 331.2,391.1 331.5,390.1 331.8,392.5 332.1,390.5 332.4,392.2 332.7,390.9 333.0,390.4 333.4,392.7 333.7,391.2 334.0,391.8 334.3,391.8 334.6,391.5 334.9,392.5 335.2,392.4 335.5,391.0 335.8,390.9 336.1,392.1 336.4,392.9" fill="none" stroke="#ff1a1a" stroke-width="1.6" stroke-linejoin="round"/>
<polyline points="226.6,400.2 226.9,401.2 227.2,401.9 227.5,403.0 227.8,402.7 228.1,402.0 228.4,403.0 228.7,400.8 229.0,402.1 229.3,401.9 229.7,403.1 230.0,403.0 230.3,402.9 230.6,402.0 230.9,402.4 231.2,402.5 231.5,402.0 231.8,402.0 232.1,401.0 232.4,402.4 232.7,403.1 233.0,402.3 233.3,401.0 233.6,402.7 233.9,402.2 234.2,402.6 234.5,401.9 234.8,402.1 235.1,403.0 235.4,402.5 235.8,401.5 236.1,401.4 236.4,401.5 236.7,401.6 237.0,402.6 237.3,402.6 237.6,401.5 237.9,403.3 238.2,402.4 238.5,403.9 238.8,402.6 239.1,402.9 239.4,403.3 239.7,401.9 240.0,403.0 240.3,402.7 240.6,402.6 240.9,403.0 241.2,401.2 241.5,402.8 241.8,402.2 242.2,403.5 242.5,402.8 242.8,402.7 243.1,402.6 243.4,402.9 243.7,402.3 244.0,401.1 244.3,402.5 244.6,402.5 244.9,402.7 245.2,400.3 245.5,401.1 245.8,402.0 246.1,401.8 246.4,403.0 246.7,402.6 247.0,402.3 247.3,402.3 247.6,403.2 247.9,403.1 248.3,402.0 248.6,402.2 248.9,404.2 249.2,402.4 249.5,401.4 249.8,403.0 250.1,402.3 250.4,403.7 250.7,401.8 251.0,403.4 251.3,403.5 251.6,402.8 251.9,400.5 252.2,403.0 252.5,403.6 252.8,402.1 253.1,402.3 253.4,401.1 253.7,403.6 254.0,403.9 254.4,402.8 254.7,402.2 255.0,402.3 255.3,401.6 255.6,403.8 255.9,403.3 256.2,402.7 256.5,401.9 256.8,402.2 257.1,402.9 257.4,403.4 257.7,401.8 258.0,401.8 258.3,400.3 258.6,402.8 258.9,401.2 259.2,403.6 259.5,403.1 259.8,403.2 260.1,403.0 260.5,403.4 260.8,403.1 261.1,402.7 261.4,403.0 261.7,402.1 262.0,402.7 262.3,402.7 262.6,401.4 262.9,402.4 263.2,402.5 263.5,402.7 263.8,402.6 264.1,402.2 264.4,403.4 264.7,401.7 265.0,401.4 265.3,401.7 265.6,403.1 265.9,404.0 266.2,403.1 266.6,402.6 266.9,402.0 267.2,402.9 267.5,403.0 267.8,401.5 268.1,403.3 268.4,401.8 268.7,402.0 269.0,403.9 269.3,402.5 269.6,403.2 269.9,403.6 270.2,404.3 270.5,404.1 270.8,402.4 271.1,403.1 271.4,402.6 271.7,403.7 272.0,403.1 272.4,403.0 272.7,404.1 273.0,404.2 273.3,402.4 273.6,402.7 273.9,403.6 274.2,402.9 274.5,402.3 274.8,401.3 275.1,403.6 275.4,402.3 275.7,401.1 276.0,402.8 276.3,401.6 276.6,405.0 276.9,401.6 277.2,402.9 277.5,404.4 277.8,402.2 278.1,402.0 278.4,401.9 278.8,401.9 279.1,402.9 279.4,403.5 279.7,403.3 280.0,402.9 280.3,402.6 280.6,403.3 280.9,402.9 281.2,402.2 281.5,402.7 281.8,401.0 282.1,401.1 282.4,403.9 282.7,403.4 283.0,404.0 283.3,403.9 283.6,402.5 283.9,403.8 284.2,403.8 284.6,403.2 284.9,402.3 285.2,403.3 285.5,403.3 285.8,402.2 286.1,402.6 286.4,402.6 286.7,402.2 287.0,403.9 287.3,402.8 287.6,403.5 287.9,402.2 288.2,402.3 288.5,403.9 288.8,401.9 289.1,404.0 289.4,402.1 289.7,402.9 290.0,403.8 290.3,404.0 290.6,403.3 291.0,403.1 291.3,403.7 291.6,402.6 291.9,404.2 292.2,403.1 292.5,403.1 292.8,404.7 293.1,402.8 293.4,404.2 293.7,405.2 294.0,403.6 294.3,403.3 294.6,402.4 294.9,403.5 295.2,401.9 295.5,401.9 295.8,402.2 296.1,402.0 296.4,402.8 296.8,403.6 297.1,402.6 297.4,402.3 297.7,403.0 298.0,403.4 298.3,404.5 298.6,402.6 298.9,402.9 299.2,404.3 299.5,403.1 299.8,402.6 300.1,403.3 300.4,402.5 300.7,402.6 301.0,404.4 301.3,403.5 301.6,402.8 301.9,402.4 302.2,402.0 302.5,404.8 302.9,403.3 303.2,402.6 303.5,402.2 303.8,401.8 304.1,404.0 304.4,403.6 304.7,404.1 305.0,402.6 305.3,404.4 305.6,402.3 305.9,402.5 306.2,402.9 306.5,405.1 306.8,403.9 307.1,402.7 307.4,404.5 307.7,403.5 308.0,403.4 308.3,402.6 308.6,403.1 308.9,403.1 309.3,403.7 309.6,403.3 309.9,403.4 310.2,402.7 310.5,403.5 310.8,402.5 311.1,404.8 311.4,402.3 311.7,403.5 312.0,402.4 312.3,403.3 312.6,402.6 312.9,402.1 313.2,403.8 313.5,403.3 313.8,403.5 314.1,403.2 314.4,404.8 314.7,403.5 315.1,403.6 315.4,404.1 315.7,403.6 316.0,404.7 316.3,402.2 316.6,403.0 316.9,401.8 317.2,404.2 317.5,404.4 317.8,403.2 318.1,404.9 318.4,403.3 318.7,404.0 319.0,403.7 319.3,403.2 319.6,403.4 319.9,401.9 320.2,402.9 320.5,404.6 320.8,402.7 321.1,404.6 321.5,403.4 321.8,404.6 322.1,404.2 322.4,402.4 322.7,404.0 323.0,404.1 323.3,404.0 323.6,403.8 323.9,402.3 324.2,404.5 324.5,404.6 324.8,403.1 325.1,404.9 325.4,403.9 325.7,402.6 326.0,403.6 326.3,404.0 326.6,404.2 326.9,404.4 327.2,404.1 327.6,403.5 327.9,402.5 328.2,402.8 328.5,404.1 328.8,404.2 329.1,403.0 329.4,405.1 329.7,404.0 330.0,403.9 330.3,404.6 330.6,404.5 330.9,403.3 331.2,405.0 331.5,404.4 331.8,404.2 332.1,403.6 332.4,404.8 332.7,402.8 333.0,403.9 333.4,403.9 333.7,404.0 334.0,404.3 334.3,404.5 334.6,402.7 334.9,403.5 335.2,403.8 335.5,402.9 335.8,404.3 336.1,403.2 336.4,403.7" fill="none" stroke="#1a1aff" stroke-width="1.6" stroke-linejoin="round"/>
<line x1="403.50" y1="325.20" x2="403.50" y2="406.60" stroke="#222" stroke-width="1.0"/>
<line x1="403.00" y1="406.60" x2="525.50" y2="406.60" stroke="#444" stroke-width="1.1"/>
<line x1="399.80" y1="404.40" x2="403.50" y2="404.40" stroke="#222" stroke-width="0.9"/>
<text x="399.00" y="406.70" font-size="6.4" fill="#222" stroke="#222" stroke-width="0.12" text-anchor="end" font-weight="bold" textLength="8.40" lengthAdjust="spacingAndGlyphs">0.0</text>
<line x1="399.80" y1="378.10" x2="403.50" y2="378.10" stroke="#222" stroke-width="0.9"/>
<text x="399.00" y="380.40" font-size="6.4" fill="#222" stroke="#222" stroke-width="0.12" text-anchor="end" font-weight="bold" textLength="8.40" lengthAdjust="spacingAndGlyphs">0.1</text>
<line x1="399.80" y1="351.80" x2="403.50" y2="351.80" stroke="#222" stroke-width="0.9"/>
<text x="399.00" y="354.10" font-size="6.4" fill="#222" stroke="#222" stroke-width="0.12" text-anchor="end" font-weight="bold" textLength="8.40" lengthAdjust="spacingAndGlyphs">0.2</text>
<line x1="399.80" y1="325.50" x2="403.50" y2="325.50" stroke="#222" stroke-width="0.9"/>
<text x="399.00" y="327.80" font-size="6.4" fill="#222" stroke="#222" stroke-width="0.12" text-anchor="end" font-weight="bold" textLength="8.40" lengthAdjust="spacingAndGlyphs">0.3</text>
<line x1="403.50" y1="406.60" x2="403.50" y2="409.60" stroke="#222" stroke-width="0.9"/>
<text x="403.50" y="417.20" font-size="6.2" fill="#222" stroke="#222" stroke-width="0.12" text-anchor="middle" font-weight="bold" textLength="3.30" lengthAdjust="spacingAndGlyphs">0</text>
<line x1="434.00" y1="406.60" x2="434.00" y2="409.60" stroke="#222" stroke-width="0.9"/>
<text x="434.00" y="417.20" font-size="6.2" fill="#222" stroke="#222" stroke-width="0.12" text-anchor="middle" font-weight="bold" textLength="9.90" lengthAdjust="spacingAndGlyphs">100</text>
<line x1="464.50" y1="406.60" x2="464.50" y2="409.60" stroke="#222" stroke-width="0.9"/>
<text x="464.50" y="417.20" font-size="6.2" fill="#222" stroke="#222" stroke-width="0.12" text-anchor="middle" font-weight="bold" textLength="9.90" lengthAdjust="spacingAndGlyphs">200</text>
<line x1="495.00" y1="406.60" x2="495.00" y2="409.60" stroke="#222" stroke-width="0.9"/>
<text x="495.00" y="417.20" font-size="6.2" fill="#222" stroke="#222" stroke-width="0.12" text-anchor="middle" font-weight="bold" textLength="9.90" lengthAdjust="spacingAndGlyphs">300</text>
<line x1="525.50" y1="406.60" x2="525.50" y2="409.60" stroke="#222" stroke-width="0.9"/>
<text x="525.50" y="417.20" font-size="6.2" fill="#222" stroke="#222" stroke-width="0.12" text-anchor="middle" font-weight="bold" textLength="9.90" lengthAdjust="spacingAndGlyphs">400</text>
<line x1="440.10" y1="325.50" x2="440.10" y2="406.60" stroke="#555" stroke-width="0.9" stroke-dasharray="1 1.4"/>
<line x1="476.70" y1="325.50" x2="476.70" y2="406.60" stroke="#555" stroke-width="0.9" stroke-dasharray="1 1.4"/>
<text x="452.40" y="427.90" font-size="6.9" fill="#1a1a1a" stroke="#1a1a1a" stroke-width="0.12" font-weight="bold" textLength="24.30" lengthAdjust="spacingAndGlyphs">time [s]</text>
<text x="386.40" y="399.10" font-size="6.8" fill="#1a1a1a" stroke="#1a1a1a" stroke-width="0.12" font-weight="bold" textLength="65.00" lengthAdjust="spacingAndGlyphs" transform="rotate(-90 386.40 399.10)">layer thickness [nm]</text>
<text x="423.90" y="314.00" font-size="8.1" fill="#111" stroke="#111" stroke-width="0.1" font-weight="bold" textLength="81.70" lengthAdjust="spacingAndGlyphs">B7-H3xTIGIT Fc comp</text>
<text x="410.30" y="344.20" font-size="7.3" fill="#ff3b3b" stroke="#ff3b3b" stroke-width="0.25" textLength="22.00" lengthAdjust="spacingAndGlyphs">+B7-H3</text>
<text x="448.90" y="336.20" font-size="7.3" fill="#22bb22" stroke="#22bb22" stroke-width="0.25" textLength="17.60" lengthAdjust="spacingAndGlyphs">+TIGIT</text>
<text x="486.70" y="328.60" font-size="7.3" fill="#cc33dd" stroke="#cc33dd" stroke-width="0.25" textLength="18.80" lengthAdjust="spacingAndGlyphs">+CD16</text>
<text x="480.90" y="394.20" font-size="7.3" fill="#3d3dff" stroke="#3d3dff" stroke-width="0.25" textLength="35.10" lengthAdjust="spacingAndGlyphs">PBS control</text>
<polyline points="403.5,404.7 403.8,402.5 404.1,401.7 404.4,399.4 404.7,398.4 405.0,396.5 405.3,394.8 405.6,393.7 405.9,392.7 406.2,391.2 406.6,390.1 406.9,389.1 407.2,387.9 407.5,386.4 407.8,385.1 408.1,384.8 408.4,383.2 408.7,382.0 409.0,381.1 409.3,380.5 409.6,378.9 409.9,378.8 410.2,377.3 410.5,376.1 410.8,376.5 411.1,374.9 411.4,374.1 411.7,373.4 412.0,373.0 412.3,372.1 412.6,371.8 413.0,370.6 413.3,369.8 413.6,369.6 413.9,369.1 414.2,368.3 414.5,367.6 414.8,367.0 415.1,366.5 415.4,366.0 415.7,365.9 416.0,365.9 416.3,364.3 416.6,363.5 416.9,364.0 417.2,363.4 417.5,362.6 417.8,362.0 418.1,361.7 418.4,361.1 418.8,361.1 419.1,360.6 419.4,360.3 419.7,360.2 420.0,359.3 420.3,359.2 420.6,358.7 420.9,358.9 421.2,358.1 421.5,358.5 421.8,357.8 422.1,358.5 422.4,357.7 422.7,356.9 423.0,357.0 423.3,356.6 423.6,356.9 423.9,355.6 424.2,355.7 424.5,355.7 424.9,355.4 425.2,355.2 425.5,354.6 425.8,354.8 426.1,355.2 426.4,354.6 426.7,354.0 427.0,354.0 427.3,354.2 427.6,353.7 427.9,353.7 428.2,353.4 428.5,354.0 428.8,353.6 429.1,352.9 429.4,353.1 429.7,352.8 430.0,352.1 430.3,352.8 430.6,352.5 430.9,352.6 431.3,352.5 431.6,352.2 431.9,352.6 432.2,352.7 432.5,351.4 432.8,351.8 433.1,351.3 433.4,351.6 433.7,351.5 434.0,351.2 434.3,351.1 434.6,351.7 434.9,350.8 435.2,351.5 435.5,351.0 435.8,350.1 436.1,350.9 436.4,350.3 436.7,350.9 437.1,350.5 437.4,350.7 437.7,350.5 438.0,350.8 438.3,350.8 438.6,350.3 438.9,350.9 439.2,350.6 439.5,350.1 439.8,350.5 440.1,350.5 440.4,350.5 440.7,350.0 441.0,350.1 441.3,349.9 441.6,349.9 441.9,349.2 442.2,349.9 442.5,350.3 442.8,349.6 443.1,349.6 443.5,349.5 443.8,350.0 444.1,349.0 444.4,349.3 444.7,349.3 445.0,349.8 445.3,349.0 445.6,349.1 445.9,348.6 446.2,349.1 446.5,349.4 446.8,348.9 447.1,349.2 447.4,348.7 447.7,349.1 448.0,348.8 448.3,348.7 448.6,348.6 448.9,348.7 449.2,348.8 449.6,348.5 449.9,348.6 450.2,348.3 450.5,348.4 450.8,349.0 451.1,348.3 451.4,347.8 451.7,348.1 452.0,347.9 452.3,347.9 452.6,348.2 452.9,348.5 453.2,347.7 453.5,347.6 453.8,347.7 454.1,347.7 454.4,347.7 454.7,347.8 455.0,347.7 455.4,347.7 455.7,347.6 456.0,348.0 456.3,347.8 456.6,347.4 456.9,347.7 457.2,348.3 457.5,347.4 457.8,348.2 458.1,346.8 458.4,347.1 458.7,347.1 459.0,347.5 459.3,347.7 459.6,347.3 459.9,347.2 460.2,347.5 460.5,347.1 460.8,346.9 461.1,346.9 461.4,347.4 461.8,347.8 462.1,347.0 462.4,347.2 462.7,346.8 463.0,346.4 463.3,346.4 463.6,346.8 463.9,346.5 464.2,346.3 464.5,346.8 464.8,346.7 465.1,346.5 465.4,346.8 465.7,346.9 466.0,347.0 466.3,346.7 466.6,346.9 466.9,346.4 467.2,346.7 467.6,346.1 467.9,346.2 468.2,347.0 468.5,346.2 468.8,346.7 469.1,346.1 469.4,346.3 469.7,346.5 470.0,346.2 470.3,346.6 470.6,346.3 470.9,346.3 471.2,346.4 471.5,346.2 471.8,346.7 472.1,346.1 472.4,346.7 472.7,346.1 473.0,346.1 473.3,346.0 473.6,346.4 474.0,345.2 474.3,346.3 474.6,346.1 474.9,346.4 475.2,345.7 475.5,346.3 475.8,345.8 476.1,346.4 476.4,346.0 476.7,345.9 477.0,343.6 477.3,342.4 477.6,341.3 477.9,339.9 478.2,339.6 478.5,338.8 478.8,337.7 479.1,338.1 479.4,336.8 479.8,336.9 480.1,336.8 480.4,336.2 480.7,335.9 481.0,336.2 481.3,336.0 481.6,335.6 481.9,335.5 482.2,335.7 482.5,335.9 482.8,335.9 483.1,335.8 483.4,335.3 483.7,335.4 484.0,335.4 484.3,335.1 484.6,335.6 484.9,335.7 485.2,335.7 485.5,334.9 485.9,336.2 486.2,335.4 486.5,335.4 486.8,335.5 487.1,334.8 487.4,335.2 487.7,335.3 488.0,335.9 488.3,335.4 488.6,335.7 488.9,335.6 489.2,335.5 489.5,335.8 489.8,335.4 490.1,335.1 490.4,335.3 490.7,335.6 491.0,336.3 491.3,335.3 491.6,335.3 491.9,335.7 492.3,335.8 492.6,335.5 492.9,336.0 493.2,335.5 493.5,336.1 493.8,336.0 494.1,335.7 494.4,336.2 494.7,335.8 495.0,335.6 495.3,336.2 495.6,335.5 495.9,336.0 496.2,335.6 496.5,335.7 496.8,336.0 497.1,336.0 497.4,336.4 497.7,336.1 498.1,336.1 498.4,335.3 498.7,335.5 499.0,336.3 499.3,335.6 499.6,335.8 499.9,336.0 500.2,335.8 500.5,335.7 500.8,336.1 501.1,336.0 501.4,335.9 501.7,336.3 502.0,335.9 502.3,336.0 502.6,336.2 502.9,336.3 503.2,335.9 503.5,335.7 503.8,335.9 504.1,336.3 504.5,335.8 504.8,336.0 505.1,335.9 505.4,335.7 505.7,336.4 506.0,336.1 506.3,336.3 506.6,336.4 506.9,335.5 507.2,335.8 507.5,336.7 507.8,336.0 508.1,336.3 508.4,335.8 508.7,336.1 509.0,336.2 509.3,336.1 509.6,336.1 509.9,336.2 510.2,336.3 510.6,336.2 510.9,336.1 511.2,336.6 511.5,336.2 511.8,336.3 512.1,336.4 512.4,336.0 512.7,336.7 513.0,336.4 513.3,336.6" fill="none" stroke="#cc33ee" stroke-width="1.6" stroke-linejoin="round"/>
<polyline points="403.5,404.2 403.8,402.9 404.1,401.1 404.4,399.5 404.7,398.6 405.0,396.5 405.3,395.5 405.6,393.9 405.9,392.5 406.2,390.9 406.6,389.7 406.9,388.2 407.2,387.5 407.5,386.5 407.8,385.4 408.1,384.0 408.4,382.6 408.7,382.0 409.0,381.3 409.3,380.1 409.6,379.2 409.9,378.3 410.2,377.7 410.5,377.4 410.8,376.0 411.1,374.6 411.4,374.1 411.7,374.2 412.0,372.7 412.3,372.6 412.6,370.7 413.0,370.6 413.3,370.4 413.6,369.1 413.9,369.0 414.2,368.0 414.5,367.6 414.8,367.4 415.1,366.3 415.4,366.4 415.7,365.0 416.0,364.9 416.3,364.8 416.6,364.6 416.9,363.0 417.2,362.6 417.5,363.1 417.8,361.7 418.1,361.8 418.4,361.5 418.8,361.1 419.1,360.8 419.4,359.9 419.7,360.0 420.0,360.3 420.3,358.7 420.6,358.8 420.9,359.1 421.2,358.5 421.5,358.4 421.8,357.8 422.1,357.5 422.4,357.2 422.7,357.3 423.0,357.1 423.3,356.3 423.6,356.4 423.9,355.4 424.2,356.2 424.5,355.4 424.9,355.5 425.2,355.5 425.5,354.6 425.8,354.8 426.1,355.0 426.4,354.6 426.7,354.0 427.0,354.6 427.3,353.6 427.6,353.6 427.9,353.8 428.2,353.1 428.5,352.8 428.8,353.1 429.1,353.1 429.4,352.4 429.7,352.4 430.0,353.0 430.3,352.7 430.6,352.6 430.9,352.5 431.3,352.8 431.6,351.9 431.9,352.0 432.2,351.9 432.5,351.4 432.8,352.0 433.1,351.7 433.4,351.5 433.7,351.6 434.0,351.5 434.3,351.1 434.6,351.3 434.9,350.8 435.2,351.3 435.5,351.0 435.8,351.4 436.1,350.9 436.4,351.1 436.7,350.3 437.1,350.5 437.4,350.5 437.7,350.0 438.0,350.1 438.3,350.2 438.6,350.6 438.9,350.8 439.2,350.3 439.5,350.4 439.8,350.4 440.1,350.3 440.4,350.6 440.7,349.5 441.0,350.2 441.3,350.0 441.6,349.5 441.9,350.1 442.2,349.2 442.5,349.1 442.8,349.4 443.1,349.6 443.5,349.3 443.8,349.6 444.1,348.5 444.4,348.9 444.7,349.0 445.0,349.0 445.3,348.5 445.6,348.1 445.9,348.9 446.2,348.6 446.5,348.9 446.8,348.0 447.1,348.1 447.4,347.4 447.7,348.1 448.0,348.1 448.3,348.1 448.6,347.6 448.9,348.3 449.2,347.5 449.6,347.6 449.9,347.7 450.2,347.8 450.5,347.1 450.8,346.8 451.1,347.5 451.4,347.1 451.7,346.7 452.0,347.4 452.3,347.2 452.6,347.4 452.9,347.0 453.2,347.0 453.5,347.0 453.8,347.1 454.1,347.3 454.4,347.2 454.7,347.0 455.0,346.4 455.4,346.8 455.7,346.8 456.0,346.3 456.3,346.3 456.6,346.6 456.9,346.6 457.2,346.1 457.5,346.2 457.8,346.5 458.1,346.1 458.4,346.2 458.7,345.7 459.0,346.3 459.3,345.7 459.6,345.8 459.9,346.3 460.2,345.6 460.5,345.6 460.8,346.3 461.1,345.1 461.4,346.1 461.8,346.0 462.1,345.8 462.4,345.4 462.7,345.4 463.0,345.6 463.3,345.1 463.6,345.4 463.9,345.0 464.2,344.5 464.5,345.4 464.8,346.2 465.1,345.5 465.4,345.7 465.7,345.3 466.0,345.2 466.3,345.7 466.6,345.6 466.9,345.3 467.2,345.2 467.6,346.0 467.9,344.8 468.2,345.1 468.5,345.1 468.8,344.9 469.1,345.4 469.4,345.0 469.7,344.6 470.0,344.6 470.3,344.8 470.6,345.0 470.9,345.1 471.2,344.4 471.5,344.7 471.8,344.9 472.1,345.5 472.4,345.1 472.7,345.4 473.0,344.3 473.3,344.6 473.6,344.9 474.0,344.8 474.3,343.8 474.6,344.2 474.9,345.1 475.2,344.6 475.5,345.0 475.8,345.1 476.1,344.5 476.4,343.7 476.7,341.5 477.0,342.1 477.3,342.2 477.6,342.1 477.9,341.8 478.2,342.7 478.5,342.8 478.8,341.6 479.1,342.1 479.4,341.7 479.8,342.2 480.1,341.8 480.4,342.5 480.7,342.1 481.0,341.8 481.3,342.0 481.6,342.5 481.9,342.1 482.2,342.6 482.5,342.9 482.8,342.2 483.1,342.0 483.4,342.2 483.7,342.9 484.0,342.2 484.3,342.3 484.6,342.7 484.9,343.4 485.2,342.2 485.5,342.3 485.9,342.4 486.2,343.2 486.5,343.1 486.8,342.3 487.1,342.4 487.4,342.5 487.7,342.8 488.0,342.6 488.3,342.9 488.6,342.8 488.9,343.0 489.2,342.7 489.5,342.9 489.8,342.5 490.1,342.6 490.4,343.1 490.7,342.2 491.0,343.2 491.3,342.7 491.6,342.5 491.9,342.5 492.3,343.7 492.6,342.6 492.9,342.5 493.2,342.5 493.5,343.7 493.8,343.2 494.1,343.0 494.4,343.1 494.7,342.6 495.0,343.3 495.3,342.6 495.6,342.9 495.9,343.6 496.2,343.4 496.5,343.2 496.8,343.1 497.1,342.8 497.4,343.2 497.7,342.8 498.1,343.7 498.4,344.2 498.7,343.3 499.0,343.0 499.3,343.3 499.6,343.6 499.9,343.1 500.2,342.6 500.5,343.3 500.8,343.5 501.1,343.6 501.4,342.6 501.7,343.3 502.0,343.1 502.3,342.9 502.6,343.0 502.9,343.7 503.2,343.0 503.5,343.1 503.8,343.2 504.1,343.0 504.5,343.6 504.8,343.4 505.1,343.6 505.4,343.2 505.7,343.7 506.0,343.3 506.3,343.8 506.6,343.5 506.9,343.6 507.2,343.5 507.5,343.5 507.8,343.6 508.1,343.6 508.4,344.2 508.7,343.2 509.0,343.8 509.3,343.6 509.6,343.9 509.9,343.2 510.2,343.9 510.6,343.4 510.9,343.2 511.2,343.1 511.5,343.2 511.8,343.4 512.1,344.1 512.4,343.2 512.7,343.3 513.0,343.4 513.3,343.4" fill="none" stroke="#1ccc1c" stroke-width="1.6" stroke-linejoin="round"/>
<polyline points="403.5,404.4 403.8,402.9 404.1,400.8 404.4,399.2 404.7,398.4 405.0,396.3 405.3,395.1 405.6,393.5 405.9,392.4 406.2,390.8 406.6,389.6 406.9,388.4 407.2,388.0 407.5,386.1 407.8,385.3 408.1,384.6 408.4,382.9 408.7,382.6 409.0,380.8 409.3,379.6 409.6,379.4 409.9,378.0 410.2,377.3 410.5,376.4 410.8,376.2 411.1,374.8 411.4,374.2 411.7,373.2 412.0,372.7 412.3,371.6 412.6,371.2 413.0,370.4 413.3,369.5 413.6,369.3 413.9,368.4 414.2,368.1 414.5,367.4 414.8,367.2 415.1,366.2 415.4,365.5 415.7,365.5 416.0,364.7 416.3,364.3 416.6,364.4 416.9,363.4 417.2,362.6 417.5,362.8 417.8,362.8 418.1,361.8 418.4,361.7 418.8,360.4 419.1,360.7 419.4,360.4 419.7,360.2 420.0,359.6 420.3,359.5 420.6,359.3 420.9,358.7 421.2,358.7 421.5,357.7 421.8,358.2 422.1,357.6 422.4,357.5 422.7,357.5 423.0,356.2 423.3,357.3 423.6,355.8 423.9,356.6 424.2,355.9 424.5,354.9 424.9,356.2 425.2,355.7 425.5,354.6 425.8,354.8 426.1,354.9 426.4,354.5 426.7,354.7 427.0,354.1 427.3,353.5 427.6,354.0 427.9,353.6 428.2,353.1 428.5,352.7 428.8,353.5 429.1,353.0 429.4,353.2 429.7,353.1 430.0,352.9 430.3,352.8 430.6,353.1 430.9,353.0 431.3,352.5 431.6,352.1 431.9,351.6 432.2,352.1 432.5,351.9 432.8,351.5 433.1,351.4 433.4,351.6 433.7,351.5 434.0,350.8 434.3,351.4 434.6,351.4 434.9,351.7 435.2,350.9 435.5,351.1 435.8,350.3 436.1,351.0 436.4,350.5 436.7,350.4 437.1,350.1 437.4,351.1 437.7,350.0 438.0,350.5 438.3,350.5 438.6,350.5 438.9,350.5 439.2,350.4 439.5,351.0 439.8,350.0 440.1,350.1 440.4,350.5 440.7,350.2 441.0,349.5 441.3,350.1 441.6,350.4 441.9,349.8 442.2,350.6 442.5,350.4 442.8,350.6 443.1,350.5 443.5,350.2 443.8,350.3 444.1,350.8 444.4,350.6 444.7,350.5 445.0,350.7 445.3,350.6 445.6,350.9 445.9,350.9 446.2,350.7 446.5,351.1 446.8,350.6 447.1,350.8 447.4,351.1 447.7,351.0 448.0,351.0 448.3,350.9 448.6,350.9 448.9,351.0 449.2,351.2 449.6,350.5 449.9,350.7 450.2,351.0 450.5,350.7 450.8,351.0 451.1,351.2 451.4,351.1 451.7,350.2 452.0,350.8 452.3,350.8 452.6,351.3 452.9,351.0 453.2,350.5 453.5,351.1 453.8,350.9 454.1,350.9 454.4,351.1 454.7,350.8 455.0,351.3 455.4,351.2 455.7,351.6 456.0,350.6 456.3,351.4 456.6,351.4 456.9,351.0 457.2,351.7 457.5,351.5 457.8,351.8 458.1,351.6 458.4,351.7 458.7,351.4 459.0,351.7 459.3,351.9 459.6,351.8 459.9,351.7 460.2,351.9 460.5,351.4 460.8,351.5 461.1,351.7 461.4,352.2 461.8,351.6 462.1,352.3 462.4,351.8 462.7,351.9 463.0,352.1 463.3,352.2 463.6,352.2 463.9,351.3 464.2,352.1 464.5,352.1 464.8,351.7 465.1,351.9 465.4,351.7 465.7,352.5 466.0,352.4 466.3,351.0 466.6,352.1 466.9,352.2 467.2,352.1 467.6,351.8 467.9,352.6 468.2,352.1 468.5,352.2 468.8,352.0 469.1,352.2 469.4,352.4 469.7,352.6 470.0,353.1 470.3,352.0 470.6,352.8 470.9,352.5 471.2,351.8 471.5,352.5 471.8,352.2 472.1,352.5 472.4,352.2 472.7,352.4 473.0,352.6 473.3,352.0 473.6,352.6 474.0,352.9 474.3,352.6 474.6,352.3 474.9,352.9 475.2,352.3 475.5,352.3 475.8,351.9 476.1,352.8 476.4,352.4 476.7,353.2 477.0,352.8 477.3,352.6 477.6,352.5 477.9,352.7 478.2,352.7 478.5,352.9 478.8,352.9 479.1,352.6 479.4,352.6 479.8,352.5 480.1,352.4 480.4,352.4 480.7,353.4 481.0,353.0 481.3,352.9 481.6,353.0 481.9,352.5 482.2,352.6 482.5,352.9 482.8,352.8 483.1,352.5 483.4,353.0 483.7,353.0 484.0,352.6 484.3,352.8 484.6,352.5 484.9,352.8 485.2,352.7 485.5,353.2 485.9,353.3 486.2,353.0 486.5,353.9 486.8,352.9 487.1,352.7 487.4,353.0 487.7,353.1 488.0,352.7 488.3,353.1 488.6,352.8 488.9,352.4 489.2,352.9 489.5,352.8 489.8,353.0 490.1,353.1 490.4,353.1 490.7,353.2 491.0,352.8 491.3,353.7 491.6,353.3 491.9,353.0 492.3,353.5 492.6,353.3 492.9,353.5 493.2,353.1 493.5,353.0 493.8,352.8 494.1,353.1 494.4,353.5 494.7,353.2 495.0,353.1 495.3,352.9 495.6,354.0 495.9,353.2 496.2,354.0 496.5,353.1 496.8,353.2 497.1,353.2 497.4,353.1 497.7,353.3 498.1,353.6 498.4,353.3 498.7,353.0 499.0,353.5 499.3,353.4 499.6,353.9 499.9,353.1 500.2,353.6 500.5,353.7 500.8,353.6 501.1,353.8 501.4,353.6 501.7,353.1 502.0,353.3 502.3,353.1 502.6,353.1 502.9,353.8 503.2,353.4 503.5,353.1 503.8,352.8 504.1,354.1 504.5,354.1 504.8,353.5 505.1,353.7 505.4,353.9 505.7,353.5 506.0,353.9 506.3,354.4 506.6,353.7 506.9,353.6 507.2,353.5 507.5,353.4 507.8,353.6 508.1,353.8 508.4,353.9 508.7,354.2 509.0,353.9 509.3,353.4 509.6,353.5 509.9,353.1 510.2,353.8 510.6,354.3 510.9,353.5 511.2,353.4 511.5,354.2 511.8,354.3 512.1,353.7 512.4,353.6 512.7,354.2 513.0,353.9 513.3,354.1" fill="none" stroke="#ff1a1a" stroke-width="1.6" stroke-linejoin="round"/>
<polyline points="403.5,405.5 403.8,405.6 404.1,404.4 404.4,404.8 404.7,405.1 405.0,406.6 405.3,403.1 405.6,405.3 405.9,404.6 406.2,405.4 406.6,404.2 406.9,405.7 407.2,404.4 407.5,404.7 407.8,403.8 408.1,405.4 408.4,405.0 408.7,404.7 409.0,402.8 409.3,405.7 409.6,404.3 409.9,405.0 410.2,404.3 410.5,404.0 410.8,404.4 411.1,404.3 411.4,404.3 411.7,405.0 412.0,404.7 412.3,405.9 412.6,404.8 413.0,405.1 413.3,404.7 413.6,403.9 413.9,404.2 414.2,404.1 414.5,403.6 414.8,406.4 415.1,404.2 415.4,404.5 415.7,404.6 416.0,405.6 416.3,404.1 416.6,403.6 416.9,403.7 417.2,404.6 417.5,404.0 417.8,403.8 418.1,403.1 418.4,403.5 418.8,404.4 419.1,404.5 419.4,404.4 419.7,404.3 420.0,404.9 420.3,403.9 420.6,405.1 420.9,405.2 421.2,404.2 421.5,405.0 421.8,404.7 422.1,406.2 422.4,403.9 422.7,404.5 423.0,404.6 423.3,404.2 423.6,404.4 423.9,405.1 424.2,402.9 424.5,404.9 424.9,403.7 425.2,403.1 425.5,405.0 425.8,404.5 426.1,405.2 426.4,403.7 426.7,404.8 427.0,405.4 427.3,403.5 427.6,403.8 427.9,405.2 428.2,403.6 428.5,404.4 428.8,402.3 429.1,403.2 429.4,405.0 429.7,404.7 430.0,405.2 430.3,404.4 430.6,404.5 430.9,403.9 431.3,404.5 431.6,405.7 431.9,405.2 432.2,403.4 432.5,403.6 432.8,404.7 433.1,404.6 433.4,404.7 433.7,404.5 434.0,405.9 434.3,403.8 434.6,405.1 434.9,404.4 435.2,406.6 435.5,404.3 435.8,403.5 436.1,406.3 436.4,403.3 436.7,404.2 437.1,405.1 437.4,405.8 437.7,403.6 438.0,404.3 438.3,404.1 438.6,404.7 438.9,405.2 439.2,403.8 439.5,405.3 439.8,403.8 440.1,405.9 440.4,405.3 440.7,405.7 441.0,403.5 441.3,405.9 441.6,405.4 441.9,404.0 442.2,404.3 442.5,402.8 442.8,403.1 443.1,404.0 443.5,404.0 443.8,406.0 444.1,405.2 444.4,404.8 444.7,404.7 445.0,405.6 445.3,405.3 445.6,405.2 445.9,403.7 446.2,404.2 446.5,404.8 446.8,404.8 447.1,404.3 447.4,405.1 447.7,404.7 448.0,405.9 448.3,404.0 448.6,403.8 448.9,404.2 449.2,404.1 449.6,404.2 449.9,402.9 450.2,404.4 450.5,405.6 450.8,405.4 451.1,404.0 451.4,403.7 451.7,403.9 452.0,403.9 452.3,404.4 452.6,405.7 452.9,405.1 453.2,406.0 453.5,404.8 453.8,405.6 454.1,404.5 454.4,404.7 454.7,406.1 455.0,403.9 455.4,403.9 455.7,405.7 456.0,404.4 456.3,404.0 456.6,404.8 456.9,403.8 457.2,404.4 457.5,403.7 457.8,404.4 458.1,404.7 458.4,404.1 458.7,403.9 459.0,404.3 459.3,404.9 459.6,405.2 459.9,404.8 460.2,405.0 460.5,404.4 460.8,404.4 461.1,404.6 461.4,404.5 461.8,404.4 462.1,403.3 462.4,403.6 462.7,405.0 463.0,404.2 463.3,404.8 463.6,404.6 463.9,404.7 464.2,405.0 464.5,405.6 464.8,406.5 465.1,404.4 465.4,403.6 465.7,405.3 466.0,404.1 466.3,404.9 466.6,404.3 466.9,405.2 467.2,404.7 467.6,404.6 467.9,406.5 468.2,404.4 468.5,404.7 468.8,406.6 469.1,404.0 469.4,404.6 469.7,404.4 470.0,404.3 470.3,404.9 470.6,405.4 470.9,404.9 471.2,404.9 471.5,402.7 471.8,403.1 472.1,404.9 472.4,404.9 472.7,404.3 473.0,404.1 473.3,405.1 473.6,405.4 474.0,403.0 474.3,403.7 474.6,405.8 474.9,406.0 475.2,405.2 475.5,404.4 475.8,404.1 476.1,404.8 476.4,405.9 476.7,404.4 477.0,404.1 477.3,404.6 477.6,405.0 477.9,404.1 478.2,404.6 478.5,405.5 478.8,404.5 479.1,405.6 479.4,403.8 479.8,404.2 480.1,405.4 480.4,404.4 480.7,403.5 481.0,406.3 481.3,404.7 481.6,403.2 481.9,405.8 482.2,404.7 482.5,405.7 482.8,404.6 483.1,406.5 483.4,405.9 483.7,405.0 484.0,404.4 484.3,404.2 484.6,404.2 484.9,403.6 485.2,404.0 485.5,404.0 485.9,405.4 486.2,404.7 486.5,401.9 486.8,402.7 487.1,403.9 487.4,403.9 487.7,403.7 488.0,404.9 488.3,402.9 488.6,404.9 488.9,404.6 489.2,402.8 489.5,406.3 489.8,404.3 490.1,406.0 490.4,405.1 490.7,404.6 491.0,404.8 491.3,404.4 491.6,405.2 491.9,404.6 492.3,405.5 492.6,404.9 492.9,405.7 493.2,404.0 493.5,405.6 493.8,404.0 494.1,404.9 494.4,404.8 494.7,403.6 495.0,404.5 495.3,406.1 495.6,404.1 495.9,407.0 496.2,404.3 496.5,404.9 496.8,405.7 497.1,404.5 497.4,404.8 497.7,402.9 498.1,404.9 498.4,402.9 498.7,403.4 499.0,405.1 499.3,405.2 499.6,403.5 499.9,404.7 500.2,404.4 500.5,404.8 500.8,405.6 501.1,404.9 501.4,405.4 501.7,405.8 502.0,404.8 502.3,403.1 502.6,403.2 502.9,404.6 503.2,404.4 503.5,404.1 503.8,403.4 504.1,404.3 504.5,405.0 504.8,404.9 505.1,403.6 505.4,402.4 505.7,405.1 506.0,406.3 506.3,403.9 506.6,404.6 506.9,404.4 507.2,403.5 507.5,404.5 507.8,405.7 508.1,406.2 508.4,404.6 508.7,405.5 509.0,404.3 509.3,405.6 509.6,404.9 509.9,405.8 510.2,404.9 510.6,404.9 510.9,404.1 511.2,403.4 511.5,404.7 511.8,405.3 512.1,402.9 512.4,404.3 512.7,404.0 513.0,404.0 513.3,403.3" fill="none" stroke="#1a1aff" stroke-width="1.6" stroke-linejoin="round"/>
<text x="91.40" y="137.00" font-size="11.8" fill="#222" font-family='"Liberation Serif", serif' textLength="12.60" lengthAdjust="spacingAndGlyphs">(a)</text>
<text x="321.00" y="136.00" font-size="11.8" fill="#222" font-family='"Liberation Serif", serif' textLength="12.60" lengthAdjust="spacingAndGlyphs">(b)</text>
<text x="273.80" y="462.40" font-size="11.8" fill="#222" font-family='"Liberation Serif", serif' textLength="11.70" lengthAdjust="spacingAndGlyphs">(c)</text>
</svg></body></html>
